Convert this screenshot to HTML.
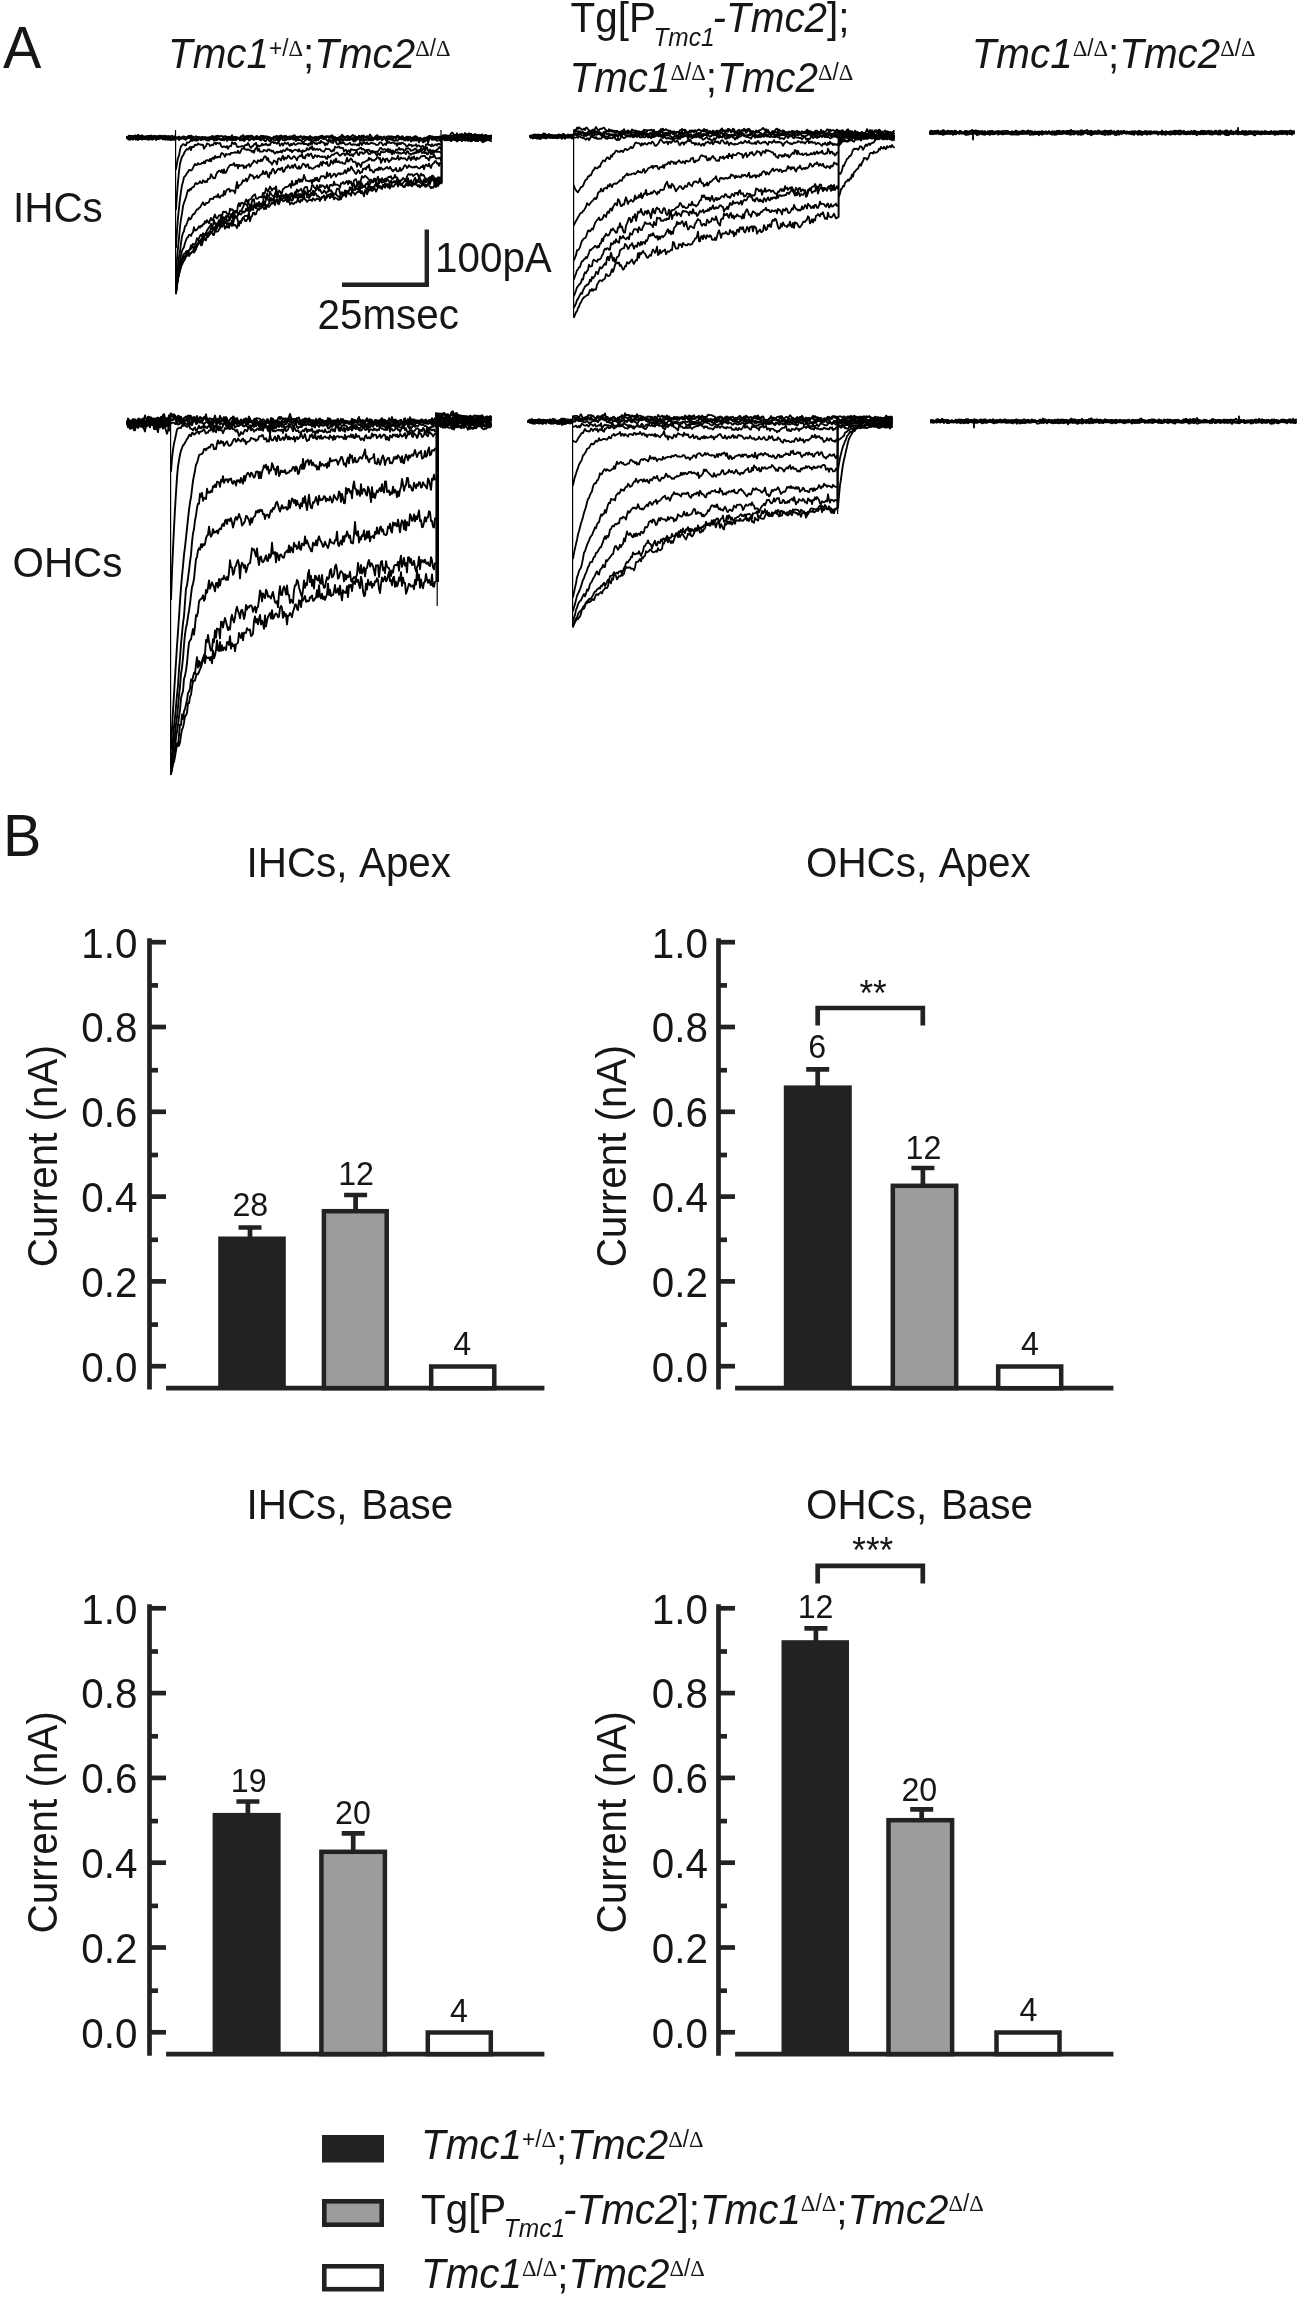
<!DOCTYPE html>
<html lang="en"><head><meta charset="utf-8"><title>Figure: Tmc1 / Tmc2 transduction currents</title>
<style>html,body{margin:0;padding:0;background:#fff}svg{display:block;filter:blur(0.45px)}text{font-family:"Liberation Sans",sans-serif;font-size:40.4px;fill:#161616}.it{font-style:italic}.pl{font-size:57.5px}.n{font-size:32.2px}.st{font-size:35px}.dl{font-family:"Liberation Serif",serif;font-style:normal}.up{font-style:normal}.ax{fill:none;stroke:#222222;stroke-width:4.7}.tr{fill:none;stroke:#000000;stroke-width:1.85;stroke-linejoin:round;stroke-linecap:round}.tv{fill:none;stroke:#000;stroke-width:1.2}</style></head><body>
<svg width="1302" height="2300" viewBox="0 0 1302 2300">
<rect width="1302" height="2300" fill="#fff"/>
<text transform="translate(3 67.5) scale(1 1.04)" class="pl">A</text>
<text transform="translate(3 855.5) scale(1 1.04)" class="pl">B</text>
<text transform="translate(168 67.9) scale(1 1.04)"><tspan class="it">Tmc1</tspan><tspan class="up" font-size="22.6" dy="-11.7">+/</tspan><tspan class="dl" font-size="22.6">Δ</tspan><tspan dy="11.7">;</tspan><tspan class="it">Tmc2</tspan><tspan class="dl" font-size="22.6" dy="-11.7">Δ</tspan><tspan class="up" font-size="22.6">/</tspan><tspan class="dl" font-size="22.6">Δ</tspan><tspan dy="11.7"></tspan></text>
<text transform="translate(570.6 32.2) scale(1 1.04)">Tg[P<tspan class="it" font-size="24.5" dy="13" dx="-2.5">Tmc1</tspan><tspan dy="-13" dx="-2" class="it">-Tmc2</tspan>];</text>
<text transform="translate(569.5 92) scale(1 1.04)"><tspan class="it">Tmc1</tspan><tspan class="dl" font-size="22.6" dy="-11.7">Δ</tspan><tspan class="up" font-size="22.6">/</tspan><tspan class="dl" font-size="22.6">Δ</tspan><tspan dy="11.7">;</tspan><tspan class="it">Tmc2</tspan><tspan class="dl" font-size="22.6" dy="-11.7">Δ</tspan><tspan class="up" font-size="22.6">/</tspan><tspan class="dl" font-size="22.6">Δ</tspan><tspan dy="11.7"></tspan></text>
<text transform="translate(971.7 67.9) scale(1 1.04)"><tspan class="it">Tmc1</tspan><tspan class="dl" font-size="22.6" dy="-11.7">Δ</tspan><tspan class="up" font-size="22.6">/</tspan><tspan class="dl" font-size="22.6">Δ</tspan><tspan dy="11.7">;</tspan><tspan class="it">Tmc2</tspan><tspan class="dl" font-size="22.6" dy="-11.7">Δ</tspan><tspan class="up" font-size="22.6">/</tspan><tspan class="dl" font-size="22.6">Δ</tspan><tspan dy="11.7"></tspan></text>
<text transform="translate(13 221.6) scale(1 1.04)">IHCs</text>
<text transform="translate(12.5 576.6) scale(1 1.04)">OHCs</text>
<path d="M342 284.8H426.8V229.4" fill="none" stroke="#222222" stroke-width="4.4"/>
<text transform="translate(435 272) scale(1 1.04)">100pA</text>
<text transform="translate(317.5 329.2) scale(1 1.04)">25msec</text>
<g>
<path class="tr" d="M127,137.5 128,136.9 129,137.3 130,139.0 131,138.7 132,137.9 133,136.6 134,137.1 135,137.5 136,136.0 137,136.7 138,135.6 139,136.7 140,137.1 141,138.3 142,137.3 143,138.1 144,137.9 145,137.4 146,136.1 147,136.3 148,136.0 149,137.0 150,136.3 151,137.0 152,137.4 153,136.4 154,137.0 155,136.6 156,137.3 157,137.6 158,137.6 159,137.8 160,137.1 161,136.7 162,136.8 163,137.7 164,137.2 165,136.9 166,138.2 167,138.6 168,137.7 169,138.6 170,137.5 171,138.1 172,138.1 173,139.1 174,138.0 175,138.3M176,137.3 177,137.4 178,137.7 179,136.6 180,137.7 181,137.6 182,137.2 183,136.4 184,136.5 185,136.9 186,137.3 187,137.2 188,136.1 189,135.9 190,136.2 191,135.5 192,136.9 193,136.4 194,137.4 195,137.0 196,136.2 197,137.0 198,136.8 199,138.7 200,137.3 201,137.5 202,137.6 203,137.0 204,137.4 205,136.9 206,137.7 207,137.5 208,137.5 209,137.5 210,137.3 211,138.2 212,137.1 213,137.8 214,136.4 215,137.4 216,136.0 217,136.0 218,135.6 219,136.3 220,136.3 221,135.8 222,136.2 223,137.0 224,136.3 225,136.1 226,136.4 227,137.3 228,136.7 229,137.1 230,137.1 231,136.6 232,135.2 233,137.2 234,137.1 235,136.9 236,137.5 237,137.1 238,138.0 239,138.7 240,137.7 241,136.5 242,136.3 243,135.1 244,136.2 245,137.6 246,136.0 247,136.7 248,135.7 249,137.9 250,135.6 251,137.1 252,136.5 253,136.6 254,137.3 255,137.5 256,136.2 257,135.9 258,137.2 259,137.3 260,137.9 261,136.8 262,136.0 263,135.9 264,136.3 265,136.2 266,137.5 267,136.5 268,137.2 269,137.0 270,137.5 271,138.6 272,138.0 273,137.6 274,137.4 275,137.1 276,136.2 277,136.6 278,137.3 279,137.0 280,136.7 281,137.6 282,138.0 283,136.4 284,136.5 285,136.4 286,135.8 287,137.3 288,137.2 289,136.6 290,136.5 291,136.5 292,136.1 293,136.4 294,135.1 295,135.6 296,137.3 297,136.7 298,136.9 299,136.8 300,136.3 301,136.4 302,136.9 303,136.8 304,136.3 305,136.9 306,137.7 307,137.5 308,137.2 309,137.2 310,135.9 311,137.5 312,137.8 313,137.5 314,138.0 315,137.7 316,137.6 317,138.1 318,137.7 319,138.6 320,136.4 321,137.7 322,138.3 323,138.9 324,139.2 325,138.0 326,137.4 327,136.8 328,136.5 329,136.3 330,136.1 331,136.2 332,135.3 333,136.1 334,137.1 335,137.4 336,138.2 337,139.0 338,138.1 339,137.3 340,137.0 341,136.4 342,136.5 343,137.7 344,137.6 345,138.3 346,137.1 347,137.1 348,137.4 349,137.6 350,138.6 351,138.1 352,138.1 353,138.2 354,138.3 355,135.9 356,137.5 357,137.2 358,137.4 359,135.8 360,136.3 361,136.9 362,136.3 363,135.5 364,135.7 365,137.4 366,137.3 367,136.0 368,136.7 369,136.7 370,134.5 371,136.0 372,137.6 373,137.7 374,138.0 375,138.3 376,139.1 377,138.6 378,138.6 379,137.9 380,137.8 381,138.6 382,139.4 383,138.7 384,137.7 385,138.3 386,138.4 387,138.8 388,138.3 389,137.8 390,137.7 391,136.9 392,138.7 393,139.2 394,137.1 395,137.2 396,137.4 397,135.7 398,136.3 399,137.2 400,137.6 401,137.3 402,137.3 403,137.9 404,138.3 405,138.5 406,137.6 407,137.8 408,137.1 409,136.8 410,136.6 411,138.3 412,137.6 413,137.7 414,137.5 415,137.8 416,137.4 417,137.0 418,137.8 419,139.1 420,140.4 421,139.4 422,138.7 423,138.9 424,138.3 425,138.5 426,138.0 427,138.0 428,137.2 429,135.9 430,135.9 431,137.2 432,136.4 433,136.7 434,137.0 435,137.6 436,136.6 437,137.5 438,136.7 439,137.4 440,136.3 441,137.7M442,138.6 443,137.2 444,136.9 445,137.3 446,137.9 447,136.3 448,136.6 449,137.7 450,138.6 451,138.9 452,138.0 453,138.9 454,139.1 455,138.4 456,139.1 457,138.6 458,139.5 459,139.9 460,138.6 461,139.7 462,141.1 463,139.7 464,139.3 465,137.0 466,138.1 467,138.7 468,138.8 469,138.1 470,137.6 471,136.6 472,137.5 473,137.0 474,137.2 475,137.1 476,136.8 477,135.7 478,137.2 479,137.5 480,138.6 481,140.4 482,139.4 483,137.5 484,136.1 485,136.6 486,135.5 487,136.1 488,136.3 489,137.1 490,136.0 491,135.9"/>
<path class="tr" d="M127,137.5 128,138.9 129,137.9 130,137.7 131,136.7 132,136.0 133,137.7 134,136.8 135,137.2 136,136.8 137,136.8 138,136.4 139,136.6 140,137.2 141,137.6 142,138.0 143,137.6 144,136.9 145,137.2 146,137.1 147,138.2 148,138.8 149,139.8 150,138.7 151,137.9 152,137.3 153,136.7 154,136.6 155,136.3 156,137.2 157,137.0 158,136.1 159,136.7 160,135.6 161,137.7 162,138.5 163,139.2 164,138.3 165,138.9 166,139.4 167,138.9 168,139.9 169,138.9 170,140.0 171,140.1 172,139.2 173,139.2 174,139.6 175,138.1M176,137.7 177,137.7 178,137.5 179,137.1 180,137.3 181,138.8 182,137.6 183,136.9 184,138.5 185,139.4 186,139.8 187,138.4 188,137.9 189,137.7 190,138.1 191,137.6 192,138.1 193,139.4 194,137.9 195,138.8 196,139.0 197,138.2 198,139.1 199,137.1 200,137.5 201,139.9 202,137.5 203,137.9 204,138.3 205,137.7 206,138.5 207,138.0 208,138.6 209,137.6 210,137.2 211,137.9 212,135.9 213,136.5 214,136.6 215,137.0 216,138.6 217,137.1 218,137.3 219,138.8 220,138.9 221,140.0 222,139.0 223,138.1 224,138.5 225,138.2 226,139.3 227,138.6 228,138.4 229,137.4 230,137.3 231,139.1 232,139.3 233,138.4 234,137.6 235,138.1 236,138.1 237,138.5 238,137.7 239,138.2 240,137.8 241,136.4 242,136.5 243,136.7 244,136.8 245,137.8 246,139.4 247,138.7 248,139.0 249,139.9 250,139.6 251,139.0 252,138.6 253,137.9 254,138.2 255,138.3 256,137.3 257,137.6 258,137.7 259,137.8 260,136.6 261,135.7 262,136.7 263,137.3 264,136.4 265,137.8 266,136.6 267,136.4 268,138.7 269,137.9 270,137.4 271,138.5 272,138.3 273,137.8 274,136.5 275,137.9 276,136.5 277,136.0 278,136.3 279,136.6 280,135.8 281,135.4 282,137.6 283,136.3 284,136.2 285,137.4 286,137.2 287,136.9 288,138.7 289,138.1 290,137.2 291,137.7 292,137.5 293,137.1 294,138.1 295,137.3 296,138.7 297,137.8 298,138.2 299,137.7 300,137.0 301,137.0 302,137.1 303,138.8 304,138.0 305,137.1 306,136.8 307,137.3 308,137.9 309,138.4 310,139.1 311,139.1 312,139.8 313,138.9 314,138.0 315,136.9 316,136.7 317,138.1 318,137.0 319,136.7 320,137.4 321,137.8 322,137.4 323,136.9 324,136.9 325,137.4 326,136.8 327,136.2 328,136.9 329,137.9 330,136.3 331,136.9 332,136.2 333,136.9 334,138.1 335,137.1 336,138.4 337,137.7 338,138.3 339,138.0 340,137.4 341,136.4 342,134.7 343,135.7 344,136.4 345,137.2 346,137.0 347,135.9 348,135.9 349,136.7 350,137.1 351,136.4 352,135.9 353,134.9 354,136.0 355,137.6 356,137.5 357,138.2 358,137.3 359,136.2 360,137.0 361,136.5 362,135.8 363,137.3 364,137.5 365,137.0 366,137.4 367,137.6 368,137.4 369,138.5 370,138.0 371,138.2 372,138.6 373,138.4 374,138.3 375,138.1 376,137.7 377,137.7 378,137.8 379,139.1 380,136.5 381,137.3 382,138.3 383,138.0 384,136.4 385,137.7 386,137.4 387,136.5 388,136.6 389,136.1 390,137.1 391,136.1 392,137.0 393,136.7 394,137.6 395,137.0 396,138.2 397,137.6 398,136.2 399,138.4 400,138.1 401,137.2 402,136.2 403,136.6 404,138.3 405,139.8 406,137.1 407,138.3 408,137.5 409,139.1 410,139.6 411,139.9 412,138.5 413,137.5 414,137.4 415,136.1 416,136.2 417,138.6 418,139.4 419,139.6 420,137.6 421,139.2 422,140.4 423,140.2 424,138.2 425,137.7 426,138.9 427,137.2 428,136.8 429,138.4 430,137.9 431,137.4 432,137.4 433,138.2 434,138.4 435,137.8 436,139.2 437,138.5 438,137.4 439,138.5 440,138.0 441,138.5M442,138.8 443,138.9 444,139.0 445,138.5 446,138.1 447,136.3 448,137.3 449,136.9 450,138.4 451,138.3 452,137.0 453,136.1 454,137.1 455,137.4 456,136.7 457,137.6 458,137.1 459,137.1 460,137.4 461,137.6 462,136.1 463,138.3 464,137.2 465,138.2 466,137.9 467,139.4 468,139.0 469,138.6 470,138.1 471,138.7 472,138.9 473,139.2 474,140.1 475,139.3 476,140.0 477,139.7 478,140.8 479,138.8 480,137.8 481,139.6 482,140.0 483,139.2 484,139.0 485,138.3 486,138.5 487,137.7 488,137.4 489,138.6 490,137.2 491,137.9"/>
<path class="tr" d="M127,137.5 128,137.9 129,138.4 130,137.7 131,138.3 132,138.7 133,139.6 134,138.3 135,138.9 136,139.7 137,138.6 138,137.7 139,138.4 140,137.6 141,138.5 142,135.2 143,137.1 144,137.8 145,137.8 146,138.4 147,139.5 148,138.7 149,139.0 150,138.3 151,136.7 152,138.8 153,139.3 154,137.8 155,138.1 156,136.8 157,136.9 158,137.0 159,136.9 160,136.8 161,135.8 162,137.4 163,135.8 164,136.9 165,137.5 166,137.5 167,136.7 168,137.9 169,136.8 170,137.2 171,136.9 172,137.2 173,138.6 174,138.4 175,137.8M176,138.5 177,138.8 178,138.5 179,140.1 180,139.1 181,138.5 182,138.7 183,138.1 184,138.9 185,137.7 186,138.6 187,138.3 188,137.0 189,137.7 190,138.1 191,137.9 192,138.2 193,137.5 194,138.0 195,138.9 196,138.8 197,140.5 198,139.6 199,138.7 200,139.4 201,137.8 202,136.8 203,139.5 204,139.2 205,139.0 206,139.8 207,140.3 208,140.6 209,140.5 210,139.0 211,138.0 212,139.0 213,139.5 214,139.6 215,139.9 216,139.7 217,139.4 218,138.7 219,139.4 220,139.4 221,139.6 222,139.7 223,139.5 224,140.3 225,138.8 226,138.3 227,141.0 228,140.0 229,138.8 230,139.9 231,139.5 232,140.4 233,138.3 234,138.3 235,137.6 236,137.0 237,138.2 238,138.2 239,138.8 240,140.5 241,138.5 242,140.3 243,138.2 244,138.6 245,138.5 246,137.9 247,137.0 248,137.0 249,137.3 250,136.7 251,136.2 252,135.6 253,137.8 254,137.7 255,139.1 256,139.2 257,138.8 258,139.1 259,138.2 260,140.1 261,140.3 262,139.1 263,137.9 264,139.6 265,137.3 266,137.0 267,138.9 268,139.0 269,138.4 270,138.6 271,139.3 272,138.7 273,138.5 274,137.6 275,137.4 276,136.8 277,139.3 278,138.8 279,139.8 280,138.1 281,138.2 282,137.8 283,136.5 284,138.2 285,139.2 286,139.3 287,139.4 288,137.9 289,137.9 290,136.7 291,138.5 292,137.5 293,139.6 294,139.7 295,139.1 296,138.2 297,137.4 298,137.4 299,137.0 300,137.3 301,136.3 302,138.0 303,139.4 304,138.9 305,137.4 306,139.1 307,139.1 308,139.1 309,138.4 310,137.8 311,136.8 312,137.6 313,137.6 314,137.9 315,138.5 316,138.4 317,139.2 318,137.9 319,136.9 320,136.7 321,135.9 322,137.3 323,136.6 324,137.1 325,136.8 326,136.2 327,137.0 328,137.1 329,137.6 330,137.3 331,137.9 332,137.8 333,139.6 334,138.4 335,139.5 336,139.7 337,140.6 338,139.8 339,140.6 340,139.7 341,138.7 342,139.0 343,139.4 344,139.0 345,138.4 346,139.8 347,140.2 348,138.0 349,138.9 350,139.4 351,138.3 352,138.6 353,138.9 354,140.1 355,140.3 356,138.5 357,138.8 358,138.7 359,137.3 360,137.3 361,137.7 362,138.0 363,138.2 364,139.8 365,139.8 366,139.9 367,139.5 368,139.4 369,140.4 370,139.4 371,138.1 372,139.0 373,139.9 374,138.8 375,137.0 376,136.0 377,135.1 378,136.4 379,136.7 380,137.9 381,137.6 382,137.1 383,137.8 384,138.3 385,137.7 386,140.7 387,141.1 388,138.4 389,138.7 390,138.3 391,137.3 392,137.6 393,136.6 394,137.7 395,137.4 396,137.1 397,136.9 398,135.8 399,136.5 400,137.7 401,138.5 402,138.4 403,138.0 404,138.5 405,138.6 406,137.5 407,136.6 408,138.4 409,139.1 410,139.1 411,139.5 412,139.3 413,138.4 414,138.8 415,139.3 416,139.2 417,138.9 418,138.8 419,139.6 420,139.7 421,138.6 422,140.1 423,139.6 424,139.9 425,140.1 426,139.1 427,140.3 428,139.9 429,138.0 430,138.0 431,136.3 432,139.3 433,137.4 434,137.1 435,137.8 436,137.0 437,138.5 438,137.5 439,137.2 440,139.6 441,139.4M442,136.9 443,135.2 444,136.8 445,137.5 446,135.1 447,136.5 448,135.7 449,137.3 450,136.6 451,135.7 452,136.0 453,136.3 454,134.6 455,135.1 456,135.9 457,133.3 458,135.3 459,135.2 460,134.1 461,136.7 462,133.8 463,135.2 464,136.6 465,136.9 466,136.7 467,137.3 468,135.7 469,136.6 470,135.9 471,134.9 472,136.3 473,134.9 474,135.9 475,135.9 476,134.9 477,135.2 478,136.1 479,134.7 480,135.6 481,135.0 482,134.4 483,135.7 484,135.4 485,135.6 486,136.0 487,136.1 488,135.9 489,136.6 490,135.6 491,135.4"/>
<path class="tr" d="M127,137.5 128,138.3 129,139.0 130,137.8 131,138.4 132,138.7 133,136.7 134,138.0 135,137.5 136,138.8 137,138.2 138,136.7 139,137.3 140,138.7 141,138.6 142,139.1 143,139.1 144,138.3 145,137.8 146,137.9 147,138.0 148,136.4 149,135.7 150,136.4 151,136.7 152,138.3 153,138.4 154,138.4 155,138.0 156,137.2 157,137.0 158,136.2 159,137.3 160,138.2 161,137.0 162,137.2 163,137.7 164,137.5 165,137.6 166,136.9 167,137.1 168,136.9 169,137.3 170,137.3 171,137.0 172,136.8 173,137.8 174,137.9 175,137.8M176,169.2 177,163.1 178,158.0 179,155.7 180,150.1 181,146.3 182,145.4 183,144.1 184,144.4 185,145.3 186,145.4 187,142.4 188,142.6 189,142.4 190,141.4 191,139.4 192,141.0 193,139.8 194,140.4 195,139.7 196,140.7 197,139.5 198,140.2 199,138.1 200,138.5 201,140.0 202,138.9 203,139.4 204,138.6 205,138.4 206,139.8 207,139.0 208,138.7 209,139.1 210,139.5 211,138.7 212,138.8 213,138.4 214,140.6 215,138.5 216,140.2 217,140.1 218,139.1 219,138.0 220,139.5 221,138.8 222,139.9 223,139.7 224,140.1 225,138.9 226,137.3 227,138.2 228,138.5 229,137.5 230,139.2 231,137.4 232,140.6 233,139.5 234,140.3 235,138.7 236,140.3 237,138.5 238,139.0 239,138.1 240,138.0 241,139.1 242,140.1 243,139.3 244,141.0 245,140.2 246,138.1 247,137.9 248,138.7 249,140.7 250,139.7 251,139.4 252,138.6 253,139.1 254,140.1 255,138.4 256,138.0 257,139.2 258,138.8 259,139.1 260,137.6 261,138.7 262,139.6 263,138.9 264,139.9 265,141.1 266,141.0 267,139.3 268,137.8 269,140.7 270,141.3 271,140.9 272,139.0 273,139.3 274,139.9 275,140.6 276,139.9 277,139.6 278,139.9 279,141.2 280,139.9 281,138.7 282,138.7 283,140.1 284,140.4 285,140.1 286,140.2 287,138.6 288,139.0 289,139.3 290,139.3 291,138.4 292,138.6 293,137.4 294,138.3 295,139.3 296,141.0 297,139.8 298,139.7 299,140.4 300,139.8 301,140.1 302,141.4 303,141.8 304,141.9 305,140.3 306,139.8 307,139.2 308,139.3 309,140.0 310,140.5 311,140.5 312,141.6 313,141.5 314,140.6 315,139.1 316,140.7 317,139.1 318,140.2 319,139.4 320,137.5 321,137.3 322,135.7 323,136.1 324,137.3 325,138.7 326,139.1 327,140.6 328,141.0 329,139.6 330,141.0 331,140.5 332,140.7 333,140.6 334,138.5 335,138.6 336,138.8 337,139.3 338,139.6 339,140.2 340,139.8 341,140.5 342,139.5 343,141.2 344,140.2 345,138.6 346,140.1 347,140.0 348,138.8 349,140.2 350,139.4 351,139.5 352,138.6 353,140.6 354,141.6 355,141.2 356,140.5 357,139.6 358,138.3 359,139.0 360,140.8 361,138.8 362,140.7 363,140.3 364,140.1 365,139.1 366,139.7 367,139.3 368,139.4 369,139.8 370,139.2 371,140.4 372,139.5 373,140.2 374,139.3 375,138.5 376,138.3 377,139.9 378,139.6 379,139.3 380,138.0 381,138.8 382,140.4 383,139.3 384,137.9 385,138.5 386,138.7 387,138.5 388,139.6 389,138.4 390,139.5 391,139.4 392,140.0 393,140.5 394,140.3 395,140.9 396,139.7 397,140.6 398,140.6 399,139.1 400,139.2 401,138.6 402,139.5 403,138.0 404,140.4 405,140.5 406,140.2 407,139.5 408,140.6 409,139.3 410,139.6 411,141.5 412,140.7 413,140.0 414,140.7 415,139.5 416,140.7 417,139.6 418,140.5 419,142.4 420,140.4 421,139.9 422,140.4 423,142.4 424,141.7 425,141.5 426,139.1 427,139.8 428,142.7 429,140.2 430,138.2 431,137.9 432,139.8 433,139.3 434,139.6 435,139.8 436,139.9 437,141.0 438,140.4 439,140.0 440,140.5 441,141.5M442,138.5 443,137.7 444,136.6 445,137.9 446,137.6 447,137.7 448,138.1 449,138.1 450,139.3 451,137.6 452,137.8 453,137.0 454,139.2 455,138.7 456,137.6 457,138.7 458,138.0 459,138.8 460,137.6 461,138.4 462,137.8 463,138.6 464,139.5 465,139.3 466,138.2 467,138.5 468,137.2 469,138.4 470,138.6 471,139.4 472,137.8 473,139.2 474,138.1 475,138.1 476,138.3 477,137.4 478,137.6 479,138.1 480,136.3 481,138.5 482,137.8 483,138.0 484,137.0 485,136.7 486,136.7 487,137.4 488,138.1 489,137.5 490,136.3 491,136.9"/>
<path class="tr" d="M127,137.5 128,138.4 129,138.4 130,137.1 131,137.8 132,137.5 133,138.5 134,137.6 135,138.3 136,137.7 137,138.1 138,138.6 139,137.2 140,137.4 141,137.3 142,137.3 143,136.5 144,138.4 145,137.5 146,138.0 147,138.5 148,136.9 149,137.5 150,136.8 151,137.3 152,138.0 153,137.2 154,137.5 155,137.5 156,137.7 157,137.5 158,138.9 159,138.6 160,138.1 161,138.0 162,137.6 163,138.7 164,138.8 165,139.6 166,136.7 167,137.2 168,138.2 169,137.3 170,137.3 171,138.3 172,139.7 173,138.7 174,138.6 175,138.4M176,209.2 177,194.0 178,181.8 179,171.5 180,163.8 181,160.1 182,156.7 183,155.7 184,153.5 185,151.5 186,150.0 187,148.9 188,149.6 189,148.2 190,146.9 191,150.1 192,146.6 193,147.1 194,146.9 195,144.6 196,145.2 197,145.0 198,143.5 199,144.4 200,144.4 201,144.9 202,144.6 203,144.9 204,148.7 205,146.8 206,146.2 207,143.5 208,143.9 209,144.1 210,146.0 211,145.3 212,144.7 213,145.3 214,143.3 215,142.6 216,144.3 217,142.7 218,143.3 219,143.5 220,142.9 221,145.6 222,146.8 223,147.0 224,146.4 225,146.7 226,147.5 227,146.1 228,148.8 229,146.7 230,146.0 231,146.2 232,142.7 233,142.8 234,144.1 235,142.8 236,143.9 237,146.7 238,147.1 239,146.6 240,146.7 241,146.5 242,146.2 243,146.1 244,147.2 245,145.3 246,144.7 247,145.1 248,143.0 249,144.8 250,146.8 251,147.9 252,146.2 253,146.2 254,144.1 255,144.4 256,142.7 257,147.3 258,145.4 259,146.5 260,145.9 261,145.8 262,143.7 263,145.3 264,144.4 265,144.8 266,143.6 267,145.0 268,145.3 269,144.5 270,145.1 271,142.2 272,142.3 273,141.7 274,143.1 275,142.4 276,143.1 277,143.8 278,141.9 279,143.0 280,145.8 281,144.3 282,143.6 283,145.5 284,143.6 285,142.5 286,143.7 287,143.7 288,142.7 289,144.8 290,145.9 291,143.8 292,145.1 293,143.7 294,143.0 295,144.8 296,144.6 297,144.2 298,143.2 299,143.4 300,143.5 301,143.4 302,143.6 303,142.3 304,144.2 305,144.0 306,144.2 307,144.0 308,145.6 309,143.4 310,144.7 311,142.3 312,144.0 313,142.3 314,142.1 315,143.8 316,143.1 317,144.3 318,143.0 319,142.5 320,143.3 321,140.7 322,142.3 323,142.4 324,142.8 325,145.3 326,143.3 327,144.8 328,143.2 329,140.8 330,139.8 331,142.3 332,142.5 333,143.0 334,140.4 335,140.7 336,142.1 337,144.2 338,144.5 339,143.9 340,141.2 341,143.7 342,142.7 343,143.0 344,142.8 345,144.3 346,144.7 347,144.5 348,144.1 349,143.5 350,142.8 351,144.6 352,145.0 353,144.2 354,144.6 355,144.4 356,144.6 357,145.4 358,144.2 359,145.8 360,142.3 361,143.2 362,145.0 363,142.8 364,141.7 365,143.5 366,144.1 367,142.1 368,144.0 369,144.1 370,143.7 371,142.7 372,142.9 373,143.5 374,143.5 375,143.9 376,144.8 377,144.8 378,144.9 379,143.4 380,142.3 381,142.4 382,143.6 383,145.3 384,144.5 385,143.6 386,144.9 387,141.9 388,142.9 389,141.8 390,142.9 391,143.1 392,142.7 393,142.6 394,142.8 395,143.8 396,143.2 397,145.9 398,143.0 399,144.2 400,142.9 401,144.1 402,142.6 403,143.0 404,143.9 405,144.2 406,146.0 407,146.4 408,145.7 409,144.2 410,145.0 411,144.8 412,146.4 413,145.3 414,145.6 415,145.5 416,144.2 417,146.8 418,145.5 419,145.5 420,146.4 421,147.0 422,146.2 423,146.0 424,147.6 425,148.7 426,144.5 427,144.3 428,144.0 429,145.0 430,144.9 431,146.2 432,144.3 433,146.0 434,145.7 435,144.5 436,144.3 437,145.5 438,143.8 439,143.6 440,144.6 441,144.1M442,136.4 443,135.7 444,135.5 445,136.3 446,136.3 447,137.3 448,138.7 449,138.7 450,137.2 451,137.6 452,137.3 453,136.6 454,138.8 455,139.5 456,138.7 457,137.7 458,136.9 459,136.6 460,136.6 461,136.0 462,136.7 463,136.1 464,136.1 465,137.0 466,136.2 467,136.7 468,135.1 469,135.4 470,136.8 471,135.2 472,136.5 473,136.4 474,136.1 475,137.3 476,136.9 477,136.4 478,136.6 479,137.6 480,137.9 481,137.8 482,139.0 483,138.8 484,138.1 485,138.0 486,137.5 487,136.6 488,137.6 489,136.8 490,137.1 491,137.4"/>
<path class="tr" d="M127,137.5 128,138.0 129,138.1 130,136.8 131,136.6 132,137.6 133,136.8 134,137.0 135,135.4 136,135.7 137,137.1 138,134.9 139,135.4 140,136.2 141,136.8 142,137.6 143,136.3 144,138.3 145,138.8 146,136.9 147,137.1 148,137.8 149,137.7 150,137.2 151,135.4 152,137.6 153,137.9 154,137.4 155,137.3 156,138.7 157,138.2 158,137.8 159,138.7 160,136.5 161,136.9 162,137.8 163,139.2 164,138.6 165,136.7 166,137.6 167,137.5 168,136.2 169,136.9 170,137.7 171,137.7 172,138.4 173,138.4 174,139.8 175,137.9M176,247.3 177,230.2 178,217.6 179,207.9 180,199.0 181,191.4 182,185.3 183,181.7 184,177.1 185,176.2 186,175.0 187,172.9 188,172.2 189,169.9 190,170.2 191,170.5 192,169.9 193,167.8 194,165.7 195,164.0 196,165.0 197,164.8 198,163.1 199,164.3 200,164.2 201,163.9 202,162.8 203,163.2 204,161.4 205,163.3 206,160.6 207,160.1 208,160.3 209,161.1 210,158.9 211,161.4 212,158.5 213,157.6 214,159.0 215,156.0 216,157.9 217,157.0 218,157.3 219,156.6 220,157.4 221,153.9 222,153.0 223,153.7 224,154.8 225,156.7 226,153.9 227,154.6 228,154.4 229,154.0 230,154.7 231,152.8 232,152.8 233,152.8 234,152.6 235,152.1 236,152.6 237,152.9 238,150.6 239,153.0 240,152.9 241,150.6 242,148.7 243,148.6 244,148.4 245,149.3 246,149.3 247,150.1 248,149.3 249,149.9 250,150.5 251,150.5 252,151.9 253,150.8 254,152.7 255,149.4 256,148.1 257,148.2 258,150.9 259,148.7 260,151.7 261,151.6 262,151.7 263,151.3 264,149.9 265,150.3 266,150.9 267,151.4 268,149.5 269,149.3 270,150.6 271,150.3 272,151.6 273,150.7 274,152.5 275,153.6 276,152.3 277,151.8 278,152.7 279,151.7 280,152.1 281,150.8 282,152.5 283,150.1 284,150.7 285,151.0 286,149.6 287,148.3 288,149.9 289,149.6 290,151.0 291,149.9 292,152.2 293,150.9 294,150.4 295,149.6 296,149.9 297,150.1 298,151.4 299,149.2 300,151.3 301,151.0 302,152.9 303,150.3 304,151.4 305,150.9 306,150.4 307,148.2 308,149.9 309,149.6 310,147.4 311,148.8 312,146.2 313,150.0 314,148.2 315,149.8 316,149.4 317,148.9 318,150.0 319,149.1 320,149.2 321,150.4 322,151.0 323,151.5 324,151.7 325,150.1 326,148.5 327,148.9 328,149.1 329,149.0 330,149.9 331,151.2 332,151.6 333,149.9 334,150.7 335,146.8 336,147.4 337,147.6 338,147.0 339,146.4 340,148.1 341,147.6 342,147.9 343,147.9 344,151.4 345,150.3 346,149.7 347,151.7 348,151.1 349,150.3 350,152.8 351,149.1 352,149.5 353,149.8 354,150.0 355,150.2 356,150.2 357,149.9 358,149.2 359,148.8 360,148.2 361,147.7 362,149.6 363,148.8 364,149.5 365,151.0 366,150.3 367,150.0 368,149.8 369,149.6 370,151.3 371,151.5 372,150.9 373,151.1 374,151.5 375,152.9 376,151.5 377,151.9 378,151.2 379,150.1 380,148.2 381,147.8 382,149.1 383,149.8 384,149.4 385,149.2 386,150.0 387,150.4 388,148.8 389,150.2 390,149.4 391,150.7 392,150.8 393,150.5 394,151.9 395,151.8 396,149.5 397,150.4 398,149.4 399,147.8 400,149.9 401,149.0 402,149.5 403,149.1 404,151.0 405,150.6 406,148.5 407,148.7 408,148.1 409,148.8 410,149.4 411,150.9 412,150.2 413,150.4 414,149.4 415,148.7 416,148.9 417,152.3 418,150.1 419,150.8 420,150.0 421,148.2 422,150.5 423,148.7 424,148.3 425,150.5 426,149.1 427,147.3 428,150.7 429,151.1 430,149.6 431,150.5 432,154.2 433,150.2 434,152.9 435,150.7 436,150.7 437,149.3 438,149.1 439,147.2 440,147.2 441,149.1M442,136.7 443,137.5 444,138.0 445,137.5 446,137.4 447,136.6 448,136.0 449,136.5 450,135.5 451,136.2 452,136.8 453,136.0 454,136.8 455,136.0 456,134.7 457,134.9 458,134.9 459,136.1 460,137.0 461,135.8 462,135.5 463,135.8 464,135.0 465,133.0 466,134.4 467,134.1 468,134.3 469,133.3 470,134.9 471,133.7 472,135.7 473,134.8 474,134.6 475,134.0 476,134.8 477,135.1 478,135.4 479,138.4 480,137.6 481,137.4 482,138.0 483,136.8 484,136.7 485,135.8 486,137.8 487,136.1 488,136.3 489,136.3 490,136.6 491,136.4"/>
<path class="tr" d="M127,137.5 128,137.1 129,135.6 130,136.9 131,136.7 132,138.8 133,138.1 134,137.3 135,137.0 136,136.9 137,137.8 138,137.9 139,137.3 140,136.3 141,136.5 142,137.7 143,138.6 144,137.5 145,137.9 146,138.9 147,137.6 148,139.3 149,138.2 150,139.1 151,137.7 152,137.5 153,137.6 154,137.4 155,136.8 156,136.6 157,136.9 158,136.8 159,137.6 160,137.3 161,137.6 162,137.6 163,138.4 164,138.8 165,138.0 166,137.1 167,138.5 168,137.3 169,136.6 170,138.5 171,139.2 172,138.4 173,137.7 174,137.3 175,137.3M176,273.6 177,259.3 178,247.5 179,238.1 180,226.7 181,219.0 182,213.6 183,206.3 184,202.8 185,200.1 186,197.3 187,193.6 188,190.0 189,190.9 190,188.9 191,189.7 192,187.7 193,187.2 194,186.7 195,183.7 196,182.9 197,184.1 198,183.5 199,183.0 200,181.3 201,182.7 202,183.2 203,180.3 204,181.2 205,182.3 206,181.0 207,182.0 208,178.8 209,178.9 210,178.3 211,174.1 212,176.0 213,177.8 214,178.3 215,178.2 216,175.2 217,172.7 218,171.8 219,170.7 220,170.9 221,172.2 222,170.0 223,173.0 224,169.5 225,173.1 226,172.5 227,170.4 228,167.7 229,166.7 230,164.9 231,165.0 232,164.7 233,164.7 234,163.0 235,166.0 236,165.2 237,164.7 238,168.3 239,164.8 240,166.0 241,165.6 242,165.2 243,165.4 244,168.2 245,166.2 246,167.8 247,165.4 248,165.2 249,163.9 250,166.7 251,165.4 252,163.5 253,162.6 254,160.5 255,161.5 256,162.0 257,163.2 258,160.3 259,160.9 260,161.4 261,159.4 262,161.1 263,159.6 264,157.1 265,156.2 266,156.9 267,160.0 268,158.0 269,161.6 270,161.9 271,162.8 272,164.5 273,162.6 274,160.5 275,161.1 276,162.1 277,164.3 278,158.9 279,158.2 280,159.0 281,160.5 282,157.6 283,155.7 284,159.9 285,157.4 286,158.7 287,158.1 288,155.7 289,156.2 290,158.0 291,158.8 292,158.7 293,156.9 294,156.1 295,157.2 296,158.5 297,160.3 298,157.3 299,156.7 300,155.5 301,156.4 302,154.2 303,158.0 304,157.1 305,158.4 306,155.1 307,155.5 308,153.7 309,156.1 310,154.3 311,153.5 312,155.9 313,158.1 314,157.3 315,155.1 316,155.7 317,157.0 318,155.6 319,155.9 320,156.9 321,156.8 322,156.3 323,157.2 324,156.9 325,156.4 326,158.5 327,159.0 328,155.7 329,157.4 330,157.0 331,155.8 332,154.6 333,154.8 334,154.3 335,153.4 336,153.3 337,152.4 338,153.4 339,155.0 340,155.7 341,155.2 342,153.9 343,153.5 344,153.5 345,155.4 346,154.4 347,152.0 348,154.5 349,153.9 350,155.5 351,155.4 352,154.2 353,156.2 354,154.1 355,153.5 356,151.9 357,151.8 358,154.7 359,155.2 360,152.3 361,152.7 362,152.3 363,153.9 364,153.4 365,152.5 366,151.8 367,150.6 368,152.9 369,154.1 370,154.1 371,152.9 372,152.3 373,152.5 374,151.9 375,151.8 376,154.2 377,155.8 378,153.1 379,154.2 380,155.1 381,151.4 382,152.1 383,152.2 384,152.2 385,151.9 386,151.3 387,149.8 388,151.8 389,151.3 390,152.4 391,151.4 392,154.4 393,151.8 394,153.5 395,151.9 396,152.6 397,152.8 398,152.1 399,153.5 400,152.8 401,153.9 402,153.1 403,152.8 404,152.7 405,152.8 406,154.1 407,151.2 408,151.3 409,153.6 410,153.8 411,154.7 412,153.9 413,153.2 414,153.7 415,152.2 416,153.2 417,151.7 418,152.5 419,152.2 420,150.5 421,151.2 422,153.1 423,152.9 424,151.5 425,153.3 426,152.2 427,154.3 428,154.2 429,150.9 430,152.0 431,154.0 432,152.7 433,152.1 434,151.8 435,151.1 436,151.8 437,151.8 438,151.5 439,151.9 440,152.0 441,152.5M442,138.9 443,138.4 444,138.4 445,138.3 446,135.9 447,137.5 448,137.9 449,137.7 450,137.4 451,137.6 452,139.3 453,139.0 454,139.8 455,139.5 456,139.3 457,140.4 458,139.0 459,139.9 460,139.2 461,139.9 462,139.4 463,139.8 464,138.7 465,139.2 466,138.3 467,137.2 468,138.1 469,137.9 470,139.7 471,138.5 472,139.3 473,139.7 474,138.8 475,139.2 476,139.5 477,140.2 478,139.4 479,138.2 480,138.8 481,139.6 482,138.5 483,139.0 484,140.1 485,139.0 486,139.6 487,137.6 488,138.3 489,138.1 490,137.8 491,138.6"/>
<path class="tr" d="M127,137.5 128,138.3 129,138.3 130,138.0 131,138.4 132,138.6 133,138.2 134,137.9 135,136.6 136,137.2 137,137.5 138,138.4 139,138.5 140,138.0 141,138.6 142,138.5 143,137.9 144,138.4 145,138.9 146,138.5 147,138.0 148,138.3 149,138.0 150,136.5 151,136.6 152,136.4 153,136.6 154,136.8 155,138.1 156,138.2 157,137.2 158,139.3 159,137.5 160,137.4 161,137.6 162,136.6 163,138.1 164,138.5 165,137.4 166,137.0 167,137.3 168,136.5 169,137.9 170,137.1 171,136.5 172,136.6 173,136.9 174,137.8 175,136.7M176,286.0 177,275.1 178,266.3 179,257.4 180,251.3 181,243.1 182,236.4 183,233.1 184,231.0 185,226.3 186,225.6 187,223.1 188,220.0 189,217.6 190,219.5 191,218.8 192,216.1 193,214.2 194,214.2 195,212.9 196,210.9 197,209.3 198,209.4 199,207.9 200,207.5 201,205.7 202,203.9 203,202.2 204,204.6 205,205.1 206,203.0 207,203.1 208,202.7 209,202.0 210,199.1 211,198.6 212,198.9 213,199.1 214,197.0 215,196.9 216,196.2 217,197.1 218,194.2 219,197.3 220,197.7 221,195.7 222,195.3 223,195.9 224,191.0 225,194.8 226,191.3 227,189.9 228,189.0 229,188.8 230,191.8 231,190.1 232,190.6 233,190.5 234,191.1 235,193.2 236,187.3 237,181.9 238,188.2 239,185.4 240,185.1 241,184.4 242,182.8 243,180.2 244,181.1 245,180.7 246,178.5 247,181.4 248,179.1 249,177.3 250,174.4 251,175.6 252,175.1 253,176.2 254,178.7 255,177.2 256,177.0 257,175.5 258,178.0 259,177.3 260,175.4 261,174.6 262,174.3 263,171.0 264,173.9 265,174.1 266,171.4 267,172.6 268,176.4 269,177.5 270,172.7 271,173.7 272,170.0 273,168.8 274,170.5 275,173.4 276,172.1 277,170.4 278,168.9 279,168.6 280,170.0 281,168.4 282,167.6 283,171.9 284,171.6 285,169.3 286,167.2 287,167.8 288,165.1 289,166.8 290,168.2 291,167.0 292,165.4 293,167.9 294,165.5 295,164.2 296,167.0 297,168.3 298,168.7 299,166.1 300,168.9 301,168.0 302,165.5 303,163.6 304,164.0 305,165.3 306,167.0 307,164.6 308,164.3 309,168.4 310,167.4 311,168.0 312,168.7 313,168.7 314,167.8 315,167.2 316,166.1 317,166.4 318,165.3 319,166.9 320,164.2 321,162.1 322,165.5 323,161.4 324,162.9 325,162.8 326,163.8 327,161.8 328,165.9 329,165.8 330,164.7 331,160.5 332,162.1 333,163.8 334,160.1 335,162.4 336,158.6 337,162.1 338,162.2 339,161.2 340,162.6 341,162.9 342,162.1 343,163.6 344,163.6 345,163.9 346,161.2 347,157.7 348,161.5 349,161.4 350,159.5 351,158.5 352,159.6 353,161.8 354,161.8 355,161.7 356,162.8 357,166.7 358,163.1 359,163.5 360,165.2 361,167.0 362,162.9 363,162.2 364,162.4 365,161.8 366,161.1 367,160.5 368,160.3 369,157.8 370,159.5 371,158.6 372,160.5 373,160.0 374,160.8 375,159.8 376,159.1 377,157.4 378,157.2 379,158.7 380,157.9 381,163.0 382,160.7 383,158.3 384,159.3 385,162.0 386,158.9 387,158.5 388,160.3 389,162.1 390,160.6 391,160.2 392,157.7 393,158.9 394,158.3 395,159.0 396,159.1 397,158.3 398,155.5 399,159.8 400,159.1 401,157.5 402,158.4 403,158.7 404,158.1 405,158.4 406,159.4 407,160.3 408,158.7 409,156.1 410,158.4 411,160.3 412,157.1 413,158.9 414,156.4 415,158.9 416,160.1 417,157.5 418,158.9 419,158.7 420,157.9 421,156.2 422,156.3 423,155.8 424,156.0 425,156.0 426,158.1 427,157.9 428,158.9 429,160.5 430,156.2 431,157.6 432,156.9 433,157.2 434,154.7 435,157.1 436,158.6 437,158.4 438,158.2 439,158.3 440,157.7 441,160.4M442,139.7 443,138.2 444,137.1 445,137.8 446,137.3 447,138.1 448,137.6 449,136.9 450,136.1 451,136.9 452,136.2 453,135.9 454,135.2 455,135.8 456,137.1 457,135.9 458,136.8 459,136.6 460,135.8 461,138.7 462,136.3 463,138.4 464,137.9 465,137.7 466,138.7 467,135.8 468,136.7 469,137.7 470,136.5 471,137.0 472,137.7 473,136.4 474,137.7 475,138.3 476,138.9 477,139.5 478,138.9 479,138.8 480,136.7 481,137.1 482,136.7 483,137.0 484,137.1 485,135.9 486,135.0 487,136.0 488,137.2 489,137.4 490,137.8 491,136.7"/>
<path class="tr" d="M127,137.5 128,136.9 129,136.8 130,137.1 131,137.2 132,136.7 133,137.6 134,137.3 135,137.0 136,137.3 137,138.6 138,140.1 139,139.1 140,139.1 141,138.5 142,139.6 143,138.5 144,136.8 145,137.9 146,137.8 147,138.4 148,136.8 149,137.3 150,136.7 151,137.3 152,136.2 153,136.4 154,136.4 155,136.5 156,136.5 157,136.4 158,137.3 159,135.7 160,136.8 161,137.1 162,137.3 163,137.0 164,137.7 165,137.7 166,139.5 167,137.8 168,137.4 169,137.2 170,137.3 171,137.5 172,136.9 173,137.0 174,138.1 175,137.7M176,291.1 177,283.4 178,276.1 179,269.0 180,261.7 181,255.5 182,251.0 183,248.7 184,247.0 185,243.0 186,240.3 187,237.8 188,237.2 189,234.8 190,234.6 191,235.9 192,233.5 193,232.2 194,227.3 195,230.6 196,230.1 197,229.6 198,228.1 199,226.3 200,227.7 201,225.6 202,226.3 203,224.2 204,224.3 205,221.1 206,222.8 207,220.2 208,221.7 209,223.3 210,220.1 211,217.9 212,220.2 213,220.0 214,216.6 215,214.5 216,217.8 217,218.4 218,217.1 219,215.5 220,215.4 221,214.7 222,216.5 223,211.8 224,211.6 225,212.2 226,211.7 227,213.8 228,214.0 229,214.3 230,208.6 231,210.0 232,209.3 233,209.8 234,211.8 235,212.2 236,212.4 237,211.6 238,205.3 239,203.0 240,206.2 241,203.1 242,202.6 243,203.5 244,203.3 245,202.3 246,199.5 247,200.2 248,204.5 249,199.8 250,199.4 251,199.1 252,197.1 253,195.9 254,195.0 255,194.3 256,198.4 257,198.8 258,198.3 259,197.1 260,197.2 261,196.7 262,197.4 263,192.8 264,194.0 265,192.8 266,188.3 267,190.0 268,191.8 269,189.1 270,186.5 271,188.3 272,190.5 273,188.8 274,188.3 275,189.0 276,186.4 277,192.8 278,193.1 279,190.5 280,191.4 281,193.9 282,192.8 283,189.0 284,188.5 285,187.3 286,187.0 287,186.9 288,186.5 289,185.3 290,184.1 291,187.5 292,180.9 293,185.3 294,184.5 295,184.5 296,180.6 297,183.8 298,180.3 299,179.1 300,182.0 301,179.4 302,181.6 303,179.6 304,175.0 305,177.7 306,180.8 307,180.8 308,180.8 309,181.6 310,180.7 311,180.1 312,183.6 313,179.7 314,181.3 315,178.0 316,180.3 317,177.6 318,180.8 319,181.3 320,178.3 321,176.2 322,176.2 323,176.4 324,176.1 325,178.2 326,177.9 327,172.5 328,176.4 329,174.6 330,173.4 331,177.6 332,176.1 333,175.3 334,173.6 335,174.2 336,176.6 337,175.0 338,173.7 339,173.1 340,174.6 341,173.3 342,173.8 343,173.7 344,172.4 345,170.2 346,173.3 347,171.5 348,168.4 349,170.8 350,170.1 351,166.7 352,167.9 353,170.0 354,171.1 355,172.8 356,174.0 357,172.6 358,170.1 359,170.7 360,173.3 361,172.4 362,172.3 363,168.7 364,168.9 365,168.1 366,169.4 367,166.4 368,167.3 369,164.7 370,170.6 371,169.6 372,170.4 373,172.4 374,172.5 375,169.7 376,170.0 377,169.0 378,170.2 379,167.4 380,169.6 381,167.6 382,168.7 383,169.8 384,169.2 385,168.5 386,167.8 387,166.9 388,168.4 389,168.6 390,166.7 391,168.6 392,170.2 393,171.4 394,169.8 395,169.8 396,168.0 397,171.3 398,171.4 399,171.0 400,167.8 401,170.8 402,169.7 403,168.7 404,166.3 405,165.1 406,165.9 407,168.0 408,167.0 409,165.3 410,166.5 411,166.8 412,167.4 413,167.5 414,166.8 415,167.5 416,166.3 417,166.8 418,167.9 419,168.4 420,168.4 421,166.6 422,167.1 423,165.3 424,169.3 425,165.8 426,164.5 427,165.6 428,166.2 429,163.6 430,166.4 431,168.0 432,164.8 433,163.6 434,163.2 435,161.1 436,161.2 437,163.5 438,163.1 439,165.9 440,163.0 441,163.1M442,138.7 443,139.0 444,139.7 445,140.4 446,139.8 447,140.3 448,139.8 449,140.3 450,139.5 451,141.0 452,139.5 453,138.9 454,139.1 455,140.0 456,140.3 457,141.5 458,140.5 459,139.1 460,138.9 461,137.8 462,138.4 463,138.1 464,138.5 465,138.2 466,138.0 467,138.7 468,141.0 469,140.1 470,140.8 471,141.3 472,140.1 473,139.8 474,139.3 475,140.5 476,141.0 477,140.8 478,141.2 479,140.0 480,139.1 481,138.9 482,138.6 483,139.3 484,139.1 485,136.6 486,139.3 487,137.5 488,138.9 489,138.3 490,139.1 491,138.8"/>
<path class="tr" d="M127,137.5 128,137.3 129,137.6 130,137.9 131,137.1 132,137.1 133,136.2 134,136.1 135,137.7 136,137.1 137,136.9 138,136.4 139,136.4 140,136.6 141,136.1 142,136.3 143,137.2 144,137.9 145,138.1 146,137.4 147,137.9 148,138.0 149,137.7 150,137.7 151,138.3 152,139.8 153,138.8 154,138.4 155,138.6 156,140.1 157,138.2 158,139.0 159,137.8 160,138.0 161,138.3 162,137.8 163,137.2 164,137.3 165,135.6 166,137.7 167,136.2 168,137.9 169,138.8 170,138.0 171,137.2 172,137.3 173,137.3 174,137.9 175,137.7M176,291.2 177,281.7 178,274.5 179,270.3 180,266.2 181,262.1 182,258.9 183,256.2 184,253.9 185,253.5 186,251.5 187,251.0 188,250.9 189,250.2 190,249.1 191,245.3 192,246.0 193,243.8 194,244.5 195,244.4 196,242.0 197,238.1 198,239.9 199,238.2 200,235.8 201,234.7 202,236.5 203,233.2 204,234.8 205,234.7 206,233.0 207,230.4 208,229.2 209,227.3 210,226.7 211,223.7 212,228.4 213,225.1 214,220.2 215,224.1 216,223.3 217,225.1 218,222.9 219,220.0 220,221.9 221,216.7 222,218.7 223,219.6 224,221.7 225,219.2 226,216.0 227,221.2 228,220.6 229,220.8 230,217.3 231,214.1 232,215.3 233,212.2 234,218.6 235,210.8 236,211.7 237,211.2 238,214.4 239,213.8 240,210.8 241,211.1 242,209.1 243,207.2 244,204.9 245,203.7 246,204.3 247,204.8 248,209.1 249,210.4 250,210.6 251,206.2 252,201.1 253,199.5 254,199.3 255,207.1 256,208.1 257,203.2 258,205.2 259,206.8 260,206.7 261,204.3 262,203.5 263,202.3 264,195.8 265,196.6 266,198.6 267,195.0 268,196.3 269,196.5 270,191.6 271,194.2 272,195.2 273,196.1 274,196.8 275,193.9 276,190.8 277,196.1 278,196.6 279,196.1 280,195.6 281,197.1 282,196.4 283,195.7 284,196.5 285,195.4 286,193.8 287,196.6 288,196.3 289,197.9 290,194.1 291,193.5 292,196.5 293,198.7 294,195.8 295,192.0 296,191.6 297,189.5 298,192.0 299,190.6 300,190.0 301,188.7 302,191.2 303,194.1 304,188.6 305,187.2 306,186.8 307,186.8 308,192.7 309,191.0 310,191.2 311,189.7 312,185.2 313,185.1 314,187.2 315,188.2 316,188.9 317,185.3 318,188.1 319,188.0 320,185.0 321,187.0 322,185.3 323,185.7 324,186.5 325,188.3 326,186.7 327,185.0 328,188.4 329,188.6 330,185.1 331,184.8 332,185.6 333,185.6 334,181.6 335,184.9 336,184.6 337,184.6 338,185.0 339,185.7 340,187.6 341,183.3 342,183.6 343,181.9 344,183.8 345,183.6 346,181.8 347,181.0 348,184.3 349,180.7 350,183.0 351,181.6 352,185.5 353,184.2 354,180.4 355,179.6 356,179.2 357,182.6 358,184.5 359,181.3 360,184.4 361,179.8 362,176.1 363,177.6 364,177.1 365,175.8 366,176.6 367,177.4 368,178.6 369,179.5 370,181.9 371,179.5 372,181.1 373,180.8 374,178.7 375,179.9 376,181.8 377,178.9 378,176.7 379,183.1 380,179.1 381,181.3 382,182.7 383,182.1 384,182.1 385,181.4 386,178.4 387,178.4 388,177.5 389,176.7 390,177.2 391,176.2 392,179.1 393,178.6 394,177.6 395,174.8 396,177.6 397,177.4 398,179.3 399,181.5 400,183.3 401,180.2 402,179.8 403,177.9 404,178.7 405,179.7 406,179.0 407,176.6 408,174.6 409,174.0 410,174.9 411,174.4 412,174.3 413,176.0 414,175.3 415,174.6 416,173.9 417,173.5 418,174.9 419,178.0 420,175.7 421,173.7 422,175.5 423,174.7 424,175.6 425,178.2 426,181.5 427,178.5 428,180.3 429,177.8 430,181.5 431,179.0 432,175.7 433,175.7 434,177.2 435,179.6 436,178.2 437,181.9 438,177.2 439,180.3 440,177.3 441,178.7M442,137.8 443,137.2 444,137.1 445,136.8 446,136.4 447,135.6 448,137.7 449,135.9 450,135.1 451,133.6 452,132.5 453,133.3 454,136.1 455,136.0 456,136.0 457,133.8 458,135.7 459,135.6 460,136.8 461,138.2 462,138.7 463,139.0 464,137.5 465,135.3 466,134.6 467,134.7 468,136.9 469,137.2 470,136.5 471,136.8 472,138.2 473,137.8 474,137.8 475,137.1 476,137.8 477,136.1 478,136.9 479,135.5 480,135.9 481,135.4 482,135.3 483,137.0 484,136.4 485,137.0 486,137.7 487,136.9 488,138.2 489,136.6 490,138.0 491,136.2"/>
<path class="tr" d="M127,137.5 128,138.4 129,139.6 130,139.9 131,138.7 132,137.5 133,139.2 134,137.5 135,137.7 136,137.6 137,138.1 138,137.8 139,138.0 140,137.4 141,137.6 142,137.6 143,137.3 144,136.4 145,136.6 146,136.7 147,137.7 148,138.3 149,138.0 150,137.4 151,138.4 152,138.4 153,137.8 154,137.3 155,135.9 156,136.7 157,136.9 158,138.4 159,136.3 160,136.7 161,138.0 162,137.2 163,137.0 164,137.9 165,136.0 166,137.6 167,136.6 168,137.7 169,137.2 170,136.4 171,136.6 172,135.8 173,136.5 174,136.7 175,136.4M176,292.0 177,283.7 178,277.6 179,273.2 180,265.1 181,263.2 182,261.2 183,258.2 184,256.4 185,256.2 186,254.3 187,251.8 188,254.7 189,250.5 190,249.6 191,248.7 192,247.5 193,246.6 194,249.7 195,247.6 196,244.8 197,246.3 198,244.2 199,242.5 200,241.3 201,239.5 202,238.5 203,236.5 204,236.1 205,234.2 206,233.0 207,233.3 208,235.3 209,232.0 210,231.5 211,228.1 212,228.8 213,229.2 214,229.1 215,228.9 216,225.2 217,228.1 218,225.2 219,226.1 220,222.8 221,221.8 222,222.1 223,217.3 224,217.2 225,219.3 226,218.1 227,216.5 228,215.4 229,218.0 230,220.0 231,215.9 232,215.6 233,219.0 234,218.1 235,215.8 236,216.4 237,216.5 238,215.3 239,213.5 240,214.2 241,214.5 242,212.9 243,211.2 244,212.6 245,211.7 246,208.8 247,210.8 248,208.2 249,208.5 250,204.2 251,205.8 252,206.0 253,209.9 254,206.8 255,204.1 256,208.3 257,205.4 258,206.4 259,201.9 260,204.3 261,204.2 262,203.5 263,204.3 264,201.4 265,204.0 266,199.6 267,193.6 268,199.6 269,200.9 270,200.8 271,198.1 272,198.5 273,199.6 274,197.6 275,196.3 276,196.4 277,198.0 278,194.4 279,196.6 280,197.3 281,195.4 282,196.2 283,194.9 284,195.6 285,196.8 286,198.5 287,200.0 288,194.8 289,196.4 290,194.2 291,193.7 292,193.2 293,195.4 294,195.6 295,196.4 296,192.3 297,196.1 298,198.4 299,197.8 300,194.9 301,197.4 302,197.4 303,196.5 304,195.0 305,191.2 306,193.6 307,195.1 308,193.3 309,196.3 310,194.8 311,193.0 312,193.6 313,190.7 314,192.6 315,191.0 316,190.0 317,188.0 318,188.7 319,190.6 320,189.4 321,191.7 322,193.4 323,192.4 324,190.4 325,191.7 326,193.4 327,191.8 328,191.8 329,188.5 330,191.0 331,190.2 332,191.7 333,193.3 334,194.2 335,194.3 336,193.9 337,195.5 338,196.3 339,197.0 340,195.9 341,194.4 342,193.8 343,193.8 344,193.0 345,190.4 346,190.9 347,191.6 348,190.9 349,190.7 350,187.2 351,188.4 352,189.3 353,185.3 354,183.9 355,188.0 356,186.8 357,184.1 358,186.2 359,187.2 360,189.4 361,182.3 362,183.9 363,186.6 364,185.7 365,186.0 366,184.0 367,184.5 368,181.6 369,186.4 370,183.8 371,182.4 372,181.3 373,182.5 374,181.0 375,178.5 376,183.9 377,186.5 378,184.4 379,183.2 380,181.7 381,180.4 382,178.2 383,180.6 384,180.1 385,178.9 386,181.6 387,180.3 388,179.7 389,181.3 390,183.0 391,180.8 392,182.4 393,182.3 394,181.8 395,181.3 396,182.7 397,179.5 398,186.6 399,182.7 400,182.4 401,184.5 402,184.5 403,183.0 404,181.7 405,180.5 406,181.7 407,179.7 408,178.3 409,183.0 410,182.3 411,180.2 412,182.7 413,183.4 414,180.0 415,177.7 416,179.8 417,181.6 418,179.9 419,178.7 420,178.2 421,180.8 422,182.0 423,181.4 424,179.5 425,182.5 426,182.4 427,180.4 428,181.0 429,179.3 430,176.9 431,179.4 432,177.6 433,178.8 434,180.3 435,182.4 436,180.8 437,180.5 438,181.2 439,183.9 440,180.1 441,179.9M442,136.8 443,136.0 444,135.9 445,135.3 446,136.2 447,137.5 448,139.0 449,138.5 450,137.2 451,138.1 452,138.7 453,137.1 454,137.3 455,137.6 456,138.7 457,137.7 458,136.6 459,137.1 460,138.7 461,138.1 462,138.2 463,137.9 464,136.8 465,137.0 466,136.1 467,138.7 468,138.5 469,138.5 470,138.6 471,139.0 472,138.7 473,138.2 474,136.7 475,136.7 476,136.5 477,135.5 478,135.5 479,136.7 480,136.4 481,137.1 482,136.6 483,136.8 484,137.0 485,135.4 486,135.5 487,135.9 488,136.2 489,135.8 490,136.3 491,137.4"/>
<path class="tr" d="M127,137.5 128,137.1 129,136.8 130,136.7 131,135.7 132,138.0 133,138.5 134,135.9 135,136.2 136,136.1 137,137.6 138,137.3 139,136.4 140,137.3 141,138.2 142,138.1 143,138.8 144,139.3 145,137.6 146,137.1 147,138.1 148,137.5 149,136.8 150,137.6 151,137.2 152,137.4 153,136.8 154,136.5 155,136.2 156,137.5 157,137.3 158,139.0 159,137.7 160,135.9 161,137.1 162,138.3 163,137.4 164,138.2 165,138.2 166,138.9 167,137.8 168,138.3 169,136.2 170,137.6 171,136.7 172,137.1 173,137.4 174,136.8 175,136.5M176,292.7 177,284.1 178,277.7 179,274.1 180,270.7 181,266.2 182,265.0 183,261.8 184,260.7 185,259.1 186,256.4 187,255.7 188,254.8 189,256.0 190,254.2 191,252.9 192,252.0 193,250.7 194,248.9 195,246.3 196,245.5 197,244.0 198,243.8 199,240.3 200,242.8 201,245.4 202,245.0 203,240.6 204,239.9 205,238.8 206,240.4 207,236.1 208,237.0 209,235.3 210,234.1 211,231.8 212,232.3 213,230.2 214,227.8 215,226.9 216,229.8 217,227.7 218,223.4 219,224.5 220,221.9 221,224.6 222,226.7 223,225.5 224,223.0 225,223.2 226,221.6 227,224.9 228,223.0 229,225.9 230,223.2 231,224.2 232,220.5 233,224.2 234,219.6 235,218.1 236,216.6 237,217.6 238,221.5 239,225.8 240,221.1 241,221.9 242,219.7 243,217.6 244,217.0 245,215.8 246,215.9 247,215.7 248,217.4 249,211.8 250,210.9 251,210.2 252,207.9 253,205.3 254,205.4 255,205.6 256,206.6 257,203.9 258,204.4 259,204.6 260,204.7 261,203.8 262,203.8 263,202.7 264,205.7 265,204.2 266,208.7 267,205.6 268,204.9 269,203.6 270,197.8 271,200.7 272,200.6 273,199.9 274,198.2 275,205.0 276,200.4 277,199.8 278,202.3 279,199.6 280,197.5 281,200.0 282,198.4 283,201.3 284,201.0 285,200.2 286,197.6 287,201.9 288,199.1 289,201.2 290,196.8 291,200.0 292,200.7 293,199.6 294,195.4 295,197.2 296,197.7 297,197.3 298,194.6 299,193.9 300,197.3 301,193.9 302,197.6 303,194.2 304,193.8 305,192.7 306,192.5 307,197.2 308,197.3 309,198.1 310,196.8 311,195.3 312,195.2 313,192.6 314,195.5 315,193.1 316,193.6 317,196.0 318,196.0 319,196.9 320,198.1 321,199.3 322,197.6 323,196.5 324,195.4 325,200.3 326,197.0 327,195.0 328,195.2 329,194.5 330,194.7 331,193.2 332,197.1 333,194.1 334,194.8 335,194.2 336,192.1 337,188.6 338,188.8 339,188.8 340,193.6 341,192.7 342,192.2 343,195.9 344,194.6 345,194.6 346,196.8 347,191.8 348,192.0 349,190.9 350,188.7 351,188.4 352,192.0 353,190.1 354,189.1 355,190.1 356,187.4 357,189.2 358,188.3 359,190.5 360,185.7 361,187.2 362,188.2 363,186.0 364,186.8 365,186.5 366,188.4 367,190.0 368,187.0 369,185.2 370,188.1 371,188.4 372,191.0 373,190.5 374,187.6 375,184.7 376,185.5 377,182.7 378,186.2 379,185.7 380,187.8 381,186.7 382,188.0 383,185.0 384,185.1 385,183.6 386,185.6 387,185.9 388,187.4 389,183.8 390,185.4 391,186.4 392,182.9 393,181.9 394,181.2 395,182.4 396,182.8 397,181.2 398,181.7 399,181.4 400,184.0 401,185.2 402,184.9 403,186.2 404,186.9 405,185.5 406,185.2 407,184.5 408,180.6 409,181.2 410,182.6 411,182.1 412,186.3 413,184.6 414,183.7 415,184.7 416,180.7 417,182.5 418,181.9 419,180.8 420,182.4 421,183.1 422,184.8 423,184.3 424,185.4 425,184.6 426,186.8 427,184.9 428,184.0 429,179.0 430,184.0 431,180.8 432,180.6 433,179.4 434,180.8 435,186.6 436,187.0 437,182.8 438,184.2 439,183.6 440,179.2 441,178.2M442,137.5 443,138.5 444,138.3 445,138.2 446,139.3 447,139.4 448,138.6 449,138.3 450,140.0 451,139.1 452,139.4 453,138.1 454,138.8 455,140.0 456,138.3 457,139.7 458,138.8 459,139.9 460,140.2 461,138.7 462,139.3 463,139.3 464,139.5 465,140.5 466,140.5 467,139.3 468,138.1 469,138.7 470,140.2 471,139.7 472,139.4 473,138.1 474,138.0 475,139.1 476,138.5 477,138.8 478,138.9 479,140.0 480,139.7 481,140.0 482,141.5 483,142.2 484,141.6 485,140.2 486,140.9 487,140.0 488,139.9 489,139.8 490,139.7 491,138.0"/>
<path class="tr" d="M127,137.5 128,136.8 129,136.0 130,137.3 131,137.4 132,136.7 133,137.1 134,137.6 135,138.2 136,137.1 137,137.4 138,137.3 139,137.7 140,137.4 141,137.7 142,138.0 143,137.4 144,137.9 145,138.3 146,138.0 147,138.2 148,136.6 149,136.1 150,137.1 151,137.2 152,137.3 153,137.0 154,137.9 155,137.9 156,137.5 157,138.3 158,137.6 159,137.3 160,138.2 161,138.2 162,137.0 163,137.8 164,137.3 165,137.0 166,137.7 167,138.4 168,139.1 169,138.5 170,137.9 171,138.7 172,138.8 173,139.3 174,137.1 175,137.7M176,293.6 177,285.8 178,279.4 179,274.4 180,270.3 181,266.4 182,263.1 183,262.3 184,260.0 185,256.3 186,255.7 187,254.1 188,253.6 189,253.4 190,253.4 191,253.3 192,252.0 193,251.6 194,252.6 195,251.0 196,249.3 197,246.1 198,244.5 199,241.0 200,241.3 201,240.3 202,242.5 203,237.4 204,238.6 205,235.0 206,234.9 207,233.0 208,235.0 209,233.8 210,234.0 211,232.3 212,232.3 213,235.0 214,235.0 215,230.2 216,231.9 217,231.4 218,231.4 219,229.4 220,228.2 221,220.3 222,226.7 223,221.7 224,225.0 225,228.7 226,226.1 227,227.4 228,226.5 229,227.8 230,223.8 231,224.8 232,225.9 233,224.7 234,225.5 235,224.8 236,225.8 237,228.1 238,223.9 239,223.1 240,222.6 241,223.1 242,219.2 243,218.4 244,218.4 245,220.8 246,221.2 247,219.5 248,218.9 249,213.7 250,221.3 251,217.4 252,216.2 253,212.9 254,212.5 255,214.6 256,214.2 257,211.0 258,208.6 259,210.0 260,208.3 261,208.4 262,205.5 263,207.2 264,209.2 265,207.7 266,208.4 267,204.9 268,206.2 269,207.0 270,205.7 271,204.0 272,202.5 273,203.7 274,201.1 275,201.0 276,200.2 277,199.6 278,203.7 279,204.3 280,201.1 281,200.0 282,199.2 283,198.3 284,198.0 285,197.7 286,197.8 287,200.6 288,201.7 289,200.0 290,204.5 291,203.2 292,202.9 293,204.0 294,203.7 295,202.4 296,202.6 297,201.2 298,198.9 299,201.5 300,202.4 301,199.8 302,200.8 303,199.2 304,195.9 305,199.4 306,200.1 307,201.9 308,200.5 309,200.2 310,200.1 311,199.6 312,201.0 313,198.3 314,199.1 315,200.5 316,199.2 317,198.4 318,199.0 319,199.1 320,201.0 321,198.2 322,196.9 323,197.2 324,196.7 325,197.5 326,198.4 327,197.3 328,195.1 329,196.1 330,198.1 331,195.8 332,194.9 333,195.5 334,199.4 335,197.4 336,198.4 337,198.5 338,199.6 339,199.9 340,196.8 341,199.3 342,196.6 343,194.5 344,192.9 345,195.1 346,190.9 347,192.0 348,193.0 349,194.1 350,193.1 351,195.7 352,191.7 353,192.2 354,193.0 355,194.9 356,193.2 357,192.5 358,191.3 359,192.1 360,190.1 361,193.4 362,191.0 363,193.6 364,196.3 365,190.3 366,190.7 367,194.3 368,191.8 369,189.0 370,190.5 371,186.8 372,186.9 373,188.3 374,186.6 375,189.1 376,191.6 377,189.6 378,187.5 379,186.7 380,186.0 381,188.5 382,189.0 383,185.1 384,186.4 385,187.7 386,185.0 387,183.9 388,184.7 389,186.3 390,188.5 391,185.8 392,186.0 393,186.7 394,186.1 395,184.1 396,184.3 397,182.2 398,184.4 399,180.3 400,184.7 401,183.8 402,185.1 403,186.3 404,186.8 405,186.9 406,184.0 407,183.0 408,185.8 409,181.7 410,185.4 411,185.2 412,186.0 413,184.3 414,184.0 415,184.0 416,183.3 417,185.2 418,186.5 419,184.9 420,187.3 421,185.7 422,185.7 423,182.4 424,183.9 425,186.5 426,184.7 427,185.8 428,185.2 429,185.2 430,186.7 431,188.2 432,186.9 433,187.9 434,186.5 435,180.2 436,184.8 437,184.3 438,186.1 439,183.9 440,182.0 441,183.4M442,138.5 443,139.1 444,139.0 445,139.7 446,137.8 447,138.1 448,138.5 449,138.7 450,139.7 451,140.9 452,140.3 453,138.9 454,139.0 455,138.4 456,138.8 457,138.9 458,136.5 459,138.2 460,138.6 461,138.1 462,139.5 463,139.1 464,137.8 465,139.2 466,138.5 467,137.7 468,138.3 469,138.7 470,139.2 471,139.6 472,140.9 473,139.3 474,138.6 475,140.9 476,141.1 477,139.3 478,138.7 479,140.1 480,138.3 481,139.0 482,138.7 483,139.2 484,139.6 485,139.7 486,140.0 487,139.8 488,138.8 489,140.5 490,140.0 491,141.2"/>
<path class="tv" d="M175.6 136.4V293.6"/>
<path class="tv" style="stroke-width:2.4" d="M441.6 136.4V183.4"/>
<path class="tv" d="M175.5 130V138"/>
<path class="tv" d="M441 130V138"/>
<path class="tr" d="M530,136.3 531,135.9 532,136.3 533,135.6 534,134.7 535,136.0 536,135.6 537,136.0 538,135.7 539,135.9 540,137.1 541,137.4 542,136.9 543,136.4 544,136.8 545,137.4 546,136.4 547,135.6 548,136.7 549,136.0 550,135.1 551,136.9 552,136.7 553,136.8 554,136.2 555,136.7 556,136.3 557,136.0 558,136.8 559,136.0 560,136.3 561,137.3 562,136.8 563,137.5 564,136.0 565,138.8 566,136.6 567,136.9 568,136.7 569,136.6 570,134.9 571,135.8 572,136.6 573,136.3M574,130.2 575,129.9 576,130.2 577,127.7 578,128.9 579,127.3 580,128.3 581,128.9 582,129.9 583,129.5 584,128.6 585,130.0 586,127.6 587,127.7 588,129.1 589,130.3 590,131.6 591,130.5 592,130.6 593,129.5 594,130.9 595,128.9 596,127.0 597,128.6 598,130.0 599,130.6 600,128.9 601,128.7 602,128.7 603,128.0 604,127.6 605,129.1 606,130.0 607,131.4 608,131.2 609,129.1 610,130.1 611,130.8 612,131.1 613,131.8 614,130.6 615,130.8 616,130.9 617,130.8 618,131.5 619,132.0 620,132.0 621,133.1 622,130.6 623,131.1 624,129.1 625,131.4 626,132.2 627,133.0 628,130.3 629,132.1 630,131.4 631,131.8 632,129.4 633,130.4 634,130.3 635,131.6 636,130.9 637,131.3 638,131.5 639,131.4 640,131.5 641,132.6 642,131.5 643,133.4 644,129.6 645,130.8 646,129.9 647,131.7 648,130.1 649,130.1 650,130.5 651,129.7 652,129.8 653,132.4 654,129.8 655,133.2 656,132.0 657,133.0 658,132.0 659,130.9 660,130.6 661,129.0 662,129.6 663,128.7 664,130.5 665,130.1 666,129.1 667,130.0 668,130.4 669,131.0 670,130.5 671,131.6 672,131.7 673,132.0 674,131.3 675,133.2 676,132.0 677,131.9 678,132.2 679,132.0 680,130.1 681,130.3 682,128.9 683,129.6 684,130.2 685,129.7 686,130.8 687,132.5 688,134.0 689,132.4 690,132.3 691,131.8 692,130.5 693,131.5 694,130.7 695,130.2 696,130.8 697,130.7 698,130.2 699,129.4 700,130.1 701,130.6 702,130.8 703,130.2 704,129.0 705,129.7 706,130.0 707,129.8 708,131.2 709,132.4 710,132.6 711,132.6 712,131.8 713,130.6 714,131.4 715,132.2 716,131.2 717,130.5 718,133.1 719,130.9 720,130.3 721,129.5 722,128.5 723,131.3 724,130.6 725,132.0 726,131.8 727,130.9 728,131.9 729,129.5 730,129.8 731,132.4 732,131.3 733,131.6 734,131.3 735,132.5 736,132.9 737,133.2 738,135.0 739,133.4 740,131.5 741,130.4 742,130.4 743,130.7 744,128.6 745,129.6 746,133.1 747,129.6 748,129.0 749,128.8 750,129.8 751,131.0 752,131.5 753,131.0 754,132.2 755,133.9 756,131.8 757,130.9 758,131.7 759,130.4 760,130.1 761,129.8 762,129.0 763,127.9 764,129.1 765,130.5 766,129.2 767,131.8 768,129.8 769,132.9 770,133.1 771,133.2 772,131.4 773,131.0 774,131.5 775,130.4 776,129.2 777,128.7 778,130.8 779,129.4 780,130.8 781,131.0 782,131.6 783,131.7 784,131.2 785,133.4 786,133.8 787,133.1 788,132.5 789,131.4 790,132.6 791,132.2 792,130.7 793,132.9 794,131.1 795,132.8 796,131.8 797,130.7 798,132.2 799,133.5 800,133.1 801,132.3 802,131.2 803,132.9 804,132.6 805,131.4 806,131.8 807,129.6 808,131.1 809,130.6 810,132.3 811,132.7 812,132.2 813,133.1 814,133.3 815,131.1 816,130.6 817,130.6 818,131.9 819,131.9 820,133.0 821,129.7 822,131.7 823,132.0 824,133.0 825,133.4 826,131.0 827,129.4 828,129.5 829,131.8 830,129.6 831,131.0 832,130.3 833,130.2 834,130.4 835,131.3 836,130.5 837,129.6 838,130.7M839,131.0 840,130.6 841,132.5 842,130.1 843,131.6 844,132.2 845,131.7 846,132.3 847,129.8 848,129.2 849,131.8 850,130.9 851,132.1 852,131.2 853,132.9 854,132.8 855,131.7 856,134.6 857,133.6 858,134.7 859,133.3 860,133.0 861,132.6 862,132.5 863,133.3 864,135.1 865,132.9 866,133.7 867,134.7 868,133.6 869,134.9 870,134.7 871,132.4 872,130.9 873,132.5 874,131.4 875,130.8 876,130.1 877,131.3 878,132.0 879,129.6 880,130.3 881,133.8 882,134.0 883,135.0 884,134.0 885,135.0 886,131.8 887,131.6 888,131.5 889,132.8 890,132.0 891,132.1 892,133.2 893,131.9 894,130.9"/>
<path class="tr" d="M530,136.3 531,135.9 532,136.2 533,137.2 534,136.4 535,137.6 536,136.8 537,136.6 538,137.8 539,136.9 540,137.2 541,135.3 542,136.1 543,136.0 544,135.8 545,137.9 546,136.8 547,135.1 548,136.3 549,136.1 550,136.2 551,136.2 552,136.9 553,136.5 554,136.8 555,136.7 556,136.1 557,138.0 558,137.0 559,136.6 560,137.0 561,136.7 562,137.5 563,136.8 564,135.4 565,136.0 566,135.6 567,136.0 568,135.3 569,137.0 570,136.6 571,136.0 572,136.5 573,136.6M574,131.0 575,131.7 576,131.2 577,131.4 578,131.1 579,131.8 580,131.3 581,134.0 582,131.9 583,131.9 584,134.5 585,132.7 586,133.5 587,133.6 588,131.6 589,133.0 590,131.1 591,131.2 592,131.9 593,132.8 594,129.9 595,130.9 596,132.3 597,132.2 598,132.5 599,132.2 600,132.5 601,133.0 602,133.9 603,133.3 604,131.9 605,131.6 606,132.3 607,131.2 608,131.0 609,131.7 610,130.4 611,131.5 612,130.0 613,131.2 614,131.5 615,132.6 616,132.6 617,131.6 618,132.9 619,132.0 620,131.7 621,131.6 622,132.9 623,134.2 624,133.9 625,133.6 626,131.7 627,131.3 628,133.4 629,132.2 630,131.4 631,132.5 632,132.4 633,132.1 634,132.3 635,131.8 636,130.4 637,132.2 638,131.7 639,132.7 640,132.9 641,132.4 642,132.8 643,130.9 644,131.4 645,133.1 646,132.9 647,133.7 648,135.2 649,134.8 650,133.8 651,132.9 652,132.5 653,135.1 654,133.3 655,134.1 656,132.7 657,131.8 658,134.8 659,131.8 660,131.6 661,132.5 662,130.1 663,132.8 664,134.1 665,132.9 666,133.0 667,133.8 668,133.3 669,131.5 670,131.6 671,132.6 672,131.7 673,132.9 674,133.0 675,133.7 676,133.5 677,132.1 678,132.0 679,132.3 680,133.0 681,133.7 682,130.9 683,136.4 684,132.8 685,131.6 686,131.6 687,132.2 688,132.3 689,131.5 690,130.5 691,131.5 692,130.5 693,131.3 694,132.5 695,131.1 696,130.9 697,133.8 698,133.4 699,132.9 700,133.7 701,132.0 702,130.7 703,131.1 704,131.5 705,130.3 706,132.0 707,133.0 708,134.0 709,131.8 710,130.9 711,132.9 712,132.7 713,132.1 714,132.2 715,131.6 716,132.3 717,132.0 718,132.6 719,132.2 720,132.2 721,130.7 722,129.5 723,129.9 724,131.5 725,130.4 726,130.9 727,130.1 728,128.9 729,129.4 730,130.0 731,130.6 732,131.3 733,128.7 734,129.3 735,131.4 736,131.6 737,131.4 738,130.4 739,129.8 740,131.8 741,131.0 742,130.4 743,130.7 744,130.8 745,130.1 746,131.9 747,132.0 748,130.3 749,130.6 750,131.6 751,132.9 752,132.6 753,132.3 754,131.8 755,133.6 756,130.5 757,132.2 758,132.5 759,131.7 760,132.8 761,133.0 762,134.1 763,135.0 764,133.2 765,132.6 766,132.0 767,131.4 768,131.2 769,131.9 770,134.2 771,133.9 772,132.2 773,132.7 774,132.5 775,132.3 776,132.0 777,132.7 778,132.2 779,132.0 780,133.1 781,134.1 782,134.3 783,130.3 784,130.9 785,132.9 786,131.9 787,132.5 788,132.8 789,132.1 790,132.7 791,132.4 792,133.1 793,131.4 794,132.4 795,132.9 796,131.6 797,132.7 798,133.2 799,131.4 800,132.8 801,132.8 802,133.3 803,132.0 804,132.5 805,132.0 806,132.9 807,133.1 808,133.0 809,134.1 810,132.5 811,133.6 812,133.3 813,132.4 814,132.3 815,132.3 816,132.8 817,132.6 818,132.2 819,133.3 820,132.7 821,131.8 822,131.2 823,131.2 824,131.5 825,132.1 826,133.5 827,134.6 828,134.4 829,134.3 830,133.3 831,133.6 832,134.6 833,133.6 834,133.7 835,133.4 836,132.0 837,131.7 838,133.8M839,131.0 840,131.2 841,132.3 842,132.1 843,131.3 844,133.8 845,132.7 846,131.3 847,133.4 848,131.8 849,133.0 850,134.7 851,132.7 852,132.2 853,132.5 854,132.6 855,130.6 856,131.7 857,132.0 858,132.1 859,132.9 860,132.9 861,132.8 862,131.8 863,133.8 864,134.3 865,132.7 866,131.8 867,129.1 868,131.6 869,132.8 870,129.9 871,131.5 872,130.3 873,135.3 874,133.1 875,130.5 876,132.1 877,132.0 878,130.5 879,131.3 880,131.9 881,132.3 882,131.3 883,132.5 884,131.7 885,130.5 886,132.1 887,131.5 888,133.6 889,134.9 890,133.9 891,133.8 892,133.9 893,132.5 894,133.6"/>
<path class="tr" d="M530,136.3 531,136.2 532,136.2 533,135.3 534,136.5 535,137.1 536,137.6 537,135.9 538,135.9 539,135.3 540,136.5 541,135.6 542,137.0 543,135.3 544,136.2 545,135.8 546,136.4 547,136.3 548,135.9 549,137.3 550,137.0 551,136.2 552,136.2 553,135.9 554,136.2 555,136.0 556,135.9 557,136.3 558,137.5 559,136.4 560,137.4 561,135.9 562,136.4 563,135.9 564,136.0 565,135.5 566,136.6 567,136.9 568,136.0 569,135.6 570,136.0 571,136.0 572,136.5 573,136.0M574,133.2 575,133.4 576,133.3 577,135.5 578,135.1 579,134.5 580,133.6 581,133.0 582,133.1 583,132.3 584,133.3 585,133.1 586,135.7 587,133.1 588,134.5 589,134.3 590,134.2 591,133.7 592,133.9 593,133.3 594,133.6 595,132.4 596,131.8 597,131.4 598,134.3 599,134.1 600,133.2 601,133.9 602,134.3 603,135.5 604,134.7 605,133.3 606,133.2 607,134.5 608,133.6 609,133.8 610,134.2 611,135.0 612,135.1 613,136.0 614,135.1 615,137.2 616,134.4 617,135.9 618,135.4 619,133.8 620,133.6 621,133.3 622,134.6 623,133.2 624,132.0 625,131.3 626,132.6 627,131.6 628,132.6 629,132.1 630,132.7 631,134.9 632,134.0 633,134.6 634,135.4 635,135.2 636,134.6 637,135.2 638,133.8 639,135.5 640,133.4 641,133.3 642,132.4 643,133.2 644,132.5 645,132.8 646,133.4 647,134.0 648,133.8 649,134.3 650,133.2 651,133.9 652,134.4 653,133.9 654,134.8 655,135.3 656,135.4 657,132.9 658,134.6 659,134.8 660,133.3 661,135.2 662,136.5 663,133.8 664,134.4 665,133.6 666,133.2 667,132.7 668,133.9 669,133.8 670,134.2 671,132.4 672,133.2 673,134.0 674,134.2 675,135.7 676,135.6 677,135.8 678,137.1 679,133.3 680,134.7 681,133.2 682,134.5 683,134.3 684,134.2 685,133.0 686,133.4 687,133.7 688,134.4 689,134.4 690,135.3 691,134.2 692,135.4 693,135.8 694,134.7 695,135.5 696,133.7 697,134.1 698,133.9 699,135.8 700,135.5 701,135.9 702,136.6 703,135.4 704,133.7 705,135.1 706,134.6 707,133.4 708,133.5 709,133.6 710,132.8 711,132.6 712,134.8 713,135.2 714,135.5 715,134.2 716,135.3 717,135.1 718,133.6 719,135.3 720,134.1 721,133.0 722,132.7 723,135.3 724,133.8 725,133.2 726,133.5 727,134.5 728,134.9 729,135.0 730,134.9 731,135.5 732,136.5 733,136.2 734,135.0 735,132.0 736,132.7 737,132.9 738,132.5 739,132.0 740,133.3 741,132.8 742,132.7 743,133.3 744,134.4 745,135.7 746,136.2 747,136.1 748,135.8 749,135.0 750,133.6 751,133.8 752,134.2 753,135.0 754,136.0 755,137.0 756,135.7 757,136.8 758,136.1 759,134.9 760,134.4 761,134.5 762,135.0 763,134.6 764,134.3 765,132.9 766,130.9 767,131.8 768,132.1 769,131.6 770,133.7 771,135.6 772,133.5 773,133.7 774,135.0 775,135.2 776,134.6 777,134.8 778,133.1 779,134.7 780,135.2 781,134.9 782,135.1 783,134.9 784,135.1 785,134.7 786,134.6 787,134.6 788,134.0 789,134.6 790,135.3 791,136.1 792,135.1 793,133.2 794,133.5 795,132.7 796,132.0 797,132.3 798,132.8 799,132.9 800,133.1 801,133.9 802,133.3 803,133.1 804,132.5 805,133.4 806,133.7 807,132.6 808,131.8 809,133.0 810,132.1 811,131.3 812,133.6 813,132.5 814,134.7 815,132.5 816,133.1 817,133.7 818,134.9 819,133.4 820,134.2 821,132.9 822,133.7 823,132.7 824,133.8 825,135.1 826,133.8 827,134.5 828,134.5 829,135.4 830,135.3 831,135.6 832,134.2 833,134.7 834,133.0 835,133.3 836,134.0 837,135.9 838,134.5M839,134.6 840,135.0 841,133.9 842,132.4 843,135.6 844,135.0 845,135.0 846,134.2 847,134.5 848,136.1 849,136.7 850,134.1 851,134.0 852,132.8 853,135.3 854,134.8 855,135.3 856,135.5 857,132.7 858,133.7 859,134.8 860,134.7 861,134.2 862,134.3 863,133.1 864,135.1 865,133.9 866,133.7 867,134.5 868,135.0 869,134.0 870,135.0 871,133.6 872,134.8 873,135.4 874,134.7 875,134.7 876,136.3 877,135.6 878,134.0 879,132.1 880,133.2 881,134.7 882,133.9 883,134.1 884,135.4 885,135.4 886,136.4 887,135.4 888,135.5 889,134.9 890,134.6 891,136.2 892,136.3 893,138.8 894,136.6"/>
<path class="tr" d="M530,136.3 531,136.7 532,136.5 533,135.3 534,135.8 535,136.7 536,137.4 537,137.8 538,136.4 539,137.0 540,135.6 541,136.3 542,136.7 543,136.5 544,135.8 545,137.3 546,137.0 547,136.4 548,135.3 549,136.3 550,137.6 551,137.7 552,136.9 553,136.6 554,137.1 555,137.6 556,137.6 557,136.2 558,137.4 559,137.3 560,136.9 561,137.0 562,136.1 563,136.6 564,136.4 565,136.3 566,137.2 567,137.8 568,137.7 569,136.8 570,135.8 571,136.4 572,135.9 573,137.2M574,135.0 575,134.7 576,134.9 577,133.6 578,133.1 579,132.6 580,134.6 581,134.5 582,135.3 583,135.7 584,136.0 585,135.7 586,135.9 587,135.5 588,134.0 589,134.8 590,134.8 591,132.8 592,135.5 593,135.4 594,135.9 595,133.9 596,134.8 597,134.5 598,133.5 599,132.4 600,134.4 601,135.4 602,136.3 603,136.9 604,135.7 605,136.2 606,136.5 607,136.9 608,138.1 609,135.1 610,135.7 611,134.8 612,134.1 613,134.5 614,134.5 615,134.5 616,134.3 617,135.8 618,136.8 619,135.5 620,134.2 621,136.5 622,135.3 623,133.9 624,134.0 625,134.9 626,135.9 627,135.0 628,135.3 629,136.0 630,134.8 631,134.1 632,135.9 633,134.8 634,134.6 635,132.6 636,134.0 637,133.9 638,132.7 639,132.7 640,132.6 641,135.2 642,134.4 643,135.5 644,134.7 645,134.2 646,136.0 647,134.0 648,136.0 649,135.9 650,136.2 651,136.7 652,135.4 653,136.3 654,137.0 655,136.6 656,134.9 657,134.9 658,134.6 659,133.9 660,135.3 661,135.0 662,135.6 663,136.2 664,135.1 665,135.9 666,134.6 667,135.6 668,135.4 669,135.1 670,136.0 671,136.3 672,137.7 673,137.2 674,137.1 675,136.0 676,136.3 677,135.1 678,136.2 679,137.2 680,137.0 681,134.7 682,136.1 683,136.1 684,135.2 685,135.8 686,135.4 687,135.1 688,136.3 689,135.5 690,135.5 691,136.8 692,138.4 693,136.7 694,136.0 695,135.1 696,134.3 697,133.7 698,134.0 699,134.2 700,135.7 701,135.7 702,134.0 703,136.2 704,134.8 705,134.2 706,135.0 707,135.7 708,135.4 709,135.8 710,136.7 711,136.2 712,135.3 713,133.7 714,133.3 715,133.6 716,133.4 717,136.0 718,136.9 719,137.4 720,135.8 721,136.9 722,137.5 723,136.8 724,134.1 725,135.7 726,136.1 727,134.1 728,135.5 729,135.0 730,135.4 731,136.1 732,134.6 733,135.0 734,135.7 735,135.0 736,135.2 737,136.3 738,137.3 739,135.9 740,134.1 741,133.8 742,134.3 743,134.0 744,134.6 745,135.5 746,136.3 747,135.1 748,135.0 749,134.9 750,135.4 751,134.9 752,132.8 753,136.1 754,135.7 755,134.9 756,135.2 757,135.5 758,136.0 759,135.9 760,137.2 761,136.3 762,136.0 763,135.8 764,133.6 765,134.5 766,133.8 767,135.6 768,134.3 769,134.5 770,133.4 771,133.9 772,134.2 773,134.5 774,133.7 775,134.8 776,136.4 777,135.7 778,134.8 779,135.4 780,135.9 781,134.8 782,134.4 783,134.7 784,133.3 785,134.7 786,133.4 787,133.4 788,134.6 789,135.1 790,135.3 791,134.8 792,135.2 793,134.3 794,135.7 795,134.8 796,134.6 797,134.9 798,135.4 799,135.0 800,133.8 801,134.3 802,136.4 803,135.5 804,136.2 805,136.4 806,135.8 807,135.6 808,134.8 809,133.6 810,134.8 811,135.2 812,133.2 813,135.3 814,134.4 815,133.5 816,134.9 817,135.8 818,136.8 819,136.9 820,135.5 821,136.2 822,137.2 823,135.1 824,134.7 825,135.1 826,134.0 827,135.1 828,132.6 829,135.1 830,133.0 831,136.0 832,136.3 833,136.6 834,134.8 835,136.8 836,135.4 837,134.8 838,135.8M839,133.2 840,133.0 841,131.8 842,132.2 843,130.4 844,133.1 845,134.5 846,135.5 847,135.2 848,133.0 849,134.7 850,135.0 851,134.9 852,135.2 853,137.5 854,134.3 855,133.9 856,137.1 857,135.1 858,137.0 859,133.0 860,134.7 861,134.9 862,132.8 863,132.7 864,134.7 865,135.3 866,136.1 867,135.3 868,136.4 869,135.0 870,134.4 871,136.0 872,134.5 873,136.7 874,134.6 875,136.0 876,137.5 877,135.5 878,135.0 879,136.0 880,134.7 881,135.6 882,137.1 883,135.7 884,135.2 885,138.7 886,137.0 887,137.5 888,137.6 889,137.6 890,136.3 891,136.3 892,135.8 893,134.8 894,133.5"/>
<path class="tr" d="M530,136.3 531,136.1 532,135.9 533,136.3 534,136.1 535,136.4 536,135.8 537,134.5 538,135.2 539,135.9 540,135.2 541,135.9 542,135.9 543,133.9 544,133.4 545,134.0 546,135.0 547,135.8 548,134.9 549,133.9 550,136.4 551,135.1 552,134.9 553,136.2 554,135.9 555,136.1 556,136.4 557,136.6 558,135.7 559,135.8 560,135.5 561,134.8 562,136.5 563,136.1 564,136.0 565,135.5 566,136.7 567,135.8 568,134.4 569,135.4 570,135.9 571,134.7 572,134.8 573,135.1M574,137.4 575,137.7 576,137.4 577,137.0 578,137.8 579,136.4 580,136.4 581,137.4 582,137.6 583,138.2 584,137.9 585,139.0 586,139.7 587,138.4 588,138.3 589,140.1 590,138.2 591,136.3 592,137.0 593,137.0 594,137.5 595,138.3 596,137.0 597,138.8 598,138.6 599,138.8 600,138.3 601,138.7 602,137.8 603,136.4 604,136.4 605,138.0 606,138.7 607,138.8 608,138.3 609,138.1 610,138.2 611,138.0 612,138.4 613,137.4 614,137.0 615,138.5 616,139.3 617,140.2 618,138.1 619,140.1 620,139.1 621,137.0 622,135.9 623,137.7 624,138.1 625,137.6 626,136.5 627,136.5 628,136.3 629,136.2 630,136.8 631,136.6 632,135.5 633,137.3 634,137.2 635,136.0 636,136.2 637,137.1 638,134.6 639,136.4 640,137.5 641,137.0 642,137.3 643,136.8 644,137.2 645,137.6 646,135.9 647,136.0 648,137.6 649,137.2 650,136.5 651,138.3 652,137.4 653,137.2 654,136.5 655,135.9 656,136.1 657,134.5 658,136.1 659,136.4 660,135.4 661,136.9 662,136.8 663,138.1 664,136.9 665,136.8 666,138.4 667,138.6 668,137.8 669,138.5 670,138.2 671,139.0 672,138.1 673,138.3 674,138.6 675,138.8 676,138.2 677,137.4 678,139.0 679,137.5 680,138.9 681,137.5 682,137.3 683,136.8 684,136.7 685,135.3 686,135.9 687,135.8 688,138.8 689,136.9 690,136.2 691,135.6 692,137.9 693,137.4 694,137.4 695,136.4 696,137.3 697,135.7 698,136.9 699,137.0 700,137.8 701,137.1 702,138.4 703,139.8 704,139.2 705,138.5 706,137.6 707,137.2 708,138.7 709,139.3 710,138.8 711,139.9 712,141.1 713,139.9 714,138.3 715,139.3 716,138.5 717,136.6 718,137.2 719,137.6 720,137.0 721,137.1 722,136.5 723,135.8 724,135.3 725,138.2 726,138.9 727,138.4 728,135.4 729,138.0 730,137.2 731,135.4 732,136.2 733,137.7 734,137.8 735,139.5 736,137.6 737,138.6 738,137.8 739,136.8 740,136.7 741,136.1 742,135.3 743,135.4 744,136.0 745,136.5 746,135.7 747,137.1 748,136.6 749,137.6 750,137.9 751,138.7 752,136.9 753,135.9 754,134.9 755,137.6 756,137.2 757,135.4 758,137.3 759,136.2 760,136.3 761,136.5 762,136.7 763,135.7 764,136.8 765,135.9 766,135.5 767,136.7 768,135.2 769,136.6 770,137.1 771,136.0 772,136.9 773,136.9 774,136.8 775,137.3 776,136.6 777,136.6 778,137.2 779,137.2 780,138.9 781,138.1 782,138.4 783,138.5 784,139.1 785,137.5 786,135.8 787,136.6 788,138.1 789,136.6 790,136.5 791,136.0 792,136.4 793,137.6 794,138.2 795,136.3 796,137.3 797,137.6 798,137.3 799,138.0 800,137.8 801,138.3 802,139.2 803,138.1 804,136.5 805,137.1 806,139.1 807,139.1 808,138.6 809,139.0 810,138.8 811,136.5 812,136.2 813,138.1 814,137.3 815,135.7 816,137.3 817,137.8 818,137.5 819,137.1 820,136.0 821,136.2 822,136.0 823,135.4 824,136.5 825,137.2 826,137.0 827,137.2 828,136.9 829,137.2 830,138.5 831,138.0 832,137.6 833,136.7 834,135.7 835,136.0 836,136.0 837,137.6 838,137.5M839,138.5 840,141.6 841,136.8 842,135.3 843,136.7 844,135.9 845,135.1 846,136.7 847,137.9 848,138.2 849,138.6 850,137.0 851,138.9 852,137.9 853,135.2 854,135.9 855,135.8 856,136.6 857,134.9 858,135.9 859,134.8 860,134.4 861,134.9 862,135.7 863,136.1 864,138.0 865,138.2 866,135.8 867,137.7 868,137.3 869,136.2 870,135.2 871,136.1 872,137.0 873,136.8 874,138.3 875,138.0 876,138.5 877,139.4 878,137.2 879,137.7 880,136.4 881,136.5 882,136.4 883,133.7 884,136.0 885,134.8 886,133.5 887,135.0 888,134.8 889,135.4 890,139.0 891,138.7 892,137.6 893,136.3 894,138.6"/>
<path class="tr" d="M530,136.3 531,137.9 532,136.2 533,136.7 534,137.9 535,137.2 536,136.5 537,136.8 538,135.6 539,136.0 540,137.3 541,136.3 542,135.2 543,136.2 544,135.6 545,135.1 546,134.6 547,135.3 548,135.6 549,136.6 550,136.3 551,136.2 552,135.4 553,135.2 554,136.4 555,136.1 556,136.0 557,136.7 558,136.2 559,134.6 560,135.6 561,135.6 562,135.6 563,136.2 564,135.7 565,136.0 566,135.9 567,137.1 568,136.7 569,137.6 570,136.0 571,136.4 572,137.6 573,135.6M574,185.8 575,188.8 576,190.2 577,191.6 578,192.3 579,190.4 580,188.8 581,186.9 582,187.0 583,185.9 584,183.3 585,180.9 586,179.7 587,179.1 588,176.4 589,176.6 590,175.1 591,175.3 592,172.6 593,170.5 594,169.6 595,167.4 596,168.1 597,168.5 598,167.7 599,166.4 600,166.8 601,163.6 602,162.3 603,160.5 604,160.6 605,161.4 606,159.2 607,157.4 608,157.5 609,159.1 610,158.8 611,155.5 612,156.6 613,153.9 614,153.8 615,152.2 616,150.6 617,150.9 618,151.8 619,151.6 620,151.8 621,150.7 622,151.0 623,152.1 624,150.4 625,148.9 626,149.0 627,150.3 628,149.6 629,149.0 630,147.8 631,146.8 632,148.3 633,147.6 634,145.3 635,143.3 636,142.4 637,143.1 638,143.2 639,143.2 640,143.9 641,145.8 642,143.3 643,144.7 644,143.8 645,143.1 646,144.2 647,144.5 648,143.5 649,142.6 650,143.3 651,143.6 652,141.6 653,142.3 654,143.8 655,145.7 656,145.9 657,144.8 658,143.8 659,142.4 660,140.0 661,139.1 662,140.9 663,142.1 664,143.0 665,142.2 666,142.4 667,141.5 668,144.3 669,141.8 670,141.6 671,142.9 672,142.1 673,139.4 674,140.7 675,141.8 676,141.7 677,140.4 678,141.5 679,144.5 680,145.2 681,143.5 682,142.5 683,142.4 684,144.7 685,142.4 686,142.7 687,141.3 688,140.1 689,141.2 690,139.3 691,141.2 692,143.1 693,143.1 694,142.9 695,144.9 696,143.0 697,144.3 698,144.7 699,143.1 700,144.5 701,145.8 702,144.3 703,143.7 704,145.6 705,143.8 706,142.3 707,142.6 708,141.5 709,142.7 710,143.6 711,142.4 712,142.5 713,144.3 714,142.4 715,140.8 716,141.9 717,142.4 718,141.5 719,143.2 720,143.5 721,140.9 722,140.1 723,140.8 724,142.6 725,143.5 726,143.6 727,141.4 728,142.5 729,145.2 730,143.4 731,142.7 732,143.9 733,144.2 734,144.7 735,143.8 736,144.3 737,144.1 738,144.0 739,142.9 740,142.9 741,141.9 742,143.3 743,143.2 744,142.2 745,140.7 746,141.6 747,142.5 748,142.5 749,140.8 750,143.0 751,143.5 752,143.5 753,143.3 754,143.6 755,142.3 756,144.1 757,142.0 758,140.9 759,142.3 760,143.4 761,143.6 762,142.8 763,142.1 764,142.6 765,141.6 766,142.6 767,143.8 768,144.7 769,141.8 770,142.0 771,142.2 772,143.0 773,141.9 774,140.2 775,142.0 776,142.6 777,141.9 778,142.5 779,141.6 780,142.3 781,142.6 782,143.7 783,145.9 784,143.9 785,142.6 786,142.0 787,141.2 788,142.7 789,142.9 790,143.8 791,143.3 792,144.3 793,143.5 794,142.4 795,143.0 796,142.6 797,142.3 798,141.2 799,141.5 800,141.9 801,142.7 802,141.5 803,142.7 804,142.5 805,143.5 806,142.2 807,141.0 808,140.1 809,143.1 810,141.5 811,142.6 812,141.5 813,142.9 814,142.7 815,142.5 816,144.3 817,143.5 818,142.9 819,143.4 820,144.0 821,145.1 822,145.9 823,143.7 824,144.3 825,142.7 826,144.4 827,145.2 828,142.7 829,144.5 830,141.6 831,143.7 832,143.3 833,145.1 834,143.7 835,144.7 836,144.2 837,145.0 838,143.7M839,137.0 840,134.9 841,133.8 842,134.0 843,133.6 844,133.2 845,135.1 846,133.5 847,134.2 848,135.6 849,134.5 850,132.1 851,133.8 852,132.2 853,133.4 854,134.3 855,136.8 856,134.8 857,135.9 858,136.6 859,138.0 860,138.2 861,136.7 862,138.4 863,134.0 864,134.9 865,136.1 866,136.9 867,135.8 868,135.0 869,134.0 870,133.1 871,133.5 872,133.7 873,134.9 874,136.1 875,135.5 876,135.1 877,137.3 878,138.4 879,135.3 880,136.8 881,138.4 882,138.5 883,137.4 884,134.4 885,135.3 886,132.5 887,133.2 888,133.5 889,136.8 890,135.0 891,136.5 892,136.0 893,135.1 894,136.7"/>
<path class="tr" d="M530,136.3 531,137.6 532,136.7 533,137.3 534,137.7 535,135.5 536,135.7 537,136.3 538,136.1 539,135.8 540,137.8 541,136.6 542,135.7 543,137.9 544,138.1 545,137.3 546,137.2 547,137.3 548,137.3 549,136.1 550,137.3 551,136.3 552,135.8 553,135.6 554,136.3 555,136.4 556,137.3 557,136.5 558,138.1 559,136.6 560,136.9 561,137.4 562,137.5 563,137.3 564,135.5 565,137.0 566,137.1 567,136.8 568,135.9 569,136.6 570,137.5 571,137.7 572,137.4 573,135.7M574,224.8 575,222.9 576,221.0 577,219.2 578,217.3 579,215.8 580,213.9 581,212.8 582,212.7 583,211.1 584,210.4 585,208.4 586,206.8 587,203.2 588,204.3 589,205.1 590,203.8 591,202.1 592,201.3 593,200.3 594,198.9 595,198.0 596,199.0 597,197.3 598,193.1 599,191.9 600,191.7 601,188.6 602,190.8 603,191.4 604,188.4 605,188.4 606,187.6 607,188.6 608,185.3 609,186.5 610,183.9 611,185.8 612,187.1 613,184.4 614,183.9 615,183.3 616,183.9 617,183.2 618,182.5 619,181.4 620,180.1 621,180.7 622,180.8 623,177.1 624,177.6 625,175.7 626,174.9 627,173.4 628,175.3 629,174.3 630,174.6 631,174.6 632,173.6 633,173.5 634,173.3 635,174.1 636,173.5 637,172.0 638,170.8 639,172.1 640,171.8 641,172.6 642,172.5 643,169.7 644,169.0 645,172.8 646,171.5 647,170.4 648,168.6 649,167.9 650,167.5 651,167.2 652,165.8 653,168.2 654,166.0 655,166.5 656,165.9 657,166.0 658,168.4 659,169.2 660,167.2 661,167.1 662,167.4 663,165.1 664,168.0 665,164.6 666,164.5 667,164.3 668,162.7 669,162.2 670,164.1 671,161.5 672,161.5 673,161.9 674,163.8 675,162.3 676,164.1 677,162.3 678,161.6 679,160.3 680,161.6 681,162.7 682,162.9 683,161.3 684,161.9 685,163.5 686,160.6 687,160.9 688,161.5 689,161.5 690,160.9 691,158.4 692,158.5 693,157.7 694,162.0 695,162.3 696,160.5 697,160.9 698,160.3 699,159.8 700,157.0 701,155.8 702,155.1 703,156.1 704,156.2 705,156.9 706,156.3 707,160.0 708,160.5 709,158.2 710,159.9 711,158.2 712,156.9 713,155.9 714,158.0 715,158.4 716,160.4 717,160.9 718,160.4 719,160.9 720,156.9 721,157.5 722,158.0 723,156.4 724,158.9 725,157.6 726,157.2 727,155.7 728,158.1 729,153.6 730,156.1 731,155.5 732,158.3 733,154.1 734,154.9 735,155.1 736,155.2 737,153.8 738,152.9 739,153.1 740,153.7 741,154.1 742,154.2 743,157.9 744,155.7 745,153.9 746,153.0 747,157.1 748,155.5 749,155.2 750,152.5 751,153.4 752,151.9 753,154.4 754,155.3 755,154.1 756,153.2 757,150.9 758,151.9 759,151.8 760,152.7 761,155.5 762,153.0 763,151.2 764,151.6 765,153.1 766,149.9 767,150.9 768,150.3 769,151.0 770,151.2 771,151.8 772,152.3 773,152.5 774,154.7 775,153.9 776,156.7 777,156.9 778,158.1 779,155.1 780,155.2 781,155.1 782,156.9 783,155.2 784,156.4 785,154.0 786,155.0 787,156.0 788,154.9 789,157.5 790,156.3 791,154.8 792,153.7 793,152.5 794,153.9 795,149.9 796,150.7 797,154.3 798,150.8 799,153.6 800,154.4 801,154.4 802,153.4 803,155.1 804,154.4 805,153.6 806,153.3 807,155.2 808,154.7 809,154.8 810,154.3 811,153.1 812,154.3 813,153.8 814,152.3 815,154.4 816,152.7 817,151.4 818,153.7 819,153.0 820,152.3 821,152.7 822,150.7 823,153.3 824,153.8 825,154.1 826,153.0 827,153.5 828,148.6 829,150.8 830,153.6 831,151.6 832,151.7 833,153.8 834,153.5 835,155.5 836,154.4 837,152.5 838,152.0M839,137.2 840,137.3 841,137.7 842,137.2 843,136.7 844,135.7 845,137.0 846,137.5 847,136.7 848,137.9 849,138.2 850,139.7 851,137.7 852,138.1 853,137.3 854,137.6 855,136.4 856,134.6 857,136.1 858,136.0 859,136.6 860,135.3 861,136.2 862,134.7 863,135.6 864,135.8 865,133.9 866,135.2 867,136.3 868,138.0 869,136.3 870,136.3 871,136.4 872,135.3 873,134.8 874,136.3 875,136.5 876,136.1 877,138.4 878,135.7 879,136.2 880,135.9 881,135.8 882,135.3 883,135.0 884,134.9 885,136.9 886,137.2 887,136.8 888,134.5 889,134.9 890,135.3 891,135.9 892,136.0 893,135.3 894,136.2"/>
<path class="tr" d="M530,136.3 531,137.2 532,136.8 533,135.9 534,136.9 535,136.7 536,138.1 537,138.6 538,136.6 539,136.9 540,135.9 541,135.7 542,135.9 543,137.1 544,136.9 545,136.6 546,137.4 547,136.6 548,135.7 549,135.5 550,135.8 551,135.6 552,137.7 553,138.0 554,136.9 555,138.0 556,137.7 557,136.5 558,136.1 559,136.5 560,137.6 561,136.8 562,137.0 563,137.3 564,137.5 565,137.4 566,136.1 567,137.1 568,136.3 569,136.7 570,136.6 571,136.9 572,135.6 573,134.5M574,260.0 575,257.6 576,255.2 577,250.2 578,250.2 579,249.1 580,247.1 581,243.5 582,240.9 583,239.6 584,238.4 585,238.2 586,236.9 587,233.8 588,230.6 589,230.5 590,231.4 591,230.2 592,228.4 593,229.5 594,226.3 595,223.3 596,221.5 597,220.2 598,219.2 599,217.5 600,220.3 601,219.4 602,219.5 603,217.7 604,214.9 605,215.3 606,217.1 607,213.1 608,211.6 609,213.1 610,209.2 611,208.4 612,210.6 613,207.1 614,205.5 615,203.5 616,203.6 617,205.4 618,199.1 619,200.0 620,203.1 621,206.1 622,205.9 623,204.1 624,204.8 625,200.6 626,197.3 627,200.5 628,204.0 629,201.4 630,201.2 631,199.8 632,200.9 633,201.7 634,200.3 635,195.4 636,199.0 637,197.5 638,197.9 639,195.1 640,197.2 641,193.1 642,198.2 643,196.4 644,193.6 645,193.8 646,190.0 647,195.1 648,193.9 649,194.0 650,193.9 651,192.3 652,193.6 653,192.2 654,190.8 655,191.5 656,192.8 657,194.4 658,191.8 659,192.9 660,190.3 661,189.6 662,190.0 663,189.8 664,189.3 665,185.4 666,183.8 667,181.7 668,185.1 669,187.7 670,185.5 671,187.8 672,183.8 673,185.0 674,186.3 675,189.3 676,191.2 677,189.6 678,188.4 679,186.8 680,186.1 681,186.8 682,188.5 683,189.1 684,187.8 685,185.7 686,186.9 687,186.7 688,183.7 689,182.7 690,184.7 691,185.1 692,186.2 693,183.5 694,181.6 695,181.9 696,181.3 697,182.3 698,182.9 699,181.4 700,178.4 701,181.9 702,183.3 703,183.1 704,186.4 705,184.7 706,185.2 707,182.6 708,185.5 709,183.6 710,181.6 711,181.8 712,181.0 713,179.6 714,178.8 715,178.2 716,176.3 717,179.8 718,181.1 719,181.8 720,178.3 721,177.7 722,178.5 723,178.2 724,179.0 725,178.4 726,177.8 727,178.4 728,178.5 729,177.4 730,177.8 731,174.4 732,175.6 733,175.2 734,176.1 735,178.2 736,175.7 737,177.1 738,176.5 739,176.2 740,177.3 741,177.4 742,174.7 743,175.9 744,175.2 745,174.8 746,176.0 747,176.6 748,174.8 749,172.7 750,177.6 751,176.4 752,177.2 753,175.6 754,175.8 755,175.1 756,177.6 757,175.4 758,175.7 759,176.4 760,174.0 761,175.2 762,172.9 763,171.7 764,171.2 765,172.4 766,174.6 767,172.3 768,173.7 769,174.4 770,172.2 771,171.3 772,169.5 773,168.6 774,171.1 775,170.4 776,169.4 777,169.3 778,170.2 779,171.4 780,169.4 781,169.8 782,172.1 783,171.0 784,171.0 785,170.6 786,170.8 787,168.7 788,166.2 789,168.5 790,167.3 791,169.5 792,167.2 793,168.4 794,167.3 795,170.0 796,171.6 797,169.0 798,167.6 799,167.9 800,165.5 801,168.2 802,169.5 803,168.6 804,167.9 805,169.1 806,167.6 807,168.4 808,167.7 809,166.4 810,163.5 811,164.2 812,166.5 813,166.4 814,164.8 815,163.6 816,164.0 817,162.2 818,164.1 819,165.8 820,163.8 821,165.1 822,165.6 823,163.7 824,166.6 825,167.4 826,167.8 827,166.0 828,166.9 829,166.5 830,168.3 831,165.7 832,166.5 833,165.8 834,162.5 835,163.6 836,163.4 837,164.6 838,164.1M839,139.4 840,138.5 841,140.9 842,138.3 843,138.6 844,137.4 845,137.7 846,137.8 847,135.9 848,136.8 849,136.5 850,136.4 851,137.2 852,135.9 853,137.8 854,137.4 855,137.5 856,137.2 857,137.5 858,136.4 859,138.2 860,137.3 861,136.7 862,136.3 863,137.1 864,137.4 865,135.9 866,135.2 867,136.3 868,134.6 869,136.5 870,137.3 871,138.3 872,138.7 873,136.3 874,137.3 875,140.3 876,136.5 877,137.0 878,135.7 879,135.5 880,133.8 881,135.3 882,135.2 883,134.2 884,135.6 885,135.2 886,137.0 887,137.8 888,135.2 889,135.7 890,133.2 891,133.3 892,134.7 893,135.9 894,136.1"/>
<path class="tr" d="M530,136.3 531,135.7 532,136.5 533,138.5 534,137.7 535,137.2 536,136.5 537,137.1 538,138.6 539,138.2 540,139.0 541,138.9 542,137.0 543,136.5 544,136.3 545,137.8 546,138.6 547,137.3 548,137.1 549,136.4 550,136.2 551,136.9 552,137.7 553,137.3 554,136.6 555,134.9 556,137.0 557,135.9 558,135.6 559,134.5 560,135.0 561,135.2 562,136.0 563,133.9 564,134.2 565,135.9 566,136.4 567,135.3 568,135.0 569,135.5 570,136.8 571,135.6 572,136.2 573,135.6M574,279.0 575,276.0 576,273.6 577,270.3 578,269.3 579,267.5 580,266.9 581,263.5 582,261.1 583,261.0 584,259.2 585,258.8 586,257.0 587,258.0 588,255.5 589,252.8 590,249.7 591,250.1 592,248.7 593,248.1 594,247.3 595,245.7 596,246.6 597,247.7 598,245.9 599,247.1 600,243.6 601,243.3 602,238.8 603,241.1 604,236.7 605,236.1 606,233.7 607,235.1 608,235.6 609,234.8 610,232.7 611,229.4 612,230.3 613,228.4 614,230.0 615,231.2 616,232.9 617,232.3 618,227.4 619,227.5 620,223.1 621,227.4 622,226.6 623,230.4 624,232.6 625,232.5 626,225.7 627,223.6 628,220.8 629,217.9 630,218.2 631,222.2 632,221.2 633,216.8 634,217.3 635,214.1 636,220.8 637,216.8 638,211.6 639,212.6 640,212.1 641,208.9 642,212.4 643,214.6 644,214.9 645,211.5 646,211.3 647,213.8 648,210.5 649,212.5 650,214.2 651,218.2 652,211.8 653,208.6 654,212.8 655,213.3 656,209.0 657,207.5 658,209.0 659,208.8 660,211.7 661,212.6 662,213.2 663,209.4 664,207.9 665,209.0 666,213.6 667,215.1 668,213.8 669,209.6 670,211.8 671,212.4 672,209.9 673,209.9 674,209.9 675,208.8 676,208.0 677,206.9 678,207.0 679,205.4 680,202.9 681,203.8 682,206.2 683,207.3 684,206.2 685,207.5 686,208.1 687,207.9 688,207.2 689,204.2 690,204.8 691,205.3 692,201.7 693,204.8 694,205.2 695,205.0 696,206.4 697,205.4 698,204.6 699,202.3 700,200.4 701,200.2 702,195.4 703,197.1 704,195.3 705,197.1 706,199.3 707,197.5 708,199.2 709,197.6 710,201.1 711,198.7 712,195.9 713,199.3 714,201.4 715,199.2 716,197.8 717,200.2 718,198.1 719,199.3 720,198.4 721,196.9 722,196.1 723,196.3 724,197.2 725,194.2 726,194.3 727,196.1 728,197.2 729,196.5 730,197.9 731,196.1 732,193.9 733,194.8 734,196.3 735,192.9 736,193.4 737,192.9 738,194.9 739,191.1 740,190.3 741,194.1 742,193.4 743,193.3 744,196.5 745,196.2 746,195.6 747,193.4 748,193.7 749,194.7 750,193.8 751,197.0 752,195.0 753,195.5 754,195.7 755,194.7 756,188.5 757,189.3 758,189.1 759,191.2 760,190.6 761,189.5 762,194.9 763,190.9 764,191.6 765,188.3 766,191.8 767,190.6 768,190.8 769,189.9 770,190.2 771,191.9 772,190.8 773,190.6 774,192.1 775,193.3 776,193.5 777,195.1 778,191.7 779,191.9 780,189.8 781,188.9 782,191.0 783,189.2 784,191.0 785,186.1 786,188.6 787,187.7 788,190.0 789,188.6 790,187.5 791,188.4 792,187.1 793,189.6 794,193.3 795,190.9 796,187.8 797,189.6 798,189.9 799,188.2 800,187.9 801,191.5 802,189.9 803,189.4 804,190.9 805,190.1 806,196.9 807,196.0 808,192.4 809,189.2 810,188.8 811,189.4 812,186.9 813,186.5 814,186.7 815,184.0 816,186.2 817,186.3 818,188.3 819,186.3 820,184.5 821,184.6 822,188.9 823,191.2 824,187.9 825,188.0 826,188.5 827,189.7 828,188.0 829,187.5 830,186.3 831,185.0 832,187.3 833,185.9 834,188.3 835,187.8 836,187.9 837,186.3 838,188.1M839,142.7 840,143.5 841,142.9 842,138.8 843,140.1 844,139.4 845,139.8 846,141.3 847,140.7 848,140.9 849,139.7 850,139.4 851,137.8 852,136.9 853,136.2 854,138.2 855,139.0 856,136.5 857,139.8 858,139.2 859,139.5 860,138.3 861,140.5 862,138.4 863,138.3 864,139.2 865,137.3 866,135.5 867,137.8 868,138.7 869,137.6 870,138.0 871,137.9 872,135.7 873,135.4 874,133.5 875,135.7 876,135.1 877,133.4 878,134.5 879,137.3 880,136.3 881,137.6 882,137.8 883,138.8 884,139.3 885,137.3 886,138.3 887,136.3 888,136.2 889,135.4 890,136.4 891,135.3 892,134.1 893,136.8 894,135.9"/>
<path class="tr" d="M530,136.3 531,135.3 532,136.1 533,135.8 534,135.6 535,134.4 536,135.0 537,135.3 538,134.9 539,134.5 540,135.1 541,135.6 542,135.3 543,134.9 544,135.4 545,136.0 546,134.7 547,135.0 548,135.7 549,134.8 550,135.7 551,135.6 552,136.3 553,138.1 554,137.0 555,136.8 556,135.6 557,135.1 558,135.4 559,136.0 560,136.7 561,137.9 562,138.8 563,136.9 564,136.7 565,137.1 566,136.6 567,137.1 568,136.4 569,136.5 570,136.0 571,136.8 572,138.5 573,137.9M574,295.7 575,293.1 576,290.6 577,287.3 578,286.3 579,284.8 580,283.9 581,282.4 582,278.9 583,279.5 584,274.7 585,272.3 586,273.2 587,271.1 588,269.9 589,264.7 590,266.5 591,266.4 592,266.0 593,260.6 594,259.7 595,260.6 596,261.0 597,261.8 598,259.4 599,259.5 600,259.2 601,258.2 602,255.2 603,254.4 604,250.4 605,248.6 606,249.6 607,248.2 608,248.3 609,249.8 610,249.5 611,243.2 612,244.4 613,243.9 614,241.4 615,243.0 616,239.1 617,241.8 618,241.7 619,242.8 620,236.4 621,238.4 622,237.7 623,235.9 624,237.7 625,238.6 626,239.4 627,237.9 628,237.3 629,239.2 630,233.1 631,234.3 632,234.6 633,231.7 634,229.3 635,229.1 636,229.4 637,229.3 638,232.3 639,227.1 640,229.0 641,230.1 642,229.8 643,226.6 644,225.2 645,222.2 646,223.4 647,223.9 648,223.7 649,223.9 650,223.0 651,224.9 652,225.2 653,227.2 654,221.8 655,224.7 656,225.1 657,217.7 658,218.1 659,218.4 660,217.9 661,220.9 662,220.5 663,221.0 664,220.0 665,219.3 666,220.1 667,218.4 668,219.2 669,218.8 670,212.6 671,213.2 672,219.0 673,215.2 674,215.2 675,214.4 676,211.5 677,215.6 678,213.3 679,213.5 680,214.6 681,216.2 682,212.4 683,210.8 684,211.7 685,211.4 686,211.2 687,212.2 688,212.3 689,215.3 690,211.6 691,211.6 692,213.6 693,209.2 694,212.7 695,213.6 696,212.8 697,216.0 698,215.1 699,212.8 700,210.8 701,212.0 702,211.2 703,209.8 704,212.7 705,211.7 706,210.6 707,211.1 708,209.2 709,210.7 710,207.7 711,209.4 712,207.7 713,205.4 714,208.9 715,208.8 716,207.1 717,208.1 718,208.3 719,206.6 720,205.2 721,205.6 722,206.7 723,207.1 724,211.7 725,209.3 726,208.8 727,206.8 728,209.1 729,206.1 730,203.0 731,204.7 732,204.9 733,201.1 734,203.4 735,203.3 736,202.6 737,202.3 738,202.7 739,204.1 740,203.0 741,200.9 742,204.7 743,201.3 744,200.1 745,199.6 746,200.5 747,199.2 748,196.9 749,196.3 750,196.2 751,196.3 752,197.6 753,200.5 754,199.6 755,201.5 756,198.8 757,197.9 758,200.2 759,201.4 760,199.4 761,201.3 762,200.6 763,202.4 764,198.1 765,199.1 766,201.5 767,199.2 768,197.4 769,199.9 770,200.4 771,197.7 772,199.0 773,197.4 774,198.0 775,197.4 776,198.6 777,195.6 778,197.9 779,195.4 780,195.0 781,196.0 782,195.8 783,195.4 784,195.6 785,195.0 786,195.1 787,193.0 788,192.7 789,194.0 790,192.2 791,191.1 792,187.8 793,191.3 794,193.2 795,195.6 796,192.7 797,195.2 798,190.6 799,193.3 800,196.2 801,194.2 802,194.6 803,195.0 804,193.5 805,191.6 806,193.2 807,192.9 808,189.9 809,190.2 810,188.3 811,190.1 812,193.0 813,191.9 814,191.3 815,191.4 816,187.3 817,189.4 818,193.6 819,189.8 820,188.6 821,187.2 822,188.4 823,188.0 824,190.0 825,189.5 826,188.6 827,190.9 828,186.9 829,186.1 830,188.4 831,190.9 832,188.1 833,190.0 834,185.0 835,190.0 836,188.2 837,186.6 838,188.4M839,145.7 840,144.5 841,143.3 842,141.8 843,141.5 844,140.3 845,141.3 846,141.3 847,141.6 848,141.6 849,139.2 850,140.7 851,140.3 852,139.8 853,141.3 854,141.7 855,139.9 856,138.6 857,137.8 858,138.5 859,136.5 860,137.4 861,137.5 862,137.7 863,137.7 864,136.3 865,138.0 866,138.9 867,138.9 868,136.3 869,135.6 870,137.4 871,136.0 872,138.0 873,137.1 874,137.6 875,135.8 876,135.8 877,134.8 878,135.3 879,134.5 880,137.2 881,135.6 882,138.7 883,139.3 884,139.0 885,135.4 886,135.8 887,135.2 888,135.3 889,138.1 890,137.4 891,136.5 892,136.1 893,136.8 894,136.7"/>
<path class="tr" d="M530,136.3 531,136.3 532,136.2 533,136.5 534,135.0 535,135.6 536,135.2 537,135.8 538,137.0 539,136.6 540,137.2 541,137.6 542,136.3 543,136.2 544,135.7 545,136.6 546,137.3 547,136.0 548,135.8 549,135.1 550,135.1 551,134.9 552,136.0 553,136.6 554,136.0 555,137.4 556,137.0 557,137.5 558,138.2 559,136.0 560,136.3 561,136.5 562,136.8 563,136.7 564,137.0 565,136.9 566,136.5 567,137.1 568,137.0 569,136.6 570,135.5 571,136.9 572,137.0 573,136.2M574,307.4 575,305.5 576,303.3 577,300.0 578,299.0 579,296.8 580,294.6 581,292.9 582,293.9 583,290.3 584,288.8 585,286.2 586,286.1 587,284.4 588,284.9 589,283.2 590,279.6 591,281.2 592,276.9 593,278.4 594,277.0 595,275.7 596,271.9 597,272.1 598,274.1 599,270.0 600,267.1 601,268.3 602,268.0 603,266.1 604,264.9 605,263.3 606,264.7 607,257.7 608,256.7 609,260.3 610,257.1 611,252.8 612,256.7 613,260.9 614,257.8 615,262.1 616,260.6 617,257.1 618,256.7 619,255.4 620,250.5 621,249.5 622,248.6 623,248.4 624,248.4 625,244.0 626,245.0 627,246.3 628,249.0 629,248.0 630,245.2 631,245.2 632,243.2 633,245.7 634,248.8 635,246.1 636,245.6 637,246.8 638,242.6 639,243.5 640,245.5 641,241.8 642,244.6 643,242.1 644,242.0 645,243.7 646,240.3 647,240.9 648,238.2 649,234.9 650,236.0 651,234.2 652,235.5 653,233.1 654,235.3 655,236.8 656,237.5 657,236.1 658,239.7 659,236.5 660,238.9 661,236.7 662,235.9 663,237.3 664,236.0 665,235.1 666,232.9 667,230.8 668,229.2 669,233.1 670,230.8 671,234.3 672,231.7 673,233.7 674,228.1 675,226.9 676,226.0 677,221.8 678,224.2 679,222.7 680,224.0 681,222.8 682,221.1 683,222.7 684,226.3 685,223.8 686,221.7 687,226.3 688,229.5 689,228.5 690,226.1 691,226.2 692,226.9 693,227.7 694,228.2 695,223.8 696,222.6 697,220.4 698,218.9 699,220.2 700,220.3 701,224.1 702,225.8 703,224.2 704,223.8 705,225.4 706,225.3 707,219.6 708,220.9 709,222.7 710,221.8 711,221.4 712,218.1 713,218.7 714,220.0 715,219.8 716,216.5 717,219.7 718,222.9 719,224.2 720,225.6 721,219.5 722,218.6 723,218.9 724,213.6 725,215.2 726,214.8 727,213.7 728,216.3 729,217.8 730,213.8 731,213.0 732,217.6 733,215.4 734,218.5 735,216.3 736,216.6 737,214.4 738,215.7 739,216.2 740,216.4 741,216.7 742,218.5 743,214.1 744,218.2 745,212.7 746,211.0 747,209.3 748,211.4 749,214.7 750,214.6 751,217.0 752,213.3 753,211.3 754,212.1 755,212.7 756,213.9 757,216.0 758,213.5 759,215.0 760,213.6 761,211.6 762,212.1 763,210.5 764,209.8 765,209.7 766,207.8 767,210.3 768,210.0 769,210.0 770,212.0 771,212.1 772,210.2 773,210.8 774,211.3 775,210.5 776,210.4 777,213.3 778,209.0 779,209.6 780,210.2 781,211.9 782,214.5 783,209.2 784,209.8 785,210.7 786,208.3 787,209.1 788,212.5 789,213.1 790,212.4 791,210.6 792,208.4 793,209.5 794,204.9 795,207.2 796,208.9 797,209.4 798,210.6 799,209.6 800,210.6 801,209.8 802,206.4 803,209.1 804,208.0 805,205.1 806,205.7 807,208.5 808,203.7 809,205.0 810,205.7 811,208.0 812,207.9 813,206.0 814,208.0 815,204.8 816,205.0 817,207.8 818,207.8 819,205.7 820,201.6 821,204.1 822,203.9 823,203.9 824,204.2 825,205.8 826,206.8 827,204.4 828,203.5 829,207.5 830,206.6 831,204.0 832,206.5 833,206.4 834,205.2 835,204.9 836,203.5 837,205.8 838,205.7M839,173.0 840,174.0 841,173.0 842,170.4 843,165.7 844,165.9 845,163.2 846,161.1 847,158.8 848,158.4 849,156.7 850,156.2 851,155.3 852,152.8 853,150.0 854,148.7 855,149.0 856,148.8 857,148.7 858,149.8 859,148.6 860,146.3 861,146.4 862,147.6 863,149.9 864,148.0 865,145.9 866,144.6 867,146.0 868,144.4 869,143.5 870,145.1 871,143.5 872,143.2 873,142.5 874,142.3 875,140.1 876,139.1 877,139.1 878,138.6 879,139.3 880,138.4 881,137.6 882,137.8 883,136.5 884,138.1 885,137.6 886,138.9 887,139.3 888,138.8 889,138.0 890,139.5 891,139.0 892,140.3 893,139.0 894,140.0"/>
<path class="tr" d="M530,136.3 531,136.3 532,136.1 533,135.5 534,134.8 535,136.6 536,136.0 537,137.9 538,137.1 539,134.8 540,135.3 541,134.7 542,137.1 543,136.6 544,136.8 545,135.3 546,135.0 547,137.6 548,137.1 549,137.7 550,137.6 551,137.5 552,136.5 553,136.1 554,136.6 555,136.1 556,135.5 557,136.4 558,135.2 559,134.6 560,135.5 561,135.9 562,135.8 563,136.0 564,135.2 565,135.1 566,136.3 567,136.1 568,136.1 569,135.7 570,137.1 571,136.3 572,137.1 573,137.1M574,317.2 575,314.8 576,312.4 577,311.2 578,308.0 579,306.6 580,303.5 581,302.4 582,300.1 583,298.5 584,297.1 585,296.8 586,295.9 587,295.1 588,295.0 589,293.0 590,289.9 591,290.8 592,289.0 593,290.7 594,289.3 595,289.7 596,289.5 597,284.7 598,283.2 599,281.3 600,280.3 601,280.4 602,281.2 603,279.8 604,279.3 605,278.4 606,274.1 607,274.8 608,276.1 609,275.8 610,275.2 611,272.2 612,269.1 613,272.0 614,268.8 615,265.0 616,263.0 617,262.4 618,263.5 619,262.6 620,266.1 621,265.1 622,267.5 623,269.6 624,269.0 625,266.2 626,266.4 627,262.1 628,263.0 629,263.6 630,262.1 631,260.8 632,259.4 633,262.4 634,263.9 635,261.7 636,260.0 637,260.4 638,253.2 639,257.8 640,252.8 641,254.3 642,252.5 643,250.9 644,252.9 645,253.6 646,255.5 647,257.6 648,257.8 649,256.1 650,254.9 651,255.8 652,251.9 653,249.5 654,250.8 655,252.9 656,250.7 657,246.6 658,255.0 659,254.3 660,250.0 661,253.1 662,252.0 663,250.9 664,250.8 665,249.4 666,254.2 667,252.3 668,251.2 669,251.8 670,250.8 671,249.7 672,250.2 673,242.0 674,242.6 675,246.6 676,248.5 677,248.6 678,248.6 679,244.2 680,244.8 681,244.4 682,247.1 683,242.9 684,244.4 685,244.6 686,245.4 687,245.4 688,244.0 689,244.2 690,244.8 691,244.4 692,244.2 693,241.8 694,241.0 695,238.7 696,238.3 697,236.4 698,231.7 699,241.2 700,241.2 701,236.5 702,236.0 703,239.1 704,235.2 705,236.6 706,238.6 707,235.1 708,236.3 709,236.9 710,235.3 711,236.1 712,239.6 713,239.8 714,239.9 715,237.8 716,240.1 717,236.6 718,232.8 719,230.4 720,233.3 721,237.9 722,234.0 723,233.3 724,233.6 725,233.3 726,231.7 727,233.5 728,234.4 729,234.1 730,229.9 731,232.1 732,232.9 733,231.2 734,236.3 735,232.8 736,234.6 737,230.0 738,229.5 739,232.0 740,227.3 741,227.3 742,229.2 743,227.1 744,231.4 745,232.5 746,230.3 747,226.9 748,228.0 749,231.5 750,226.9 751,226.9 752,226.2 753,231.4 754,226.2 755,227.1 756,227.7 757,233.7 758,231.8 759,230.9 760,229.4 761,232.0 762,232.0 763,230.9 764,225.1 765,227.4 766,230.1 767,229.3 768,224.9 769,226.2 770,224.3 771,227.0 772,221.2 773,219.8 774,220.9 775,218.8 776,219.4 777,222.8 778,227.0 779,228.8 780,228.2 781,223.7 782,226.5 783,222.5 784,224.7 785,225.9 786,226.2 787,227.1 788,224.8 789,225.5 790,221.6 791,225.9 792,227.2 793,223.0 794,227.9 795,222.3 796,223.0 797,223.3 798,225.3 799,227.0 800,227.3 801,225.8 802,224.5 803,222.0 804,221.7 805,222.0 806,220.5 807,219.5 808,216.3 809,217.4 810,223.4 811,222.0 812,219.3 813,222.4 814,219.2 815,220.5 816,215.9 817,215.5 818,214.0 819,215.4 820,216.3 821,213.6 822,214.1 823,212.2 824,215.9 825,218.7 826,218.0 827,219.0 828,212.6 829,216.4 830,216.6 831,217.5 832,217.0 833,215.5 834,213.7 835,216.1 836,218.5 837,217.7 838,217.4M839,196.2 840,193.7 841,189.1 842,188.5 843,186.0 844,186.4 845,182.8 846,181.7 847,181.2 848,179.6 849,180.8 850,178.5 851,178.7 852,174.5 853,176.6 854,172.1 855,171.7 856,170.2 857,169.2 858,168.6 859,166.0 860,164.1 861,165.7 862,162.6 863,161.2 864,157.9 865,158.5 866,158.1 867,159.7 868,158.6 869,156.0 870,153.3 871,152.9 872,152.8 873,153.6 874,151.5 875,152.8 876,152.7 877,152.2 878,151.4 879,148.8 880,149.7 881,146.9 882,148.2 883,148.6 884,146.7 885,148.5 886,149.1 887,146.1 888,147.5 889,147.0 890,145.9 891,147.3 892,145.0 893,146.6 894,147.4"/>
<path class="tv" d="M573.6 130.2V317.2"/>
<path class="tv" style="stroke-width:2.0" d="M838.6 130.7V217.4"/>
<path class="tr" d="M930,131.4 931,130.6 932,130.8 933,131.8 934,131.4 935,131.0 936,131.0 937,131.5 938,130.5 939,131.7 940,131.7 941,131.0 942,131.6 943,130.1 944,130.4 945,131.3 946,132.2 947,131.1 948,130.6 949,131.2 950,131.4 951,131.0 952,130.9 953,132.1 954,131.2 955,130.5 956,131.0 957,132.0 958,132.0 959,131.6 960,130.8 961,131.2 962,132.9 963,132.2 964,132.2 965,130.8 966,131.1 967,131.0 968,132.2 969,131.5 970,131.4 971,131.2 972,129.9 973,131.6 974,130.5 975,130.9 976,130.4 977,130.8 978,131.0 979,131.0 980,132.1 981,131.0 982,131.1 983,131.6 984,131.3 985,131.1 986,132.4 987,132.1 988,131.2 989,131.5 990,131.0 991,131.5 992,130.7 993,131.6 994,131.7 995,131.7 996,131.5 997,131.6 998,131.0 999,131.3 1000,131.7 1001,131.8 1002,131.0 1003,131.6 1004,130.9 1005,130.9 1006,130.8 1007,130.9 1008,131.2 1009,131.7 1010,132.1 1011,131.9 1012,131.2 1013,131.8 1014,132.0 1015,131.2 1016,130.7 1017,131.1 1018,132.4 1019,131.6 1020,131.4 1021,131.8 1022,130.9 1023,130.7 1024,131.2 1025,131.8 1026,131.4 1027,131.1 1028,130.4 1029,132.0 1030,130.9 1031,132.0 1032,131.2 1033,132.0 1034,132.5 1035,131.3 1036,131.7 1037,131.9 1038,132.2 1039,131.5 1040,132.1 1041,131.7 1042,131.0 1043,131.8 1044,132.2 1045,131.7 1046,131.4 1047,131.8 1048,132.4 1049,131.1 1050,131.9 1051,132.6 1052,131.3 1053,131.7 1054,131.5 1055,131.7 1056,132.2 1057,130.8 1058,131.0 1059,130.6 1060,131.0 1061,132.3 1062,131.1 1063,131.1 1064,131.0 1065,131.5 1066,131.3 1067,131.0 1068,130.9 1069,131.2 1070,130.7 1071,129.9 1072,131.6 1073,131.5 1074,131.1 1075,131.3 1076,131.8 1077,131.1 1078,131.3 1079,131.1 1080,132.0 1081,130.3 1082,130.4 1083,131.8 1084,130.9 1085,130.9 1086,130.6 1087,130.0 1088,130.9 1089,131.6 1090,131.6 1091,130.8 1092,131.0 1093,132.2 1094,131.5 1095,131.0 1096,131.8 1097,131.4 1098,130.4 1099,130.7 1100,131.7 1101,131.4 1102,131.4 1103,131.7 1104,131.1 1105,130.5 1106,131.1 1107,131.0 1108,131.3 1109,131.0 1110,130.9 1111,130.5 1112,131.3 1113,132.4 1114,131.1 1115,131.9 1116,131.9 1117,131.2 1118,130.8 1119,131.5 1120,131.3 1121,131.2 1122,131.1 1123,132.3 1124,130.8 1125,131.5 1126,132.4 1127,131.8 1128,132.7 1129,131.8 1130,131.6 1131,131.9 1132,131.2 1133,131.4 1134,131.7 1135,131.2 1136,131.6 1137,132.1 1138,131.0 1139,131.2 1140,131.6 1141,131.1 1142,131.9 1143,132.2 1144,131.4 1145,131.5 1146,131.1 1147,131.3 1148,131.6 1149,131.4 1150,131.5 1151,131.2 1152,132.0 1153,132.1 1154,131.3 1155,131.7 1156,132.9 1157,131.6 1158,132.2 1159,133.1 1160,131.8 1161,132.0 1162,130.5 1163,131.9 1164,131.9 1165,132.0 1166,131.7 1167,132.1 1168,132.2 1169,132.1 1170,131.5 1171,131.4 1172,131.5 1173,131.3 1174,131.0 1175,130.6 1176,131.2 1177,130.9 1178,131.1 1179,130.7 1180,130.5 1181,131.0 1182,131.2 1183,132.5 1184,131.7 1185,132.1 1186,131.9 1187,131.8 1188,131.4 1189,131.8 1190,131.8 1191,130.8 1192,131.6 1193,131.4 1194,130.6 1195,130.8 1196,131.6 1197,132.0 1198,131.6 1199,132.1 1200,132.1 1201,130.8 1202,130.7 1203,131.4 1204,131.0 1205,131.0 1206,131.5 1207,131.3 1208,131.0 1209,130.6 1210,132.3 1211,131.0 1212,131.1 1213,131.9 1214,131.5 1215,131.0 1216,130.7 1217,131.8 1218,132.0 1219,130.6 1220,130.5 1221,131.5 1222,132.3 1223,131.4 1224,131.9 1225,130.8 1226,130.4 1227,130.5 1228,131.4 1229,131.5 1230,131.9 1231,130.6 1232,132.1 1233,131.4 1234,132.9 1235,132.0 1236,130.7 1237,131.2 1238,130.9 1239,132.1 1240,131.8 1241,132.2 1242,131.2 1243,131.0 1244,131.4 1245,131.5 1246,131.0 1247,131.6 1248,132.1 1249,131.5 1250,131.2 1251,131.1 1252,131.6 1253,131.4 1254,131.7 1255,132.1 1256,131.5 1257,131.3 1258,131.2 1259,132.2 1260,131.6 1261,131.5 1262,131.3 1263,131.9 1264,131.8 1265,130.9 1266,131.8 1267,131.8 1268,132.2 1269,131.9 1270,131.6 1271,130.9 1272,131.8 1273,132.2 1274,131.2 1275,131.3 1276,131.6 1277,131.4 1278,131.6 1279,131.3 1280,131.0 1281,132.0 1282,130.7 1283,131.5 1284,131.0 1285,131.3 1286,131.0 1287,131.4 1288,131.1 1289,131.5 1290,130.7 1291,130.6 1292,131.1 1293,131.7 1294,131.0"/>
<path class="tr" d="M930,132.3 931,132.1 932,132.6 933,131.4 934,131.5 935,131.5 936,131.4 937,131.2 938,131.7 939,131.6 940,132.9 941,132.4 942,132.5 943,131.2 944,132.8 945,133.2 946,132.0 947,131.6 948,131.7 949,132.8 950,131.7 951,131.6 952,131.2 953,132.1 954,132.7 955,131.9 956,132.8 957,132.5 958,131.9 959,132.5 960,133.0 961,133.2 962,132.8 963,133.1 964,132.5 965,132.5 966,133.3 967,132.5 968,131.9 969,131.5 970,131.8 971,131.1 972,131.4 973,131.4 974,131.9 975,131.4 976,132.0 977,132.2 978,132.7 979,133.0 980,133.3 981,132.5 982,131.6 983,132.5 984,132.6 985,132.1 986,132.7 987,133.5 988,132.8 989,132.2 990,132.4 991,131.8 992,133.2 993,131.9 994,131.6 995,132.6 996,132.3 997,131.6 998,132.6 999,133.0 1000,131.6 1001,132.4 1002,132.9 1003,133.5 1004,132.9 1005,132.9 1006,132.5 1007,132.7 1008,133.4 1009,133.0 1010,132.2 1011,132.2 1012,133.3 1013,131.9 1014,131.9 1015,131.8 1016,132.9 1017,132.0 1018,132.0 1019,132.2 1020,132.6 1021,132.7 1022,131.8 1023,131.5 1024,131.3 1025,132.6 1026,132.3 1027,132.4 1028,132.3 1029,131.5 1030,131.2 1031,131.4 1032,133.1 1033,132.3 1034,132.6 1035,131.8 1036,133.5 1037,132.7 1038,131.6 1039,131.8 1040,132.3 1041,132.8 1042,132.3 1043,132.6 1044,132.5 1045,132.5 1046,132.1 1047,132.4 1048,132.9 1049,132.5 1050,132.2 1051,133.7 1052,133.1 1053,132.9 1054,131.7 1055,132.7 1056,131.6 1057,132.7 1058,132.6 1059,132.1 1060,131.9 1061,132.3 1062,132.1 1063,131.3 1064,132.6 1065,131.6 1066,132.0 1067,131.9 1068,133.0 1069,131.7 1070,132.6 1071,132.6 1072,130.8 1073,131.1 1074,131.6 1075,131.5 1076,132.2 1077,132.5 1078,132.9 1079,132.1 1080,132.5 1081,132.2 1082,132.5 1083,132.3 1084,132.3 1085,132.1 1086,132.5 1087,132.4 1088,131.8 1089,131.0 1090,132.4 1091,132.7 1092,132.4 1093,132.9 1094,132.4 1095,132.3 1096,132.1 1097,132.9 1098,133.4 1099,132.5 1100,132.0 1101,132.8 1102,132.9 1103,132.8 1104,131.7 1105,132.3 1106,132.4 1107,132.2 1108,132.5 1109,132.3 1110,132.5 1111,132.3 1112,132.2 1113,133.2 1114,132.5 1115,132.7 1116,132.9 1117,132.0 1118,132.1 1119,131.8 1120,132.1 1121,131.6 1122,132.5 1123,132.4 1124,131.7 1125,132.4 1126,131.8 1127,131.4 1128,132.2 1129,132.3 1130,131.9 1131,132.6 1132,132.6 1133,132.5 1134,132.9 1135,132.6 1136,133.1 1137,132.7 1138,132.6 1139,130.9 1140,131.7 1141,133.1 1142,132.2 1143,132.2 1144,132.0 1145,131.3 1146,132.3 1147,133.3 1148,133.5 1149,132.5 1150,131.9 1151,131.9 1152,132.4 1153,132.1 1154,132.7 1155,132.6 1156,131.7 1157,131.5 1158,132.5 1159,132.8 1160,132.5 1161,133.1 1162,132.5 1163,132.2 1164,132.3 1165,132.6 1166,131.2 1167,132.0 1168,132.3 1169,131.9 1170,131.7 1171,132.8 1172,132.2 1173,132.1 1174,132.7 1175,131.8 1176,133.4 1177,132.3 1178,131.9 1179,131.4 1180,131.7 1181,131.6 1182,131.8 1183,131.6 1184,130.8 1185,132.5 1186,132.7 1187,132.8 1188,132.7 1189,132.7 1190,132.1 1191,133.7 1192,132.4 1193,131.7 1194,133.2 1195,132.3 1196,132.3 1197,131.8 1198,132.0 1199,132.5 1200,132.5 1201,131.7 1202,132.5 1203,131.9 1204,131.4 1205,132.5 1206,132.5 1207,132.2 1208,131.9 1209,132.6 1210,132.2 1211,131.9 1212,132.5 1213,132.5 1214,131.7 1215,132.8 1216,131.6 1217,131.6 1218,132.3 1219,132.2 1220,132.7 1221,132.7 1222,131.2 1223,132.6 1224,132.1 1225,132.2 1226,131.9 1227,131.6 1228,132.4 1229,132.6 1230,132.5 1231,132.0 1232,133.0 1233,132.7 1234,132.7 1235,132.5 1236,132.5 1237,133.0 1238,133.0 1239,133.1 1240,132.6 1241,132.5 1242,131.7 1243,132.0 1244,131.9 1245,131.7 1246,132.1 1247,132.3 1248,131.9 1249,131.3 1250,131.9 1251,132.2 1252,132.4 1253,131.9 1254,131.5 1255,131.1 1256,131.9 1257,131.9 1258,132.5 1259,131.6 1260,132.8 1261,132.3 1262,132.2 1263,132.3 1264,132.7 1265,132.8 1266,131.5 1267,131.7 1268,132.4 1269,132.6 1270,132.5 1271,131.9 1272,132.4 1273,132.2 1274,132.3 1275,132.9 1276,132.4 1277,132.6 1278,133.1 1279,133.1 1280,131.9 1281,131.6 1282,131.0 1283,132.5 1284,132.2 1285,132.0 1286,132.1 1287,131.6 1288,132.4 1289,131.8 1290,132.6 1291,132.5 1292,132.3 1293,132.6 1294,132.2"/>
<path class="tr" d="M930,133.1 931,133.8 932,134.2 933,133.7 934,134.0 935,132.6 936,133.0 937,133.1 938,132.9 939,133.3 940,134.2 941,133.7 942,133.9 943,134.1 944,134.1 945,133.5 946,132.9 947,133.7 948,133.8 949,133.1 950,134.0 951,133.0 952,132.5 953,132.9 954,132.4 955,132.9 956,133.0 957,132.8 958,133.1 959,132.5 960,131.8 961,133.2 962,133.6 963,133.7 964,133.1 965,133.4 966,133.1 967,133.7 968,132.7 969,133.2 970,132.9 971,133.5 972,133.3 973,132.3 974,132.7 975,132.5 976,133.2 977,133.6 978,132.7 979,133.2 980,132.7 981,132.7 982,133.1 983,133.8 984,133.6 985,133.6 986,133.0 987,133.1 988,133.4 989,133.3 990,133.3 991,133.4 992,134.1 993,134.1 994,134.2 995,133.7 996,132.9 997,132.5 998,133.0 999,132.6 1000,132.0 1001,132.7 1002,134.2 1003,133.5 1004,133.3 1005,133.2 1006,133.3 1007,132.5 1008,133.1 1009,133.6 1010,133.4 1011,133.4 1012,133.3 1013,133.6 1014,132.7 1015,132.0 1016,132.6 1017,133.0 1018,133.4 1019,132.9 1020,133.2 1021,133.2 1022,133.5 1023,133.0 1024,133.5 1025,133.6 1026,133.2 1027,133.1 1028,132.9 1029,132.7 1030,132.7 1031,132.5 1032,133.3 1033,133.4 1034,133.2 1035,133.2 1036,133.2 1037,134.0 1038,133.9 1039,133.2 1040,133.5 1041,132.4 1042,132.7 1043,132.6 1044,133.2 1045,132.9 1046,132.7 1047,132.6 1048,132.3 1049,132.2 1050,132.4 1051,133.1 1052,133.3 1053,133.6 1054,134.1 1055,133.9 1056,132.5 1057,132.6 1058,133.8 1059,133.4 1060,133.4 1061,133.3 1062,132.5 1063,133.2 1064,133.1 1065,132.6 1066,133.2 1067,134.0 1068,133.3 1069,132.5 1070,132.9 1071,132.6 1072,131.7 1073,132.5 1074,133.1 1075,132.7 1076,132.9 1077,133.0 1078,132.9 1079,132.9 1080,132.9 1081,132.9 1082,133.0 1083,133.4 1084,132.9 1085,132.7 1086,133.2 1087,132.8 1088,134.1 1089,133.3 1090,134.2 1091,133.6 1092,133.4 1093,133.7 1094,133.5 1095,133.2 1096,133.0 1097,132.6 1098,132.5 1099,133.4 1100,132.0 1101,133.7 1102,133.8 1103,133.2 1104,134.0 1105,134.4 1106,134.1 1107,132.2 1108,131.8 1109,133.1 1110,132.5 1111,133.1 1112,132.9 1113,133.3 1114,133.0 1115,133.1 1116,132.2 1117,132.8 1118,132.6 1119,133.5 1120,132.9 1121,133.3 1122,133.4 1123,133.1 1124,132.7 1125,133.0 1126,133.0 1127,133.5 1128,132.7 1129,132.4 1130,133.2 1131,133.3 1132,133.7 1133,134.0 1134,132.4 1135,133.0 1136,133.1 1137,133.1 1138,133.6 1139,134.2 1140,133.3 1141,133.1 1142,133.4 1143,133.6 1144,133.2 1145,133.5 1146,133.9 1147,133.1 1148,133.7 1149,132.9 1150,133.7 1151,132.8 1152,132.5 1153,132.2 1154,132.6 1155,132.9 1156,132.9 1157,132.8 1158,132.9 1159,132.7 1160,132.8 1161,133.0 1162,132.8 1163,133.0 1164,132.5 1165,132.2 1166,133.2 1167,132.7 1168,133.0 1169,132.5 1170,132.1 1171,132.1 1172,132.3 1173,133.5 1174,132.8 1175,133.1 1176,132.8 1177,133.0 1178,132.4 1179,133.4 1180,133.2 1181,132.9 1182,133.4 1183,132.4 1184,132.5 1185,133.0 1186,133.8 1187,133.0 1188,134.0 1189,133.9 1190,132.8 1191,133.2 1192,133.7 1193,132.7 1194,133.7 1195,132.4 1196,133.6 1197,133.8 1198,134.1 1199,133.8 1200,133.4 1201,132.3 1202,133.7 1203,133.6 1204,133.7 1205,132.9 1206,131.9 1207,133.0 1208,132.6 1209,132.9 1210,133.3 1211,132.5 1212,133.1 1213,132.7 1214,132.6 1215,133.3 1216,132.4 1217,132.6 1218,132.8 1219,133.5 1220,133.1 1221,133.4 1222,132.6 1223,132.1 1224,132.7 1225,133.7 1226,133.5 1227,133.0 1228,132.7 1229,133.6 1230,133.6 1231,132.5 1232,131.9 1233,133.7 1234,133.3 1235,133.1 1236,133.3 1237,133.1 1238,133.0 1239,133.0 1240,132.0 1241,132.6 1242,132.7 1243,133.5 1244,133.7 1245,133.0 1246,133.0 1247,133.1 1248,134.1 1249,133.9 1250,133.0 1251,133.8 1252,132.8 1253,133.6 1254,133.3 1255,132.5 1256,132.7 1257,132.8 1258,133.5 1259,133.9 1260,132.4 1261,132.6 1262,133.5 1263,133.4 1264,133.4 1265,133.5 1266,133.6 1267,133.9 1268,133.1 1269,131.9 1270,133.0 1271,132.7 1272,132.1 1273,132.8 1274,132.6 1275,132.9 1276,131.9 1277,133.0 1278,133.0 1279,133.1 1280,132.7 1281,132.5 1282,133.4 1283,133.5 1284,133.0 1285,132.4 1286,133.1 1287,132.8 1288,133.4 1289,132.8 1290,133.1 1291,133.2 1292,132.8 1293,133.2 1294,132.4"/>
<path class="tr" d="M930,134.0 931,133.7 932,133.6 933,133.7 934,133.7 935,133.5 936,133.9 937,133.6 938,133.6 939,133.9 940,133.8 941,133.4 942,134.2 943,135.0 944,133.9 945,134.3 946,133.7 947,133.7 948,133.3 949,133.4 950,133.4 951,133.7 952,133.7 953,134.9 954,133.8 955,134.2 956,134.4 957,133.1 958,132.8 959,134.0 960,133.3 961,133.6 962,132.4 963,132.9 964,133.5 965,134.3 966,135.1 967,133.9 968,134.7 969,134.1 970,133.9 971,133.8 972,133.8 973,133.1 974,133.6 975,133.3 976,133.9 977,135.3 978,133.7 979,134.7 980,133.6 981,133.6 982,134.4 983,134.3 984,134.6 985,134.8 986,134.1 987,133.7 988,134.2 989,134.3 990,134.9 991,133.1 992,134.2 993,134.3 994,133.9 995,133.5 996,133.4 997,133.4 998,134.6 999,134.1 1000,133.9 1001,133.9 1002,134.2 1003,134.4 1004,134.1 1005,133.9 1006,133.5 1007,133.8 1008,133.8 1009,133.6 1010,133.7 1011,134.5 1012,134.5 1013,134.2 1014,134.6 1015,134.2 1016,134.6 1017,134.1 1018,134.7 1019,134.5 1020,133.9 1021,133.3 1022,133.8 1023,134.0 1024,133.4 1025,133.7 1026,133.5 1027,134.0 1028,133.3 1029,133.7 1030,134.9 1031,134.7 1032,134.2 1033,134.8 1034,134.0 1035,134.4 1036,134.2 1037,133.8 1038,134.2 1039,135.2 1040,133.9 1041,133.5 1042,134.7 1043,133.8 1044,133.8 1045,133.7 1046,133.5 1047,134.1 1048,133.5 1049,133.3 1050,133.6 1051,134.1 1052,134.7 1053,134.2 1054,134.5 1055,134.8 1056,134.4 1057,134.5 1058,134.0 1059,133.1 1060,134.1 1061,133.4 1062,134.1 1063,133.6 1064,133.2 1065,133.7 1066,133.2 1067,133.8 1068,133.8 1069,133.8 1070,134.7 1071,134.6 1072,134.0 1073,134.4 1074,134.3 1075,133.9 1076,133.2 1077,133.4 1078,134.8 1079,134.2 1080,134.3 1081,134.9 1082,133.9 1083,134.5 1084,132.8 1085,133.1 1086,132.6 1087,133.5 1088,133.8 1089,133.5 1090,133.5 1091,135.3 1092,134.6 1093,134.4 1094,133.6 1095,133.4 1096,133.9 1097,133.8 1098,133.8 1099,133.7 1100,133.0 1101,133.8 1102,134.0 1103,134.3 1104,134.4 1105,135.0 1106,134.1 1107,134.1 1108,134.7 1109,134.0 1110,134.5 1111,133.9 1112,133.7 1113,133.3 1114,133.7 1115,134.9 1116,135.2 1117,134.4 1118,134.3 1119,134.7 1120,133.6 1121,133.6 1122,133.8 1123,132.9 1124,133.2 1125,133.4 1126,133.6 1127,133.7 1128,132.7 1129,133.8 1130,133.6 1131,134.1 1132,134.3 1133,133.9 1134,134.9 1135,133.3 1136,133.7 1137,133.9 1138,134.7 1139,134.1 1140,134.3 1141,134.1 1142,135.0 1143,134.1 1144,133.5 1145,133.5 1146,134.0 1147,134.7 1148,132.9 1149,133.0 1150,134.4 1151,133.8 1152,133.5 1153,133.6 1154,133.4 1155,133.2 1156,133.7 1157,133.5 1158,134.7 1159,132.9 1160,133.9 1161,133.5 1162,134.7 1163,133.6 1164,134.1 1165,134.8 1166,134.5 1167,133.8 1168,133.8 1169,134.0 1170,134.7 1171,134.2 1172,134.3 1173,133.5 1174,133.8 1175,134.5 1176,134.0 1177,133.7 1178,133.7 1179,134.4 1180,134.3 1181,134.3 1182,133.6 1183,132.9 1184,134.2 1185,133.8 1186,134.3 1187,134.3 1188,133.7 1189,133.3 1190,134.2 1191,132.9 1192,132.4 1193,134.3 1194,133.6 1195,133.9 1196,134.5 1197,135.2 1198,133.8 1199,133.8 1200,134.3 1201,134.0 1202,133.5 1203,134.3 1204,133.1 1205,134.2 1206,134.0 1207,133.9 1208,133.6 1209,133.7 1210,134.4 1211,134.2 1212,134.6 1213,134.4 1214,133.9 1215,133.8 1216,133.9 1217,133.7 1218,134.6 1219,133.5 1220,134.7 1221,133.8 1222,133.4 1223,133.7 1224,133.2 1225,134.6 1226,135.0 1227,135.0 1228,135.1 1229,134.9 1230,133.3 1231,134.1 1232,133.6 1233,134.3 1234,133.9 1235,133.7 1236,133.4 1237,134.0 1238,134.5 1239,133.5 1240,134.0 1241,134.2 1242,133.9 1243,133.8 1244,134.5 1245,134.8 1246,134.6 1247,134.5 1248,134.5 1249,133.8 1250,133.8 1251,133.9 1252,133.4 1253,134.2 1254,135.0 1255,135.3 1256,134.2 1257,133.8 1258,133.4 1259,134.1 1260,133.9 1261,134.5 1262,133.5 1263,133.9 1264,133.6 1265,134.0 1266,133.8 1267,132.9 1268,134.0 1269,134.0 1270,134.0 1271,133.9 1272,133.4 1273,133.8 1274,134.3 1275,134.9 1276,134.3 1277,133.8 1278,134.5 1279,134.0 1280,133.8 1281,133.9 1282,134.2 1283,133.4 1284,133.8 1285,133.9 1286,133.7 1287,134.7 1288,133.3 1289,133.7 1290,134.0 1291,134.0 1292,134.7 1293,133.1 1294,133.5"/>
<path class="tr" d="M973 132V139.5"/>
<path class="tr" d="M1238 127.8V133"/>
<path class="tr" style="stroke-width:1.9" d="M127,422.8 128,423.4 129,423.6 130,423.0 131,420.8 132,423.2 133,422.7 134,421.3 135,421.8 136,423.2 137,424.8 138,423.5 139,424.1 140,420.8 141,422.1 142,423.3 143,422.3 144,422.8 145,424.6 146,423.5 147,422.2 148,423.4 149,423.3 150,423.6 151,424.0 152,421.7 153,424.4 154,423.8 155,423.5 156,423.6 157,421.4 158,422.7 159,421.4 160,422.7 161,423.5 162,424.8 163,424.6 164,426.5 165,425.4 166,425.4 167,425.2 168,425.0 169,423.0 170,422.0M171,413.4 172,414.9 173,414.8 174,414.4 175,415.6 176,418.4 177,417.2 178,415.8 179,415.9 180,418.0 181,417.4 182,420.7 183,419.9 184,417.6 185,417.5 186,416.4 187,417.4 188,415.4 189,416.1 190,415.5 191,416.8 192,417.3 193,418.7 194,416.9 195,419.4 196,419.5 197,416.0 198,419.5 199,418.4 200,417.6 201,417.6 202,418.5 203,418.0 204,417.3 205,418.1 206,414.3 207,420.4 208,422.8 209,418.6 210,418.2 211,418.9 212,420.4 213,423.6 214,418.6 215,415.6 216,419.4 217,419.3 218,419.1 219,419.5 220,415.8 221,418.9 222,418.4 223,420.5 224,420.4 225,419.5 226,418.9 227,423.6 228,421.3 229,422.9 230,425.0 231,422.6 232,421.5 233,417.3 234,421.4 235,421.7 236,419.2 237,417.9 238,420.8 239,421.1 240,423.6 241,420.2 242,420.7 243,421.3 244,422.4 245,419.7 246,418.2 247,420.1 248,424.8 249,419.5 250,421.0 251,421.5 252,421.8 253,422.8 254,419.5 255,418.5 256,419.9 257,418.1 258,418.6 259,418.6 260,418.7 261,420.5 262,420.1 263,419.3 264,419.8 265,421.2 266,422.1 267,423.1 268,421.2 269,422.8 270,421.9 271,417.9 272,420.6 273,418.5 274,421.5 275,420.4 276,421.5 277,420.9 278,418.5 279,416.9 280,419.4 281,416.9 282,418.4 283,419.1 284,418.4 285,419.5 286,422.7 287,419.6 288,419.1 289,416.9 290,414.0 291,417.6 292,419.1 293,419.6 294,419.3 295,418.7 296,419.4 297,419.2 298,417.8 299,417.5 300,421.0 301,420.2 302,420.4 303,419.9 304,420.3 305,419.4 306,421.4 307,422.0 308,423.7 309,422.5 310,422.2 311,422.3 312,421.0 313,421.6 314,422.7 315,422.1 316,418.8 317,420.4 318,421.8 319,418.7 320,420.7 321,420.7 322,420.8 323,422.5 324,423.6 325,423.2 326,422.1 327,420.2 328,422.2 329,420.1 330,419.2 331,420.4 332,420.4 333,421.4 334,421.7 335,424.2 336,420.3 337,419.7 338,418.8 339,421.4 340,421.7 341,418.8 342,421.7 343,419.1 344,421.4 345,422.3 346,422.3 347,421.8 348,423.1 349,422.9 350,424.3 351,423.3 352,422.9 353,421.4 354,422.3 355,422.3 356,422.1 357,421.0 358,419.0 359,416.9 360,420.4 361,422.7 362,423.4 363,420.5 364,424.0 365,422.6 366,420.4 367,418.2 368,420.2 369,420.6 370,421.7 371,419.5 372,420.3 373,422.7 374,423.5 375,422.3 376,420.9 377,420.3 378,420.9 379,421.4 380,421.3 381,419.2 382,418.1 383,420.2 384,420.8 385,421.4 386,423.2 387,421.3 388,422.7 389,422.3 390,424.1 391,422.4 392,421.7 393,420.1 394,420.5 395,420.8 396,423.5 397,423.0 398,421.4 399,421.1 400,420.3 401,419.7 402,423.0 403,422.8 404,424.2 405,425.0 406,420.4 407,422.0 408,420.5 409,421.5 410,417.1 411,420.2 412,419.2 413,421.5 414,422.1 415,422.3 416,422.1 417,422.3 418,422.6 419,420.7 420,421.2 421,420.1 422,421.3 423,422.4 424,423.3 425,423.3 426,423.5 427,420.8 428,421.7 429,420.0 430,420.1 431,420.4 432,418.2 433,422.5 434,419.8 435,418.1M436,421.5 437,423.3 438,421.7 439,422.6 440,423.5 441,421.7 442,421.4 443,422.4 444,423.4 445,423.8 446,423.8 447,423.2 448,424.2 449,422.0 450,422.4 451,422.8 452,423.9 453,423.3 454,423.4 455,423.3 456,421.9 457,421.6 458,422.5 459,422.7 460,421.6 461,422.3 462,423.9 463,422.6 464,423.2 465,422.5 466,422.8 467,422.6 468,422.7 469,422.9 470,423.3 471,423.6 472,423.2 473,423.2 474,422.7 475,424.4 476,424.6 477,423.3 478,422.3 479,422.8 480,421.8 481,422.8 482,422.2 483,422.5 484,422.8 485,420.4 486,423.2 487,422.4 488,424.6 489,423.9 490,422.6 491,422.5"/>
<path class="tr" style="stroke-width:1.9" d="M127,422.8 128,424.0 129,423.3 130,422.3 131,423.2 132,420.3 133,423.3 134,425.8 135,421.0 136,421.9 137,421.6 138,419.0 139,421.5 140,422.7 141,423.3 142,423.7 143,421.8 144,422.3 145,423.2 146,425.8 147,424.3 148,424.1 149,424.5 150,427.2 151,421.3 152,424.4 153,423.6 154,421.0 155,422.1 156,421.1 157,423.8 158,424.5 159,423.2 160,424.5 161,423.1 162,422.9 163,423.4 164,424.9 165,423.2 166,423.3 167,423.4 168,424.3 169,422.1 170,420.7M171,416.0 172,416.8 173,416.1 174,415.2 175,418.6 176,421.7 177,420.2 178,416.0 179,420.9 180,418.8 181,416.7 182,419.8 183,420.7 184,421.6 185,420.2 186,420.8 187,418.6 188,418.6 189,417.9 190,422.2 191,422.5 192,422.4 193,420.2 194,421.1 195,420.4 196,420.1 197,419.4 198,421.8 199,421.8 200,416.9 201,418.2 202,418.9 203,418.9 204,418.1 205,417.4 206,419.9 207,418.1 208,420.6 209,420.9 210,421.6 211,423.4 212,419.4 213,418.7 214,421.0 215,421.3 216,421.3 217,419.4 218,419.9 219,422.6 220,420.7 221,420.5 222,420.1 223,419.6 224,417.1 225,420.8 226,416.9 227,418.8 228,420.9 229,421.4 230,419.6 231,417.9 232,418.2 233,416.4 234,417.2 235,419.1 236,421.0 237,423.4 238,423.1 239,421.7 240,425.1 241,423.4 242,423.6 243,422.3 244,419.0 245,421.3 246,425.2 247,424.0 248,422.9 249,418.4 250,422.4 251,422.1 252,421.5 253,423.1 254,421.3 255,421.0 256,421.3 257,420.9 258,422.7 259,422.1 260,420.9 261,421.3 262,422.8 263,421.7 264,421.8 265,422.4 266,422.9 267,419.2 268,419.5 269,423.1 270,423.5 271,426.4 272,422.9 273,420.6 274,423.7 275,423.8 276,422.7 277,422.9 278,425.4 279,421.6 280,421.9 281,422.3 282,420.4 283,419.6 284,419.4 285,420.2 286,419.4 287,422.9 288,420.7 289,419.9 290,418.6 291,419.6 292,419.4 293,419.2 294,419.1 295,421.2 296,424.0 297,418.0 298,422.0 299,422.4 300,423.2 301,425.0 302,423.3 303,419.2 304,420.3 305,418.3 306,418.9 307,418.8 308,421.1 309,418.2 310,420.0 311,422.8 312,420.3 313,420.2 314,420.4 315,423.0 316,421.9 317,421.6 318,423.4 319,421.0 320,418.5 321,421.2 322,419.7 323,421.1 324,423.9 325,420.7 326,421.8 327,422.2 328,418.0 329,420.7 330,418.5 331,422.7 332,422.7 333,422.2 334,422.4 335,422.9 336,420.9 337,421.4 338,421.0 339,422.2 340,424.4 341,420.7 342,421.8 343,422.6 344,423.4 345,422.7 346,421.5 347,422.1 348,422.0 349,422.9 350,423.0 351,421.1 352,420.4 353,419.7 354,419.7 355,419.9 356,421.8 357,422.4 358,419.4 359,418.9 360,420.3 361,421.6 362,420.2 363,420.2 364,421.2 365,421.0 366,419.7 367,418.8 368,420.1 369,423.3 370,419.1 371,422.3 372,421.6 373,424.6 374,421.5 375,419.9 376,419.9 377,420.9 378,421.2 379,420.7 380,420.2 381,421.8 382,420.6 383,422.6 384,419.8 385,419.9 386,421.1 387,420.9 388,422.1 389,418.2 390,420.4 391,420.2 392,417.1 393,420.9 394,420.0 395,419.5 396,419.8 397,421.7 398,421.2 399,424.2 400,425.1 401,423.0 402,422.5 403,423.5 404,419.0 405,418.2 406,423.2 407,420.8 408,426.8 409,425.1 410,419.1 411,424.7 412,423.1 413,422.5 414,421.8 415,420.4 416,422.6 417,422.8 418,420.6 419,422.2 420,423.6 421,422.2 422,421.5 423,422.0 424,420.1 425,420.4 426,419.4 427,422.9 428,424.0 429,422.4 430,421.1 431,423.5 432,425.0 433,423.9 434,422.8 435,422.5M436,422.3 437,422.7 438,423.4 439,422.1 440,423.2 441,423.2 442,424.3 443,423.8 444,423.5 445,423.9 446,422.3 447,423.6 448,424.1 449,422.8 450,423.0 451,424.4 452,422.9 453,422.0 454,423.0 455,423.9 456,424.7 457,423.4 458,423.5 459,423.6 460,422.6 461,422.9 462,423.5 463,423.4 464,423.7 465,423.8 466,422.7 467,424.1 468,423.5 469,424.1 470,423.9 471,424.6 472,424.8 473,423.3 474,423.2 475,423.3 476,424.0 477,425.7 478,424.0 479,423.7 480,424.6 481,423.2 482,424.0 483,424.1 484,425.0 485,425.6 486,425.9 487,424.4 488,425.0 489,425.1 490,424.2 491,426.0"/>
<path class="tr" style="stroke-width:1.9" d="M127,422.8 128,423.8 129,425.5 130,424.8 131,421.8 132,422.4 133,423.4 134,422.1 135,422.4 136,422.4 137,421.2 138,421.6 139,423.8 140,423.4 141,424.5 142,424.2 143,422.0 144,422.0 145,425.0 146,423.8 147,422.7 148,421.4 149,422.4 150,421.9 151,422.7 152,423.3 153,424.8 154,422.8 155,425.5 156,423.8 157,423.2 158,421.2 159,423.3 160,425.1 161,423.5 162,424.4 163,421.9 164,421.3 165,423.1 166,423.8 167,422.3 168,421.2 169,420.8 170,422.6M171,419.2 172,420.3 173,420.1 174,414.7 175,415.7 176,419.0 177,419.0 178,419.9 179,421.6 180,422.5 181,418.6 182,421.4 183,420.6 184,419.2 185,420.9 186,419.5 187,418.4 188,423.5 189,421.2 190,417.7 191,416.0 192,421.3 193,419.2 194,420.9 195,419.0 196,421.4 197,423.4 198,421.3 199,422.3 200,422.5 201,422.6 202,421.7 203,420.5 204,417.2 205,418.6 206,419.6 207,419.7 208,422.2 209,420.8 210,425.1 211,422.9 212,419.8 213,420.8 214,421.2 215,422.5 216,424.0 217,419.5 218,421.8 219,420.7 220,422.8 221,420.9 222,421.1 223,420.7 224,420.5 225,423.2 226,423.5 227,421.5 228,423.5 229,422.7 230,424.2 231,423.0 232,423.3 233,421.3 234,423.2 235,421.4 236,423.5 237,421.9 238,420.5 239,421.4 240,422.1 241,419.4 242,421.8 243,423.6 244,419.6 245,419.6 246,422.0 247,421.8 248,420.5 249,422.4 250,418.6 251,422.1 252,421.9 253,426.3 254,423.3 255,422.5 256,421.8 257,421.1 258,423.5 259,423.7 260,422.0 261,423.5 262,425.7 263,426.8 264,423.2 265,424.7 266,423.8 267,421.5 268,420.2 269,423.4 270,424.0 271,422.8 272,424.8 273,423.3 274,426.0 275,424.3 276,420.4 277,422.4 278,420.9 279,423.4 280,421.9 281,424.1 282,426.7 283,421.5 284,422.4 285,421.1 286,418.3 287,420.1 288,421.3 289,420.3 290,419.0 291,420.3 292,422.1 293,421.4 294,423.0 295,423.7 296,423.0 297,422.2 298,421.6 299,424.2 300,420.5 301,422.0 302,424.7 303,422.0 304,424.8 305,421.6 306,421.6 307,420.9 308,422.1 309,422.5 310,419.5 311,424.4 312,426.7 313,425.4 314,422.8 315,424.6 316,421.9 317,421.8 318,422.0 319,423.7 320,421.6 321,420.6 322,422.9 323,420.4 324,422.9 325,422.8 326,422.1 327,421.4 328,423.1 329,422.0 330,423.6 331,422.1 332,422.8 333,424.5 334,420.2 335,420.9 336,420.8 337,423.1 338,420.6 339,422.2 340,421.7 341,422.6 342,422.3 343,419.9 344,423.8 345,420.6 346,420.8 347,423.2 348,421.0 349,422.7 350,421.4 351,421.9 352,418.8 353,422.7 354,420.8 355,422.0 356,422.6 357,421.8 358,424.3 359,425.1 360,423.9 361,425.5 362,423.6 363,423.1 364,423.8 365,422.6 366,421.4 367,420.6 368,421.0 369,422.8 370,424.8 371,424.6 372,422.3 373,423.7 374,422.7 375,423.4 376,424.6 377,421.9 378,421.4 379,424.6 380,422.6 381,422.7 382,424.1 383,421.9 384,423.1 385,421.9 386,422.2 387,423.8 388,422.8 389,422.6 390,422.8 391,422.3 392,421.9 393,423.2 394,420.9 395,424.3 396,426.6 397,426.1 398,426.1 399,425.4 400,423.9 401,421.7 402,421.6 403,421.9 404,421.4 405,420.1 406,422.5 407,421.6 408,419.1 409,423.0 410,422.4 411,422.0 412,421.8 413,423.2 414,425.9 415,424.6 416,423.0 417,422.6 418,422.7 419,422.6 420,423.2 421,422.7 422,419.3 423,421.7 424,421.6 425,421.1 426,422.1 427,420.9 428,421.2 429,422.0 430,421.1 431,421.5 432,422.9 433,421.0 434,423.6 435,422.7M436,413.2 437,414.0 438,413.4 439,413.8 440,413.7 441,413.6 442,414.9 443,414.6 444,414.8 445,413.7 446,414.6 447,415.3 448,414.2 449,415.7 450,415.3 451,414.8 452,415.5 453,413.8 454,415.3 455,413.8 456,416.0 457,416.5 458,415.3 459,415.6 460,418.1 461,415.4 462,416.7 463,415.8 464,416.2 465,416.6 466,416.4 467,416.4 468,416.5 469,417.0 470,415.7 471,416.1 472,417.0 473,416.3 474,415.7 475,415.5 476,415.6 477,416.2 478,415.8 479,416.7 480,416.9 481,416.5 482,418.1 483,416.2 484,417.7 485,417.3 486,416.7 487,416.8 488,416.9 489,418.1 490,416.0 491,417.6"/>
<path class="tr" style="stroke-width:1.9" d="M127,422.8 128,422.6 129,421.0 130,421.4 131,422.2 132,423.6 133,422.0 134,422.7 135,421.2 136,421.8 137,423.4 138,421.1 139,425.4 140,426.4 141,422.0 142,426.8 143,424.8 144,423.8 145,424.1 146,425.1 147,423.8 148,424.5 149,422.5 150,425.6 151,422.8 152,421.2 153,422.4 154,421.3 155,424.0 156,424.7 157,421.7 158,422.0 159,422.2 160,422.7 161,422.5 162,423.4 163,421.3 164,423.2 165,425.8 166,422.6 167,421.8 168,420.7 169,419.3 170,420.9M171,423.4 172,422.6 173,422.9 174,422.7 175,423.8 176,424.1 177,421.5 178,424.6 179,424.3 180,423.5 181,423.3 182,422.3 183,425.8 184,422.7 185,423.2 186,423.7 187,424.3 188,424.7 189,425.0 190,424.6 191,423.6 192,425.3 193,422.3 194,421.5 195,417.4 196,424.0 197,423.7 198,420.9 199,421.3 200,422.0 201,420.2 202,422.5 203,423.6 204,423.1 205,423.0 206,422.1 207,422.1 208,422.5 209,423.6 210,424.2 211,425.9 212,424.0 213,424.8 214,427.2 215,427.0 216,426.2 217,424.4 218,419.2 219,422.6 220,424.6 221,423.3 222,423.3 223,424.7 224,423.8 225,421.7 226,423.3 227,422.8 228,425.1 229,425.1 230,424.4 231,422.7 232,423.5 233,424.5 234,424.1 235,422.0 236,422.9 237,424.5 238,423.5 239,422.3 240,421.8 241,423.1 242,420.5 243,421.5 244,421.4 245,422.8 246,420.6 247,422.8 248,419.4 249,416.6 250,419.5 251,420.9 252,420.9 253,420.7 254,423.3 255,425.1 256,420.3 257,423.2 258,424.6 259,423.8 260,426.0 261,426.2 262,423.4 263,427.2 264,426.6 265,421.6 266,421.8 267,421.2 268,420.5 269,423.5 270,423.9 271,420.6 272,419.1 273,421.9 274,422.9 275,424.3 276,424.7 277,425.2 278,424.7 279,421.6 280,424.2 281,422.5 282,426.0 283,425.1 284,425.2 285,423.9 286,424.1 287,421.9 288,418.4 289,420.7 290,422.1 291,422.5 292,421.8 293,422.9 294,420.8 295,419.2 296,422.6 297,421.8 298,421.4 299,421.7 300,424.3 301,423.2 302,422.7 303,421.1 304,421.7 305,423.5 306,420.5 307,421.3 308,421.4 309,419.8 310,420.7 311,420.1 312,423.0 313,425.2 314,426.8 315,422.7 316,423.2 317,423.8 318,422.5 319,423.0 320,424.2 321,423.3 322,420.9 323,422.3 324,423.1 325,422.2 326,424.8 327,423.4 328,425.7 329,422.5 330,423.2 331,423.0 332,423.5 333,422.1 334,421.0 335,421.3 336,424.0 337,424.4 338,425.2 339,421.8 340,424.9 341,423.6 342,422.0 343,421.7 344,423.2 345,423.2 346,421.5 347,422.6 348,423.7 349,423.9 350,422.4 351,423.1 352,424.7 353,422.9 354,423.1 355,421.2 356,421.4 357,421.5 358,422.3 359,421.8 360,421.5 361,420.4 362,421.2 363,420.6 364,421.6 365,425.0 366,425.2 367,424.0 368,423.5 369,424.9 370,424.2 371,424.3 372,422.1 373,425.3 374,424.4 375,423.1 376,422.4 377,424.6 378,422.4 379,422.8 380,423.3 381,422.9 382,421.7 383,420.8 384,424.0 385,424.7 386,421.7 387,421.5 388,420.9 389,422.1 390,426.1 391,424.4 392,424.8 393,424.4 394,426.1 395,422.7 396,421.8 397,424.1 398,423.8 399,420.8 400,420.9 401,420.5 402,423.7 403,422.6 404,421.9 405,422.2 406,421.7 407,423.9 408,423.4 409,423.0 410,421.4 411,420.3 412,419.9 413,423.5 414,419.3 415,420.2 416,421.2 417,420.3 418,423.1 419,422.3 420,420.4 421,419.8 422,422.1 423,422.8 424,422.0 425,421.1 426,423.5 427,422.2 428,421.1 429,421.8 430,423.4 431,421.7 432,422.2 433,424.8 434,420.7 435,423.7M436,425.1 437,424.1 438,423.7 439,424.3 440,424.2 441,423.7 442,423.6 443,423.9 444,424.6 445,424.4 446,424.2 447,424.6 448,424.4 449,425.6 450,424.7 451,424.2 452,425.3 453,425.8 454,425.8 455,426.2 456,425.2 457,426.0 458,425.6 459,426.2 460,425.8 461,425.9 462,423.9 463,424.9 464,424.3 465,425.5 466,424.2 467,424.1 468,424.4 469,425.1 470,426.5 471,425.1 472,425.0 473,424.3 474,425.5 475,424.7 476,424.0 477,424.7 478,424.9 479,424.9 480,423.9 481,424.2 482,425.0 483,424.5 484,425.7 485,425.8 486,425.6 487,425.9 488,425.9 489,425.4 490,424.7 491,425.2"/>
<path class="tr" style="stroke-width:1.9" d="M127,422.8 128,418.4 129,420.4 130,420.4 131,422.0 132,424.0 133,422.0 134,423.0 135,425.3 136,421.7 137,422.6 138,422.5 139,422.0 140,423.2 141,424.1 142,426.6 143,424.5 144,425.5 145,424.1 146,426.4 147,424.7 148,425.0 149,424.5 150,424.3 151,422.6 152,421.5 153,420.0 154,423.6 155,423.8 156,422.3 157,421.3 158,423.6 159,425.8 160,421.9 161,419.8 162,422.9 163,420.5 164,422.3 165,422.1 166,420.9 167,420.9 168,423.5 169,423.2 170,425.3M171,470.9 172,457.8 173,449.8 174,443.4 175,439.3 176,434.6 177,429.5 178,428.3 179,428.1 180,427.7 181,428.2 182,425.6 183,425.7 184,421.8 185,425.7 186,426.2 187,426.9 188,426.1 189,423.4 190,428.3 191,428.7 192,429.2 193,430.4 194,428.4 195,427.5 196,430.6 197,430.1 198,428.3 199,425.7 200,428.1 201,428.3 202,426.6 203,427.7 204,424.3 205,427.5 206,427.1 207,428.1 208,426.5 209,425.1 210,427.5 211,428.2 212,427.1 213,426.6 214,427.7 215,425.5 216,427.8 217,427.6 218,426.0 219,430.2 220,427.0 221,428.2 222,427.7 223,425.8 224,423.4 225,421.4 226,426.1 227,424.3 228,427.6 229,425.9 230,427.8 231,428.6 232,424.0 233,425.1 234,424.6 235,427.5 236,426.6 237,426.1 238,426.0 239,426.0 240,423.2 241,425.1 242,420.7 243,426.2 244,426.5 245,425.6 246,425.2 247,426.3 248,427.2 249,427.8 250,425.2 251,427.6 252,425.6 253,425.4 254,427.0 255,424.6 256,426.3 257,424.8 258,423.9 259,426.6 260,425.2 261,425.1 262,423.6 263,424.7 264,426.5 265,424.0 266,425.5 267,426.0 268,429.5 269,425.6 270,428.7 271,426.5 272,426.9 273,425.4 274,428.3 275,426.6 276,428.3 277,425.5 278,426.2 279,426.9 280,424.8 281,426.2 282,426.5 283,426.0 284,427.5 285,426.8 286,427.8 287,426.3 288,426.2 289,423.6 290,425.5 291,424.0 292,424.1 293,426.2 294,425.4 295,424.8 296,423.5 297,427.2 298,428.1 299,427.0 300,426.6 301,427.3 302,426.6 303,424.9 304,425.0 305,422.0 306,425.4 307,424.1 308,424.3 309,425.0 310,424.7 311,425.3 312,426.1 313,423.4 314,422.5 315,427.5 316,422.1 317,425.2 318,425.4 319,426.9 320,424.9 321,425.5 322,424.5 323,425.9 324,425.7 325,424.4 326,425.2 327,425.7 328,428.4 329,428.6 330,426.9 331,423.6 332,427.1 333,425.4 334,423.4 335,424.9 336,424.1 337,427.2 338,427.4 339,430.6 340,427.8 341,428.7 342,425.7 343,425.3 344,424.2 345,425.6 346,425.6 347,426.6 348,430.4 349,428.3 350,428.8 351,426.5 352,425.5 353,428.3 354,424.8 355,427.2 356,424.8 357,427.8 358,428.7 359,430.2 360,427.9 361,426.9 362,425.1 363,426.3 364,427.0 365,425.6 366,427.3 367,425.6 368,425.5 369,427.3 370,427.5 371,426.0 372,425.5 373,426.7 374,424.7 375,423.9 376,424.1 377,426.3 378,425.1 379,425.0 380,426.5 381,424.6 382,424.7 383,426.4 384,424.8 385,427.0 386,429.0 387,425.3 388,422.8 389,428.3 390,426.3 391,426.9 392,426.0 393,425.2 394,425.3 395,425.5 396,428.4 397,427.0 398,425.3 399,426.8 400,427.4 401,427.6 402,426.7 403,422.9 404,425.3 405,421.3 406,423.2 407,422.4 408,424.1 409,428.1 410,427.0 411,428.6 412,427.1 413,425.2 414,424.2 415,427.0 416,425.7 417,425.9 418,426.1 419,424.7 420,423.2 421,425.0 422,424.8 423,424.7 424,425.4 425,426.1 426,426.0 427,427.0 428,427.8 429,428.7 430,427.3 431,427.3 432,426.6 433,426.8 434,425.8 435,425.8M436,418.3 437,417.4 438,418.9 439,418.8 440,418.2 441,417.2 442,417.9 443,418.4 444,417.1 445,419.7 446,420.4 447,419.5 448,419.9 449,417.8 450,418.0 451,419.5 452,420.5 453,419.4 454,420.5 455,420.2 456,419.6 457,419.3 458,419.3 459,419.8 460,419.7 461,420.4 462,419.0 463,420.0 464,419.7 465,419.3 466,419.9 467,421.2 468,421.5 469,418.3 470,420.3 471,418.7 472,418.7 473,418.9 474,418.6 475,419.7 476,420.1 477,418.8 478,420.3 479,420.1 480,419.8 481,419.2 482,420.2 483,420.7 484,420.1 485,420.7 486,420.6 487,420.5 488,419.7 489,420.7 490,419.9 491,419.8"/>
<path class="tr" style="stroke-width:1.9" d="M127,422.8 128,420.0 129,421.8 130,423.2 131,423.4 132,421.2 133,421.4 134,423.3 135,421.1 136,422.5 137,423.2 138,422.4 139,420.7 140,422.4 141,419.9 142,421.0 143,420.3 144,421.7 145,421.0 146,421.9 147,421.6 148,424.5 149,424.6 150,425.6 151,425.1 152,423.7 153,422.9 154,420.7 155,420.4 156,421.2 157,419.3 158,422.2 159,419.8 160,421.4 161,420.9 162,422.4 163,422.7 164,420.1 165,423.0 166,426.3 167,423.2 168,423.4 169,423.0 170,425.0M171,599.2 172,571.3 173,548.8 174,528.0 175,509.0 176,492.7 177,477.2 178,466.4 179,460.3 180,454.7 181,450.6 182,448.0 183,445.4 184,444.5 185,442.7 186,440.9 187,439.0 188,437.9 189,435.2 190,434.6 191,436.1 192,433.0 193,432.9 194,434.6 195,434.0 196,432.9 197,432.1 198,431.7 199,433.8 200,431.7 201,431.5 202,431.4 203,430.2 204,429.2 205,431.6 206,433.5 207,432.4 208,432.7 209,430.4 210,430.6 211,429.6 212,428.9 213,431.8 214,427.5 215,431.1 216,432.2 217,428.8 218,428.3 219,430.3 220,426.8 221,430.4 222,430.5 223,433.2 224,430.7 225,428.0 226,428.9 227,427.8 228,428.7 229,425.9 230,429.1 231,427.1 232,426.4 233,429.2 234,429.1 235,430.2 236,431.6 237,429.8 238,432.4 239,436.0 240,434.8 241,432.1 242,433.7 243,433.9 244,431.5 245,429.8 246,430.3 247,431.3 248,429.2 249,426.4 250,428.3 251,430.4 252,428.6 253,429.4 254,431.7 255,430.2 256,430.4 257,428.9 258,428.5 259,429.9 260,427.3 261,430.1 262,427.3 263,430.8 264,426.2 265,427.6 266,427.0 267,427.6 268,430.8 269,429.5 270,434.0 271,428.8 272,426.1 273,431.3 274,430.2 275,431.4 276,430.8 277,430.4 278,429.7 279,430.5 280,429.8 281,430.8 282,429.4 283,433.1 284,429.2 285,428.9 286,431.2 287,430.7 288,429.5 289,426.9 290,426.8 291,426.8 292,428.3 293,431.2 294,426.0 295,428.7 296,430.9 297,431.1 298,430.2 299,432.3 300,432.7 301,432.1 302,431.1 303,430.1 304,431.3 305,429.1 306,428.3 307,432.1 308,429.4 309,430.9 310,429.6 311,430.8 312,428.8 313,432.3 314,431.4 315,431.6 316,433.0 317,430.5 318,432.8 319,429.9 320,430.9 321,431.1 322,430.2 323,431.8 324,432.2 325,429.4 326,431.5 327,432.5 328,432.1 329,431.5 330,432.1 331,429.7 332,429.0 333,430.9 334,429.2 335,431.4 336,425.5 337,426.7 338,426.1 339,427.9 340,431.0 341,427.3 342,429.6 343,430.8 344,427.3 345,431.9 346,428.4 347,428.8 348,428.4 349,429.7 350,426.9 351,428.6 352,430.5 353,427.9 354,427.5 355,428.7 356,429.1 357,426.4 358,427.9 359,428.2 360,430.5 361,430.6 362,429.7 363,426.1 364,427.9 365,429.7 366,430.0 367,428.7 368,427.1 369,432.0 370,429.6 371,429.4 372,429.6 373,430.4 374,428.4 375,429.9 376,429.3 377,430.6 378,429.5 379,430.0 380,424.4 381,427.9 382,428.8 383,428.9 384,429.8 385,429.9 386,429.4 387,430.1 388,426.3 389,426.0 390,431.8 391,428.6 392,429.1 393,430.7 394,430.3 395,429.6 396,426.1 397,427.0 398,430.0 399,429.7 400,431.9 401,429.9 402,427.9 403,428.0 404,425.8 405,430.1 406,428.3 407,431.7 408,431.8 409,431.8 410,429.8 411,430.9 412,430.5 413,433.5 414,431.1 415,430.2 416,429.0 417,428.2 418,428.6 419,429.7 420,431.1 421,430.0 422,431.1 423,428.0 424,429.0 425,433.2 426,432.6 427,427.7 428,432.8 429,430.3 430,428.0 431,429.8 432,430.4 433,429.7 434,429.5 435,431.5M436,420.3 437,421.0 438,422.8 439,420.8 440,419.8 441,421.3 442,420.6 443,419.9 444,422.2 445,422.5 446,421.4 447,421.5 448,420.2 449,421.3 450,420.6 451,421.3 452,422.3 453,421.8 454,420.8 455,420.9 456,422.6 457,422.3 458,422.9 459,421.9 460,421.1 461,422.4 462,420.4 463,421.0 464,420.1 465,421.1 466,420.9 467,421.6 468,422.2 469,421.7 470,420.0 471,421.5 472,423.6 473,423.6 474,423.7 475,422.8 476,422.7 477,423.0 478,422.8 479,421.2 480,421.6 481,422.5 482,422.6 483,422.4 484,421.6 485,421.3 486,422.2 487,422.0 488,422.5 489,423.8 490,423.4 491,423.1"/>
<path class="tr" style="stroke-width:1.9" d="M127,422.8 128,425.8 129,424.2 130,422.7 131,422.8 132,422.9 133,419.0 134,420.7 135,420.7 136,423.3 137,423.2 138,422.9 139,422.4 140,425.3 141,423.4 142,424.0 143,424.1 144,425.3 145,423.1 146,421.4 147,420.9 148,420.5 149,422.7 150,425.9 151,422.9 152,423.4 153,423.4 154,423.9 155,421.6 156,423.4 157,423.3 158,423.6 159,422.5 160,424.9 161,421.7 162,422.2 163,421.7 164,422.8 165,422.7 166,419.6 167,422.6 168,423.4 169,426.1 170,420.2M171,749.1 172,729.0 173,710.7 174,694.3 175,677.5 176,661.9 177,646.0 178,631.5 179,617.1 180,601.3 181,587.9 182,576.0 183,565.8 184,554.6 185,547.2 186,537.8 187,528.3 188,518.8 189,509.8 190,502.5 191,497.3 192,489.0 193,480.8 194,475.5 195,470.6 196,464.7 197,462.9 198,459.5 199,455.2 200,454.4 201,454.2 202,453.9 203,452.7 204,449.2 205,448.8 206,450.3 207,448.3 208,448.3 209,446.9 210,447.5 211,444.7 212,444.4 213,444.9 214,449.2 215,448.4 216,449.1 217,443.6 218,440.4 219,443.5 220,443.4 221,440.9 222,442.9 223,441.8 224,445.7 225,444.0 226,442.4 227,441.3 228,444.2 229,445.7 230,445.6 231,444.9 232,443.0 233,440.8 234,439.1 235,438.8 236,441.8 237,441.0 238,438.5 239,440.1 240,440.6 241,441.5 242,439.5 243,438.6 244,441.2 245,440.3 246,444.2 247,442.1 248,441.6 249,441.4 250,440.4 251,437.9 252,438.3 253,438.6 254,439.4 255,439.3 256,441.0 257,439.8 258,439.6 259,436.5 260,436.1 261,436.4 262,435.0 263,435.4 264,439.1 265,439.2 266,438.1 267,441.7 268,440.3 269,441.5 270,434.6 271,439.0 272,440.3 273,440.2 274,438.3 275,436.5 276,439.7 277,441.2 278,435.4 279,436.5 280,440.1 281,439.9 282,438.5 283,437.3 284,440.0 285,438.5 286,434.1 287,437.0 288,439.3 289,436.6 290,439.4 291,437.9 292,438.5 293,439.2 294,436.6 295,441.5 296,437.9 297,437.0 298,439.1 299,438.0 300,437.0 301,432.2 302,436.1 303,438.2 304,436.4 305,434.1 306,438.9 307,441.1 308,439.9 309,440.0 310,435.2 311,436.5 312,434.3 313,438.1 314,437.9 315,433.3 316,438.6 317,439.2 318,436.4 319,436.2 320,438.6 321,435.4 322,438.8 323,438.3 324,437.0 325,436.4 326,437.7 327,437.6 328,437.5 329,439.0 330,435.3 331,437.3 332,436.9 333,439.9 334,435.7 335,439.4 336,437.1 337,436.3 338,436.0 339,437.6 340,436.6 341,436.8 342,436.7 343,437.9 344,439.0 345,434.8 346,439.2 347,436.8 348,436.3 349,436.3 350,437.0 351,434.5 352,437.3 353,434.8 354,438.0 355,438.1 356,434.0 357,436.9 358,436.4 359,436.0 360,438.5 361,440.0 362,438.3 363,438.8 364,440.5 365,436.3 366,435.1 367,438.0 368,438.2 369,437.1 370,438.4 371,437.7 372,433.5 373,436.6 374,434.8 375,434.6 376,435.0 377,438.2 378,436.8 379,436.1 380,434.5 381,437.9 382,436.7 383,435.4 384,434.5 385,435.1 386,439.6 387,436.7 388,439.1 389,440.3 390,435.5 391,436.2 392,437.5 393,434.4 394,435.5 395,434.6 396,436.5 397,434.4 398,437.1 399,436.8 400,434.0 401,435.1 402,436.7 403,436.1 404,434.4 405,433.2 406,438.2 407,435.9 408,433.0 409,434.5 410,432.7 411,432.7 412,436.1 413,436.9 414,433.5 415,434.2 416,435.1 417,438.0 418,436.2 419,430.9 420,433.8 421,433.7 422,437.1 423,436.5 424,434.6 425,431.9 426,434.4 427,435.5 428,436.2 429,432.1 430,432.3 431,433.6 432,434.3 433,436.3 434,435.0 435,433.8M436,419.4 437,418.1 438,419.9 439,420.0 440,420.3 441,420.0 442,420.5 443,421.0 444,420.6 445,420.0 446,421.1 447,420.2 448,420.7 449,422.7 450,421.4 451,421.8 452,421.9 453,421.7 454,420.8 455,421.5 456,421.4 457,420.4 458,421.3 459,422.0 460,421.5 461,422.0 462,422.3 463,420.9 464,421.5 465,422.6 466,421.2 467,420.8 468,421.2 469,421.9 470,421.5 471,423.1 472,422.2 473,421.8 474,420.9 475,422.6 476,420.8 477,420.9 478,422.0 479,421.7 480,422.8 481,423.2 482,421.4 483,423.3 484,421.5 485,419.2 486,421.1 487,420.7 488,420.4 489,422.6 490,421.0 491,419.9"/>
<path class="tr" style="stroke-width:1.9" d="M127,422.8 128,427.2 129,426.5 130,428.7 131,421.0 132,426.6 133,424.7 134,423.9 135,425.4 136,425.7 137,427.0 138,421.3 139,418.4 140,423.5 141,421.8 142,419.8 143,418.4 144,420.1 145,415.5 146,418.7 147,418.7 148,423.9 149,425.5 150,422.7 151,417.3 152,419.5 153,418.3 154,422.4 155,419.4 156,420.5 157,418.1 158,426.3 159,422.8 160,420.5 161,421.7 162,422.4 163,422.2 164,422.1 165,421.5 166,423.5 167,426.1 168,420.9 169,421.9 170,426.0M171,763.9 172,753.4 173,740.1 174,726.8 175,717.5 176,706.4 177,695.0 178,685.5 179,669.6 180,658.2 181,644.0 182,633.3 183,622.8 184,616.1 185,602.3 186,588.3 187,585.7 188,578.2 189,570.7 190,561.9 191,554.7 192,542.1 193,533.5 194,529.0 195,520.5 196,515.4 197,507.8 198,503.7 199,503.7 200,493.6 201,496.9 202,492.8 203,500.7 204,497.7 205,498.3 206,498.9 207,488.8 208,492.9 209,491.8 210,492.7 211,490.7 212,492.0 213,486.3 214,487.1 215,484.7 216,487.2 217,481.6 218,482.1 219,482.5 220,486.8 221,479.9 222,481.4 223,476.1 224,482.9 225,480.3 226,479.2 227,479.5 228,482.3 229,479.1 230,479.8 231,478.4 232,482.6 233,483.8 234,481.0 235,481.6 236,485.6 237,480.1 238,481.2 239,480.2 240,482.7 241,477.9 242,481.1 243,483.6 244,475.9 245,480.8 246,475.8 247,473.8 248,472.7 249,474.2 250,476.7 251,472.7 252,473.4 253,475.7 254,477.6 255,476.4 256,471.8 257,471.5 258,471.6 259,478.4 260,471.9 261,478.2 262,472.1 263,469.0 264,465.4 265,467.5 266,464.7 267,469.5 268,466.7 269,473.6 270,469.9 271,470.4 272,463.3 273,465.4 274,469.4 275,469.1 276,474.7 277,466.8 278,466.4 279,476.1 280,473.9 281,470.4 282,472.1 283,471.0 284,472.3 285,470.1 286,473.8 287,473.4 288,472.5 289,472.6 290,470.5 291,471.0 292,469.4 293,466.9 294,467.4 295,471.0 296,466.5 297,467.8 298,474.1 299,473.1 300,467.2 301,465.1 302,469.0 303,458.9 304,468.8 305,465.8 306,461.1 307,461.5 308,459.8 309,464.7 310,461.2 311,460.2 312,465.2 313,462.7 314,465.2 315,466.2 316,465.2 317,469.5 318,466.6 319,469.5 320,461.9 321,465.8 322,464.0 323,464.3 324,465.9 325,465.2 326,463.7 327,467.9 328,462.5 329,466.2 330,458.1 331,461.3 332,461.3 333,460.2 334,460.8 335,460.1 336,459.5 337,460.9 338,464.8 339,461.6 340,460.2 341,457.1 342,456.9 343,460.6 344,464.7 345,463.4 346,466.6 347,460.2 348,457.6 349,463.4 350,454.4 351,457.5 352,455.7 353,462.7 354,461.6 355,457.7 356,462.1 357,462.2 358,461.2 359,458.3 360,457.1 361,457.8 362,458.7 363,455.8 364,453.6 365,449.4 366,458.3 367,456.3 368,459.9 369,462.2 370,458.9 371,458.6 372,458.0 373,457.5 374,454.0 375,463.2 376,463.0 377,464.0 378,458.6 379,461.8 380,464.7 381,461.6 382,457.5 383,455.5 384,458.7 385,465.0 386,461.1 387,459.4 388,457.9 389,458.0 390,463.3 391,462.5 392,463.4 393,461.3 394,457.1 395,458.9 396,456.6 397,458.7 398,455.2 399,456.9 400,457.9 401,462.2 402,456.2 403,462.6 404,463.3 405,457.9 406,454.6 407,456.6 408,460.3 409,455.4 410,457.7 411,455.5 412,454.6 413,455.8 414,453.1 415,450.0 416,454.0 417,457.0 418,454.2 419,452.4 420,452.9 421,450.9 422,458.7 423,458.0 424,456.9 425,451.0 426,456.8 427,455.7 428,450.5 429,447.5 430,455.4 431,454.4 432,450.4 433,450.1 434,450.7 435,448.6M436,425.1 437,426.7 438,425.6 439,425.3 440,425.4 441,426.9 442,426.1 443,427.8 444,427.2 445,427.7 446,427.3 447,425.1 448,427.6 449,427.9 450,427.9 451,426.9 452,429.0 453,426.9 454,429.5 455,426.2 456,427.3 457,426.2 458,427.3 459,426.0 460,426.6 461,427.6 462,427.7 463,427.4 464,427.9 465,426.5 466,426.3 467,427.7 468,429.7 469,425.8 470,428.9 471,428.3 472,427.6 473,427.3 474,427.7 475,426.5 476,427.8 477,426.8 478,426.1 479,426.4 480,426.1 481,426.7 482,428.1 483,428.8 484,429.3 485,428.2 486,428.8 487,427.5 488,427.6 489,426.5 490,427.4 491,426.4"/>
<path class="tr" style="stroke-width:1.9" d="M127,422.8 128,421.4 129,422.2 130,423.5 131,425.6 132,423.8 133,421.6 134,421.8 135,421.2 136,420.1 137,426.8 138,428.0 139,422.2 140,422.8 141,421.3 142,420.7 143,427.2 144,429.0 145,431.4 146,425.5 147,423.5 148,421.8 149,421.3 150,420.7 151,420.7 152,423.1 153,423.8 154,423.5 155,429.4 156,424.8 157,429.3 158,432.1 159,424.0 160,427.5 161,426.5 162,420.4 163,419.4 164,414.1 165,417.8 166,421.3 167,418.0 168,421.3 169,419.5 170,417.9M171,768.9 172,761.0 173,751.4 174,742.2 175,734.5 176,724.4 177,716.9 178,706.9 179,695.6 180,686.6 181,674.0 182,667.3 183,658.2 184,644.8 185,634.3 186,627.8 187,623.7 188,616.3 189,610.7 190,603.8 191,594.9 192,587.1 193,583.8 194,579.0 195,568.8 196,559.0 197,557.1 198,550.3 199,548.3 200,549.8 201,544.1 202,547.3 203,544.0 204,545.3 205,544.0 206,538.4 207,535.6 208,534.9 209,526.6 210,534.0 211,536.7 212,534.5 213,529.1 214,532.9 215,531.6 216,532.2 217,530.6 218,533.4 219,529.6 220,528.4 221,529.2 222,525.0 223,523.8 224,526.0 225,520.7 226,519.7 227,524.1 228,519.4 229,519.3 230,521.0 231,518.1 232,522.4 233,527.5 234,523.8 235,519.0 236,517.0 237,519.8 238,517.5 239,513.9 240,517.1 241,519.1 242,525.5 243,524.1 244,523.0 245,520.8 246,516.0 247,516.2 248,518.3 249,520.1 250,524.9 251,518.3 252,522.6 253,518.3 254,516.8 255,516.2 256,511.1 257,512.5 258,510.3 259,512.2 260,509.7 261,510.9 262,509.9 263,514.4 264,513.9 265,519.0 266,515.0 267,514.5 268,515.1 269,517.7 270,513.5 271,510.2 272,511.7 273,507.9 274,509.1 275,506.7 276,502.9 277,501.8 278,505.1 279,508.8 280,511.5 281,508.1 282,505.2 283,508.6 284,507.5 285,507.8 286,507.0 287,509.7 288,508.9 289,500.4 290,507.9 291,502.6 292,498.4 293,499.7 294,502.9 295,499.9 296,505.5 297,500.6 298,504.4 299,504.4 300,508.6 301,503.2 302,506.3 303,498.1 304,502.8 305,496.3 306,504.0 307,510.0 308,502.1 309,494.8 310,503.5 311,507.7 312,508.3 313,502.1 314,502.8 315,500.4 316,497.0 317,501.0 318,504.8 319,495.6 320,500.3 321,499.3 322,500.1 323,498.9 324,496.2 325,496.6 326,501.4 327,498.6 328,500.1 329,500.4 330,496.5 331,499.1 332,502.6 333,500.5 334,494.9 335,497.1 336,498.4 337,500.0 338,497.5 339,491.4 340,493.3 341,501.8 342,493.9 343,498.3 344,503.3 345,502.8 346,488.0 347,493.6 348,488.9 349,489.0 350,492.6 351,491.0 352,498.4 353,487.0 354,481.4 355,488.6 356,489.1 357,494.7 358,490.1 359,493.4 360,495.9 361,484.3 362,493.8 363,490.0 364,488.9 365,490.4 366,494.4 367,495.6 368,486.8 369,489.3 370,494.4 371,502.1 372,487.1 373,497.2 374,493.4 375,498.1 376,493.9 377,490.4 378,492.1 379,489.6 380,487.9 381,491.4 382,484.1 383,490.3 384,492.6 385,481.4 386,481.4 387,491.9 388,491.9 389,490.5 390,495.0 391,492.3 392,493.8 393,486.6 394,492.7 395,489.7 396,491.3 397,497.2 398,491.4 399,496.1 400,490.1 401,486.7 402,479.0 403,484.1 404,490.7 405,486.6 406,484.9 407,477.9 408,478.2 409,487.2 410,485.3 411,487.1 412,490.5 413,490.5 414,482.8 415,485.7 416,488.2 417,484.1 418,485.8 419,482.2 420,482.7 421,487.6 422,486.9 423,482.3 424,484.5 425,485.2 426,486.9 427,488.5 428,478.5 429,480.5 430,484.9 431,489.9 432,478.7 433,480.1 434,474.7 435,479.5M436,414.9 437,417.3 438,418.2 439,415.3 440,415.9 441,416.4 442,413.6 443,414.1 444,412.7 445,415.3 446,417.2 447,414.4 448,415.2 449,417.1 450,417.6 451,418.7 452,419.2 453,417.5 454,418.4 455,415.8 456,414.2 457,413.2 458,416.6 459,417.7 460,415.4 461,417.7 462,416.3 463,419.1 464,417.8 465,417.8 466,416.0 467,417.8 468,420.1 469,419.1 470,416.6 471,417.3 472,418.0 473,418.6 474,417.0 475,417.8 476,417.3 477,416.4 478,419.2 479,418.6 480,415.7 481,417.2 482,415.2 483,421.4 484,418.3 485,418.4 486,419.9 487,416.4 488,417.9 489,417.0 490,418.0 491,416.6"/>
<path class="tr" style="stroke-width:1.9" d="M127,422.8 128,424.1 129,421.1 130,422.9 131,428.7 132,426.6 133,428.0 134,430.2 135,430.3 136,425.6 137,424.8 138,421.7 139,422.1 140,424.7 141,426.3 142,426.0 143,423.8 144,425.5 145,426.9 146,422.0 147,419.9 148,422.9 149,424.9 150,426.9 151,419.3 152,421.6 153,421.6 154,429.0 155,428.1 156,427.7 157,427.6 158,423.3 159,418.0 160,425.6 161,416.6 162,420.7 163,422.8 164,420.2 165,421.2 166,420.5 167,419.4 168,419.9 169,415.2 170,416.6M171,773.4 172,766.9 173,760.4 174,756.1 175,747.0 176,737.6 177,731.6 178,724.8 179,717.0 180,709.9 181,698.3 182,694.2 183,691.1 184,678.7 185,675.9 186,670.4 187,663.0 188,651.8 189,642.6 190,640.4 191,639.3 192,633.8 193,628.9 194,634.7 195,626.3 196,615.1 197,616.3 198,611.5 199,601.5 200,599.7 201,598.9 202,598.2 203,595.3 204,600.8 205,598.8 206,590.0 207,592.7 208,587.6 209,580.4 210,588.6 211,585.8 212,582.3 213,584.8 214,587.2 215,591.4 216,583.2 217,582.9 218,587.6 219,579.0 220,585.6 221,579.9 222,578.7 223,579.3 224,575.7 225,578.7 226,579.9 227,577.0 228,579.9 229,572.5 230,560.3 231,567.0 232,567.3 233,574.8 234,573.0 235,566.9 236,566.0 237,561.9 238,560.0 239,564.4 240,578.4 241,566.2 242,562.7 243,564.4 244,567.9 245,565.1 246,572.3 247,568.7 248,564.7 249,563.6 250,563.2 251,556.5 252,548.3 253,549.7 254,549.3 255,553.0 256,556.6 257,548.4 258,558.6 259,565.1 260,557.2 261,556.5 262,561.4 263,562.2 264,560.7 265,558.1 266,555.4 267,560.6 268,561.0 269,554.1 270,557.8 271,555.6 272,542.7 273,553.7 274,553.3 275,552.1 276,562.4 277,553.0 278,555.4 279,560.4 280,554.9 281,554.5 282,556.3 283,557.8 284,557.5 285,552.7 286,552.0 287,550.5 288,552.4 289,545.5 290,552.3 291,547.2 292,549.6 293,552.3 294,542.8 295,546.1 296,545.4 297,549.0 298,547.8 299,541.8 300,548.8 301,549.8 302,543.5 303,544.5 304,545.3 305,536.5 306,543.6 307,540.5 308,543.2 309,546.6 310,548.2 311,550.9 312,551.4 313,542.6 314,545.3 315,545.1 316,540.5 317,545.5 318,539.6 319,536.3 320,539.8 321,541.5 322,543.5 323,546.9 324,545.7 325,541.6 326,544.5 327,545.9 328,548.0 329,544.4 330,539.2 331,542.4 332,542.6 333,543.3 334,543.7 335,540.3 336,540.2 337,531.6 338,544.0 339,546.1 340,542.8 341,540.6 342,544.7 343,536.3 344,541.6 345,535.8 346,536.4 347,531.4 348,534.5 349,537.8 350,535.5 351,542.9 352,542.7 353,543.4 354,534.5 355,522.0 356,533.6 357,535.4 358,531.1 359,542.5 360,537.2 361,539.5 362,535.3 363,536.0 364,530.5 365,539.6 366,538.2 367,531.5 368,537.8 369,531.2 370,541.3 371,536.8 372,537.0 373,535.8 374,538.1 375,531.9 376,533.9 377,527.5 378,533.4 379,533.7 380,527.4 381,526.6 382,531.5 383,529.6 384,534.3 385,534.6 386,535.1 387,533.6 388,526.7 389,528.2 390,523.6 391,530.7 392,532.6 393,522.5 394,525.5 395,522.9 396,525.1 397,526.3 398,519.6 399,525.6 400,532.4 401,524.3 402,520.3 403,522.0 404,529.4 405,520.3 406,530.3 407,522.0 408,524.8 409,525.5 410,514.1 411,516.1 412,520.9 413,520.1 414,514.5 415,521.3 416,516.1 417,519.2 418,515.4 419,510.5 420,521.0 421,520.2 422,527.2 423,526.8 424,522.4 425,517.3 426,521.6 427,517.7 428,517.4 429,511.2 430,512.1 431,521.0 432,521.0 433,526.8 434,527.5 435,518.3M436,426.5 437,426.0 438,423.7 439,426.0 440,425.5 441,424.4 442,424.5 443,424.9 444,426.0 445,425.3 446,426.9 447,427.1 448,425.0 449,423.9 450,424.1 451,425.0 452,426.4 453,426.9 454,422.1 455,427.0 456,426.3 457,426.6 458,424.4 459,425.5 460,427.0 461,428.0 462,426.1 463,426.5 464,424.9 465,424.8 466,422.9 467,424.9 468,424.8 469,426.3 470,426.0 471,427.3 472,428.5 473,428.8 474,428.4 475,427.7 476,428.3 477,426.4 478,426.1 479,425.3 480,424.8 481,425.8 482,427.0 483,425.0 484,426.2 485,425.1 486,426.3 487,424.6 488,425.7 489,426.5 490,422.8 491,425.3"/>
<path class="tr" style="stroke-width:1.9" d="M127,422.8 128,424.8 129,420.3 130,424.3 131,423.3 132,422.0 133,422.2 134,420.5 135,420.2 136,425.0 137,422.3 138,422.1 139,424.1 140,420.0 141,421.3 142,424.9 143,423.8 144,420.4 145,421.8 146,424.5 147,426.3 148,416.6 149,416.7 150,420.6 151,421.9 152,423.7 153,425.3 154,420.6 155,418.5 156,423.0 157,419.2 158,417.5 159,422.9 160,418.8 161,419.5 162,423.7 163,414.8 164,427.1 165,424.8 166,426.4 167,422.4 168,425.5 169,429.6 170,430.7M171,772.7 172,767.6 173,763.2 174,761.8 175,756.5 176,750.4 177,743.3 178,745.9 179,735.1 180,724.6 181,724.9 182,714.4 183,719.0 184,711.4 185,708.8 186,704.5 187,700.0 188,692.8 189,691.6 190,688.5 191,679.5 192,681.0 193,677.1 194,672.8 195,673.8 196,664.3 197,657.3 198,667.5 199,661.0 200,666.4 201,662.8 202,661.1 203,657.7 204,657.0 205,653.7 206,640.0 207,642.2 208,634.9 209,641.5 210,647.2 211,650.7 212,649.1 213,639.2 214,642.2 215,630.4 216,637.7 217,628.5 218,629.1 219,629.3 220,638.4 221,621.8 222,621.9 223,627.6 224,622.2 225,618.0 226,621.7 227,625.7 228,630.1 229,627.2 230,629.5 231,618.8 232,614.8 233,619.7 234,622.4 235,617.6 236,610.0 237,606.8 238,611.2 239,613.6 240,618.3 241,610.9 242,609.7 243,612.9 244,619.1 245,614.9 246,604.9 247,609.5 248,606.5 249,607.5 250,605.6 251,605.3 252,606.7 253,611.8 254,608.6 255,606.7 256,612.5 257,607.7 258,606.9 259,599.6 260,590.5 261,592.8 262,601.3 263,593.4 264,596.1 265,598.2 266,589.8 267,591.5 268,596.9 269,596.0 270,596.9 271,598.5 272,594.4 273,591.9 274,597.8 275,602.1 276,603.1 277,601.2 278,607.3 279,593.3 280,586.3 281,594.8 282,595.2 283,589.4 284,586.5 285,589.1 286,594.6 287,585.5 288,594.6 289,594.9 290,603.0 291,599.6 292,601.3 293,602.9 294,590.1 295,585.3 296,585.0 297,579.9 298,581.6 299,587.4 300,590.8 301,594.5 302,597.0 303,589.9 304,580.5 305,587.8 306,583.5 307,585.0 308,573.9 309,570.0 310,582.1 311,575.9 312,585.9 313,579.7 314,588.5 315,575.7 316,576.4 317,579.8 318,580.4 319,575.5 320,582.9 321,583.7 322,575.0 323,583.7 324,587.8 325,587.4 326,581.7 327,577.1 328,579.3 329,578.0 330,570.5 331,569.1 332,577.2 333,576.5 334,574.0 335,566.4 336,564.6 337,569.7 338,578.6 339,577.5 340,572.8 341,571.1 342,572.3 343,573.7 344,581.4 345,574.2 346,579.5 347,575.3 348,577.4 349,576.5 350,571.6 351,580.5 352,582.1 353,578.6 354,576.9 355,578.0 356,577.0 357,574.7 358,562.9 359,569.8 360,573.2 361,565.0 362,573.5 363,570.4 364,567.3 365,576.4 366,568.8 367,568.0 368,562.4 369,560.0 370,566.6 371,563.3 372,564.0 373,566.3 374,570.6 375,575.5 376,565.3 377,565.6 378,565.2 379,577.1 380,568.3 381,561.7 382,561.0 383,570.2 384,567.7 385,573.2 386,561.3 387,566.3 388,567.7 389,568.2 390,571.0 391,576.1 392,570.4 393,572.5 394,566.3 395,564.9 396,565.0 397,565.2 398,561.8 399,570.7 400,560.7 401,555.6 402,566.8 403,563.4 404,557.9 405,565.6 406,563.2 407,572.4 408,557.5 409,557.3 410,562.7 411,558.8 412,565.1 413,564.5 414,560.8 415,567.5 416,571.4 417,567.3 418,565.0 419,556.7 420,569.2 421,560.0 422,562.0 423,560.3 424,562.4 425,559.7 426,563.2 427,564.0 428,562.3 429,565.1 430,566.0 431,557.1 432,560.5 433,567.4 434,569.4 435,563.1M436,413.4 437,417.0 438,417.7 439,416.6 440,418.6 441,416.6 442,415.7 443,419.8 444,420.4 445,418.4 446,417.5 447,415.8 448,418.9 449,419.0 450,420.7 451,418.3 452,418.0 453,417.0 454,419.2 455,420.9 456,416.9 457,418.0 458,418.3 459,418.0 460,418.3 461,420.1 462,420.6 463,420.6 464,421.4 465,419.1 466,419.3 467,421.4 468,420.3 469,418.2 470,419.8 471,418.1 472,421.0 473,418.8 474,421.5 475,421.1 476,419.6 477,422.1 478,420.2 479,421.5 480,421.1 481,416.5 482,416.3 483,418.5 484,417.9 485,417.6 486,417.6 487,420.3 488,422.2 489,419.2 490,418.3 491,418.5"/>
<path class="tr" style="stroke-width:1.9" d="M127,422.8 128,423.2 129,422.2 130,423.2 131,427.3 132,426.9 133,426.0 134,428.1 135,419.3 136,423.4 137,425.7 138,422.0 139,425.7 140,426.7 141,419.3 142,425.9 143,426.1 144,425.1 145,423.4 146,421.3 147,424.1 148,424.8 149,424.3 150,421.8 151,421.1 152,423.0 153,423.9 154,421.5 155,426.8 156,418.5 157,425.6 158,427.7 159,422.9 160,426.1 161,420.6 162,425.6 163,428.6 164,424.6 165,427.5 166,430.5 167,433.7 168,430.5 169,426.5 170,424.5M171,774.4 172,769.3 173,764.3 174,757.3 175,752.6 176,748.9 177,743.9 178,744.8 179,745.7 180,742.3 181,735.2 182,729.5 183,727.3 184,722.7 185,715.9 186,715.5 187,712.6 188,703.3 189,703.1 190,696.8 191,694.7 192,687.3 193,681.4 194,680.9 195,680.5 196,676.2 197,673.8 198,674.2 199,672.0 200,669.2 201,667.4 202,663.8 203,660.1 204,654.6 205,663.0 206,655.9 207,657.9 208,658.1 209,657.4 210,660.2 211,656.9 212,663.3 213,650.4 214,658.4 215,655.2 216,650.1 217,640.4 218,650.1 219,651.0 220,641.9 221,650.9 222,645.4 223,650.3 224,647.8 225,647.4 226,650.1 227,642.2 228,641.9 229,644.9 230,636.2 231,648.7 232,643.2 233,646.1 234,644.6 235,651.3 236,644.3 237,643.7 238,642.7 239,632.9 240,636.3 241,637.9 242,632.9 243,640.3 244,632.6 245,633.0 246,632.8 247,628.1 248,629.7 249,630.3 250,629.5 251,636.0 252,635.2 253,633.7 254,620.9 255,616.4 256,622.6 257,619.0 258,624.2 259,619.1 260,615.0 261,624.5 262,620.6 263,623.3 264,628.9 265,615.4 266,626.5 267,620.5 268,616.9 269,614.9 270,613.1 271,618.6 272,610.1 273,618.8 274,617.4 275,614.4 276,613.5 277,614.5 278,617.3 279,616.7 280,608.0 281,605.9 282,608.0 283,617.8 284,612.0 285,616.1 286,614.0 287,624.4 288,615.7 289,615.5 290,612.9 291,614.9 292,617.1 293,611.5 294,609.1 295,604.4 296,604.5 297,608.6 298,610.1 299,600.3 300,600.9 301,607.1 302,598.8 303,600.4 304,598.0 305,596.0 306,601.9 307,600.6 308,601.4 309,600.9 310,597.3 311,597.5 312,595.4 313,600.8 314,600.3 315,598.3 316,597.7 317,590.1 318,597.2 319,585.3 320,596.4 321,598.4 322,593.8 323,599.0 324,596.7 325,599.9 326,596.9 327,594.4 328,583.7 329,595.0 330,589.7 331,596.2 332,595.1 333,594.9 334,591.2 335,585.0 336,592.8 337,592.1 338,588.4 339,594.7 340,585.7 341,593.8 342,600.4 343,590.2 344,592.5 345,592.2 346,592.9 347,586.3 348,597.1 349,585.0 350,586.8 351,584.7 352,591.2 353,583.6 354,581.6 355,584.0 356,578.0 357,581.7 358,579.8 359,585.0 360,588.2 361,576.6 362,581.3 363,591.0 364,596.1 365,595.5 366,583.8 367,589.5 368,579.8 369,584.6 370,585.0 371,581.6 372,587.7 373,583.8 374,585.5 375,581.3 376,581.8 377,578.3 378,580.0 379,588.8 380,593.1 381,584.2 382,577.4 383,581.4 384,578.8 385,576.5 386,581.4 387,579.9 388,575.8 389,572.0 390,581.2 391,580.2 392,585.3 393,578.0 394,576.7 395,586.8 396,581.8 397,586.4 398,584.0 399,577.4 400,580.6 401,572.3 402,585.9 403,577.8 404,582.8 405,582.9 406,593.7 407,591.1 408,587.2 409,583.8 410,584.5 411,586.6 412,586.3 413,585.3 414,589.2 415,579.9 416,584.5 417,570.3 418,580.2 419,574.6 420,587.7 421,579.4 422,585.4 423,588.3 424,582.4 425,581.6 426,574.0 427,579.9 428,582.8 429,579.7 430,582.9 431,585.1 432,574.4 433,586.1 434,586.8 435,581.9M436,419.3 437,415.5 438,421.8 439,416.9 440,418.8 441,416.8 442,418.6 443,418.5 444,420.0 445,417.6 446,419.2 447,417.3 448,419.4 449,417.6 450,416.4 451,413.3 452,411.6 453,411.5 454,415.7 455,414.7 456,413.1 457,414.1 458,415.1 459,415.3 460,417.1 461,417.5 462,417.0 463,417.3 464,416.1 465,417.5 466,420.2 467,422.5 468,417.8 469,420.2 470,421.3 471,422.9 472,420.1 473,422.8 474,418.9 475,422.2 476,420.4 477,417.8 478,419.5 479,419.1 480,418.2 481,418.5 482,418.4 483,420.0 484,419.3 485,419.1 486,421.4 487,418.2 488,418.3 489,419.3 490,421.0 491,420.2"/>
<path class="tv" d="M170.6 413.4V774.4"/>
<path class="tv" style="stroke-width:3.6" d="M437.2 413.2V581.9"/>
<path class="tv" d="M170.3 413V423"/>
<path class="tv" d="M437.2 414V606"/>
<path class="tr" d="M528,421.6 529,422.0 530,421.3 531,421.4 532,421.7 533,423.7 534,423.1 535,422.3 536,421.2 537,420.9 538,419.6 539,419.1 540,420.6 541,419.6 542,421.1 543,421.9 544,422.2 545,420.7 546,420.3 547,421.1 548,421.2 549,420.6 550,421.5 551,422.8 552,422.0 553,421.7 554,420.5 555,420.6 556,420.6 557,421.0 558,422.2 559,420.6 560,421.3 561,420.1 562,420.0 563,420.4 564,420.4 565,421.8 566,421.0 567,421.4 568,419.1 569,421.3 570,423.3 571,422.9 572,421.3M573,416.1 574,416.1 575,415.9 576,415.8 577,415.8 578,417.1 579,416.8 580,415.6 581,414.2 582,416.5 583,418.4 584,418.3 585,417.3 586,417.4 587,417.8 588,415.1 589,415.1 590,415.7 591,415.0 592,416.2 593,415.5 594,417.1 595,418.0 596,418.8 597,416.3 598,416.0 599,416.8 600,416.3 601,416.8 602,415.7 603,414.9 604,415.8 605,413.4 606,416.9 607,416.9 608,418.5 609,418.7 610,418.7 611,417.8 612,418.2 613,416.8 614,416.7 615,418.4 616,418.6 617,419.5 618,417.4 619,420.0 620,417.1 621,416.4 622,415.0 623,416.1 624,416.9 625,413.2 626,415.1 627,414.9 628,415.2 629,415.0 630,415.9 631,416.9 632,415.2 633,416.9 634,416.0 635,415.8 636,416.8 637,414.2 638,416.0 639,416.0 640,415.5 641,416.0 642,416.6 643,416.5 644,418.3 645,417.8 646,417.8 647,417.0 648,416.4 649,416.8 650,416.6 651,417.1 652,416.8 653,418.6 654,417.2 655,416.6 656,417.2 657,419.2 658,415.0 659,416.0 660,416.7 661,416.5 662,415.6 663,417.4 664,416.1 665,418.6 666,416.4 667,415.4 668,417.2 669,416.4 670,418.6 671,418.2 672,418.3 673,418.4 674,416.8 675,417.1 676,418.7 677,416.8 678,417.8 679,417.4 680,418.0 681,417.3 682,416.9 683,417.1 684,418.6 685,415.5 686,417.5 687,416.5 688,417.1 689,415.4 690,415.8 691,419.4 692,417.4 693,416.3 694,415.2 695,417.6 696,417.6 697,416.8 698,417.4 699,419.0 700,416.8 701,417.0 702,415.6 703,416.4 704,417.0 705,417.2 706,416.6 707,416.9 708,414.7 709,415.0 710,415.2 711,415.1 712,415.2 713,416.1 714,416.1 715,416.9 716,420.1 717,417.8 718,418.8 719,418.4 720,416.4 721,416.9 722,417.1 723,418.5 724,418.8 725,417.3 726,419.0 727,418.1 728,417.3 729,417.4 730,417.6 731,419.4 732,419.7 733,420.7 734,419.8 735,418.3 736,417.6 737,418.8 738,417.2 739,416.4 740,415.9 741,417.1 742,418.5 743,418.0 744,416.4 745,417.4 746,415.6 747,417.0 748,416.9 749,420.4 750,420.5 751,419.7 752,421.3 753,418.5 754,416.3 755,416.9 756,418.9 757,417.4 758,419.3 759,417.6 760,417.3 761,418.7 762,417.3 763,416.4 764,418.9 765,420.7 766,419.7 767,421.5 768,420.7 769,419.0 770,418.4 771,416.0 772,417.6 773,418.0 774,417.7 775,418.1 776,418.4 777,417.0 778,416.8 779,416.5 780,417.5 781,416.0 782,416.4 783,418.7 784,418.2 785,417.8 786,417.0 787,417.0 788,417.5 789,416.9 790,415.3 791,416.1 792,418.0 793,419.4 794,419.5 795,419.1 796,419.8 797,420.1 798,417.7 799,418.0 800,417.0 801,417.2 802,415.8 803,417.2 804,418.7 805,419.2 806,417.5 807,418.0 808,419.4 809,417.7 810,419.5 811,418.0 812,418.3 813,415.8 814,417.3 815,416.1 816,417.7 817,417.2 818,417.4 819,418.6 820,418.0 821,417.8 822,420.1 823,420.7 824,419.6 825,419.6 826,421.0 827,417.5 828,416.8 829,417.6 830,419.5 831,419.0 832,416.7 833,416.2 834,416.0 835,417.1 836,418.1 837,418.4M838,416.6 839,416.5 840,416.3 841,416.5 842,417.2 843,416.8 844,416.3 845,417.6 846,417.3 847,416.7 848,416.5 849,416.7 850,416.5 851,415.8 852,417.2 853,416.6 854,415.6 855,416.4 856,416.5 857,417.9 858,418.8 859,416.7 860,416.7 861,416.8 862,418.1 863,419.6 864,417.5 865,417.5 866,416.2 867,417.3 868,417.2 869,416.0 870,417.1 871,417.7 872,417.7 873,418.5 874,417.6 875,416.6 876,417.1 877,417.6 878,417.0 879,419.3 880,418.4 881,418.7 882,418.3 883,418.8 884,418.5 885,418.1 886,415.7 887,417.0 888,416.6 889,417.1 890,417.2 891,416.4 892,417.3"/>
<path class="tr" d="M528,421.6 529,421.3 530,421.3 531,421.4 532,421.9 533,422.7 534,421.1 535,422.6 536,423.1 537,422.2 538,421.4 539,421.5 540,422.3 541,422.6 542,421.9 543,422.3 544,422.6 545,423.0 546,423.7 547,421.7 548,422.0 549,422.4 550,421.0 551,421.7 552,420.1 553,418.8 554,420.1 555,420.6 556,421.5 557,422.0 558,421.6 559,422.3 560,422.5 561,421.6 562,422.3 563,420.4 564,421.5 565,423.1 566,422.6 567,422.9 568,423.2 569,421.7 570,420.2 571,420.4 572,421.0M573,417.5 574,417.4 575,417.8 576,418.2 577,417.8 578,418.8 579,417.4 580,418.2 581,418.3 582,419.7 583,418.0 584,419.4 585,419.9 586,419.0 587,419.7 588,418.4 589,418.5 590,419.9 591,417.0 592,419.2 593,419.3 594,420.1 595,419.6 596,419.2 597,417.8 598,417.9 599,418.0 600,416.9 601,418.0 602,415.6 603,417.3 604,418.1 605,418.8 606,417.6 607,416.9 608,417.4 609,420.6 610,420.6 611,420.3 612,418.3 613,417.9 614,417.9 615,417.9 616,420.0 617,420.0 618,419.3 619,418.4 620,416.6 621,416.8 622,417.4 623,416.4 624,417.0 625,416.8 626,417.8 627,417.5 628,419.0 629,417.2 630,415.8 631,418.5 632,419.6 633,419.5 634,420.4 635,417.4 636,418.6 637,415.5 638,417.1 639,419.9 640,418.2 641,417.3 642,417.5 643,418.3 644,418.5 645,417.2 646,419.6 647,418.7 648,418.9 649,420.3 650,419.4 651,420.2 652,419.7 653,418.1 654,420.2 655,418.9 656,422.0 657,421.8 658,421.0 659,419.6 660,418.3 661,419.2 662,420.0 663,419.1 664,417.9 665,418.2 666,417.1 667,418.3 668,417.9 669,418.8 670,419.7 671,421.2 672,419.3 673,418.4 674,418.4 675,419.1 676,419.4 677,419.8 678,418.4 679,417.8 680,418.6 681,417.8 682,418.1 683,419.3 684,418.3 685,419.1 686,417.8 687,417.9 688,418.6 689,418.7 690,416.9 691,418.2 692,416.0 693,419.2 694,418.7 695,419.0 696,417.8 697,417.2 698,416.7 699,415.8 700,417.0 701,418.4 702,417.4 703,417.2 704,418.6 705,419.0 706,418.0 707,419.4 708,419.1 709,419.4 710,419.3 711,418.8 712,420.0 713,419.4 714,419.0 715,418.1 716,419.0 717,418.5 718,416.9 719,418.3 720,417.3 721,417.4 722,419.2 723,418.7 724,419.3 725,418.0 726,416.7 727,416.4 728,417.6 729,418.3 730,417.4 731,417.2 732,417.0 733,416.7 734,419.1 735,418.2 736,421.1 737,420.1 738,419.1 739,419.0 740,417.8 741,417.4 742,419.0 743,418.3 744,418.4 745,420.4 746,417.7 747,416.5 748,417.7 749,418.1 750,417.2 751,417.0 752,418.8 753,417.4 754,418.4 755,416.3 756,415.9 757,417.9 758,415.4 759,417.8 760,419.5 761,417.9 762,416.5 763,417.3 764,418.7 765,421.3 766,420.7 767,420.5 768,419.9 769,418.5 770,418.7 771,417.4 772,418.9 773,418.9 774,419.1 775,418.7 776,419.1 777,420.0 778,420.7 779,419.7 780,418.0 781,416.6 782,420.2 783,421.5 784,421.0 785,423.2 786,420.5 787,421.1 788,418.3 789,418.9 790,419.6 791,418.9 792,418.7 793,417.7 794,419.7 795,418.6 796,418.4 797,417.1 798,418.3 799,419.2 800,418.3 801,417.3 802,418.7 803,418.6 804,419.5 805,418.6 806,418.9 807,418.6 808,418.5 809,418.9 810,419.5 811,418.3 812,417.2 813,419.0 814,419.0 815,422.6 816,420.8 817,419.0 818,418.7 819,421.1 820,420.0 821,421.1 822,422.6 823,419.7 824,418.4 825,418.2 826,419.1 827,418.7 828,418.1 829,416.7 830,417.6 831,418.3 832,418.7 833,416.9 834,417.6 835,416.7 836,416.4 837,419.3M838,422.0 839,421.8 840,423.0 841,423.2 842,424.8 843,424.1 844,424.1 845,422.8 846,423.1 847,422.9 848,423.8 849,424.5 850,423.0 851,424.6 852,423.6 853,423.3 854,423.3 855,423.3 856,423.8 857,422.6 858,424.1 859,423.7 860,423.5 861,422.7 862,423.9 863,423.9 864,422.2 865,422.7 866,423.2 867,422.2 868,422.8 869,422.5 870,423.3 871,423.6 872,423.1 873,422.5 874,421.5 875,422.6 876,421.9 877,421.1 878,421.4 879,421.4 880,423.2 881,422.7 882,422.8 883,421.7 884,423.3 885,422.6 886,423.0 887,423.4 888,423.1 889,423.2 890,422.6 891,422.3 892,423.2"/>
<path class="tr" d="M528,421.6 529,420.2 530,421.9 531,420.7 532,420.5 533,421.7 534,421.7 535,419.9 536,421.4 537,422.1 538,420.8 539,420.3 540,421.0 541,421.4 542,421.4 543,421.9 544,421.4 545,421.0 546,421.2 547,420.6 548,421.6 549,420.7 550,419.3 551,420.5 552,420.0 553,421.9 554,422.3 555,421.4 556,422.1 557,421.4 558,421.5 559,421.9 560,422.5 561,422.9 562,423.8 563,423.2 564,422.3 565,421.0 566,422.2 567,422.2 568,421.6 569,422.5 570,421.2 571,422.8 572,420.6M573,419.5 574,419.7 575,419.3 576,419.1 577,418.6 578,418.7 579,420.0 580,419.2 581,421.1 582,418.8 583,420.0 584,419.4 585,419.0 586,417.0 587,418.4 588,417.0 589,418.3 590,418.6 591,417.6 592,419.7 593,420.7 594,421.2 595,420.3 596,421.0 597,420.8 598,422.2 599,420.4 600,419.1 601,418.7 602,418.4 603,418.5 604,419.2 605,419.4 606,419.9 607,419.0 608,419.6 609,420.9 610,419.5 611,418.8 612,419.3 613,420.3 614,420.8 615,421.0 616,420.6 617,420.1 618,422.8 619,421.6 620,422.7 621,420.6 622,418.7 623,418.5 624,418.8 625,421.7 626,421.2 627,422.0 628,420.7 629,420.0 630,420.6 631,420.4 632,421.3 633,420.1 634,419.4 635,419.9 636,419.9 637,420.1 638,420.3 639,418.8 640,419.0 641,420.0 642,418.7 643,419.7 644,419.2 645,418.9 646,420.8 647,420.3 648,422.0 649,419.8 650,419.3 651,418.2 652,420.1 653,419.9 654,418.8 655,420.5 656,418.9 657,420.1 658,420.4 659,420.0 660,419.3 661,420.4 662,420.3 663,421.0 664,421.1 665,419.8 666,418.5 667,419.4 668,419.3 669,416.6 670,417.9 671,418.4 672,418.3 673,419.2 674,419.7 675,417.7 676,418.0 677,417.9 678,418.8 679,420.0 680,418.0 681,418.0 682,418.9 683,419.0 684,418.6 685,418.3 686,417.9 687,417.8 688,419.4 689,419.0 690,421.5 691,420.3 692,421.3 693,423.5 694,421.8 695,422.3 696,422.7 697,422.6 698,422.8 699,421.9 700,423.4 701,422.3 702,420.2 703,421.8 704,422.0 705,422.3 706,421.2 707,420.9 708,421.2 709,421.3 710,419.8 711,420.9 712,421.5 713,420.8 714,419.9 715,421.6 716,422.0 717,422.4 718,421.0 719,419.9 720,420.1 721,421.5 722,420.3 723,420.8 724,421.5 725,421.9 726,421.6 727,419.9 728,419.0 729,419.3 730,419.0 731,418.8 732,420.2 733,420.2 734,420.2 735,421.1 736,421.7 737,421.9 738,422.4 739,422.0 740,421.7 741,420.2 742,420.6 743,420.4 744,420.8 745,420.0 746,419.8 747,420.8 748,420.4 749,420.4 750,421.3 751,421.0 752,421.5 753,421.2 754,421.7 755,420.8 756,421.2 757,421.3 758,421.6 759,421.6 760,422.7 761,421.0 762,423.5 763,423.7 764,421.4 765,420.7 766,422.6 767,422.3 768,421.9 769,423.0 770,420.9 771,420.8 772,420.9 773,419.7 774,420.1 775,419.5 776,419.7 777,420.3 778,419.8 779,420.6 780,421.9 781,421.2 782,421.7 783,421.2 784,420.1 785,420.0 786,420.5 787,421.0 788,420.4 789,421.0 790,422.4 791,420.7 792,420.9 793,419.7 794,420.8 795,422.6 796,423.5 797,421.5 798,422.1 799,421.8 800,420.6 801,420.4 802,420.7 803,420.4 804,421.1 805,421.5 806,422.7 807,421.3 808,423.6 809,423.7 810,422.5 811,422.8 812,422.4 813,424.1 814,422.7 815,421.9 816,419.2 817,420.2 818,420.8 819,420.7 820,421.1 821,420.0 822,419.5 823,420.9 824,419.8 825,420.3 826,419.6 827,418.9 828,420.0 829,420.6 830,421.3 831,423.5 832,424.4 833,423.0 834,420.7 835,422.1 836,420.7 837,420.3M838,421.0 839,419.5 840,420.6 841,420.9 842,420.5 843,421.0 844,421.7 845,420.7 846,421.7 847,422.3 848,421.5 849,420.7 850,420.4 851,419.9 852,420.2 853,421.2 854,420.7 855,421.0 856,420.9 857,420.2 858,420.3 859,420.7 860,420.6 861,420.4 862,421.3 863,420.6 864,420.8 865,419.8 866,420.6 867,420.4 868,420.5 869,421.1 870,421.5 871,421.4 872,421.9 873,421.1 874,421.7 875,422.7 876,421.5 877,420.8 878,420.6 879,420.0 880,420.4 881,421.0 882,420.3 883,420.8 884,419.8 885,421.5 886,420.8 887,421.2 888,422.1 889,421.5 890,421.8 891,421.7 892,421.4"/>
<path class="tr" d="M528,421.6 529,422.0 530,420.7 531,421.3 532,420.4 533,420.7 534,420.7 535,421.2 536,421.8 537,421.7 538,423.2 539,423.5 540,423.2 541,423.1 542,423.7 543,422.5 544,420.4 545,422.1 546,422.4 547,420.5 548,420.5 549,421.8 550,422.1 551,422.5 552,423.5 553,423.4 554,423.5 555,422.8 556,423.1 557,422.3 558,422.9 559,422.9 560,421.7 561,422.1 562,423.9 563,424.2 564,423.6 565,422.4 566,422.5 567,423.0 568,422.3 569,422.2 570,422.8 571,423.0 572,422.6M573,421.8 574,421.3 575,421.6 576,420.3 577,420.1 578,420.6 579,421.1 580,421.0 581,420.9 582,420.7 583,421.6 584,422.2 585,422.4 586,421.7 587,420.9 588,421.8 589,423.3 590,422.7 591,422.8 592,421.4 593,420.4 594,420.5 595,420.0 596,420.8 597,421.4 598,420.6 599,419.7 600,419.8 601,419.3 602,418.5 603,419.7 604,419.9 605,420.6 606,420.4 607,422.3 608,421.7 609,422.4 610,422.8 611,422.4 612,424.3 613,421.4 614,420.9 615,419.8 616,421.3 617,421.9 618,421.5 619,421.6 620,420.1 621,420.2 622,421.5 623,420.4 624,420.7 625,421.1 626,421.4 627,420.3 628,420.0 629,418.6 630,420.4 631,421.9 632,422.3 633,421.4 634,421.0 635,422.0 636,422.3 637,424.0 638,422.7 639,420.7 640,420.1 641,419.4 642,420.4 643,419.6 644,419.3 645,419.6 646,420.5 647,421.1 648,420.4 649,421.6 650,422.4 651,422.3 652,423.0 653,422.6 654,422.6 655,421.3 656,421.4 657,421.9 658,420.8 659,420.4 660,421.7 661,421.2 662,421.1 663,422.0 664,423.9 665,422.5 666,422.8 667,423.1 668,420.9 669,421.1 670,420.5 671,420.0 672,422.0 673,422.2 674,422.2 675,421.9 676,422.3 677,421.3 678,422.1 679,422.9 680,422.9 681,422.3 682,423.6 683,421.9 684,422.0 685,421.1 686,421.7 687,422.2 688,421.7 689,421.2 690,423.5 691,422.8 692,424.1 693,422.4 694,422.1 695,422.4 696,421.9 697,420.3 698,420.7 699,419.7 700,418.7 701,419.3 702,419.1 703,420.3 704,419.9 705,420.3 706,420.5 707,420.9 708,420.5 709,420.1 710,421.3 711,421.5 712,422.6 713,422.7 714,423.3 715,421.3 716,420.5 717,420.5 718,420.5 719,421.3 720,422.1 721,421.7 722,422.4 723,421.2 724,419.6 725,419.5 726,420.7 727,420.7 728,421.8 729,418.8 730,419.3 731,420.0 732,420.5 733,421.4 734,421.4 735,421.6 736,420.7 737,421.8 738,422.3 739,422.8 740,420.4 741,419.5 742,420.3 743,418.9 744,421.0 745,421.8 746,422.0 747,420.2 748,420.2 749,421.6 750,421.4 751,422.5 752,421.4 753,421.2 754,422.5 755,423.3 756,423.1 757,421.8 758,422.7 759,422.0 760,421.2 761,421.7 762,420.0 763,420.6 764,422.1 765,423.4 766,424.1 767,423.6 768,424.0 769,421.9 770,422.9 771,423.5 772,422.5 773,423.4 774,424.2 775,424.1 776,422.2 777,423.2 778,423.0 779,422.7 780,422.4 781,421.1 782,419.7 783,420.2 784,419.6 785,420.7 786,422.4 787,420.9 788,422.3 789,422.5 790,421.3 791,422.3 792,422.9 793,421.5 794,421.8 795,421.5 796,422.0 797,419.8 798,421.0 799,422.4 800,419.7 801,420.4 802,418.8 803,421.0 804,419.7 805,421.5 806,419.8 807,420.6 808,421.2 809,420.0 810,420.8 811,423.5 812,422.4 813,421.6 814,422.6 815,422.9 816,422.9 817,421.4 818,420.6 819,420.3 820,421.0 821,419.8 822,419.2 823,421.9 824,422.0 825,421.1 826,420.1 827,422.5 828,422.4 829,422.5 830,422.8 831,422.8 832,423.5 833,422.5 834,421.3 835,421.8 836,421.2 837,422.8M838,427.6 839,426.2 840,426.8 841,427.8 842,426.6 843,426.7 844,427.0 845,428.3 846,428.0 847,428.6 848,428.8 849,426.9 850,427.2 851,427.0 852,426.5 853,425.1 854,427.6 855,429.1 856,428.6 857,427.8 858,427.2 859,427.2 860,428.3 861,428.0 862,427.3 863,426.9 864,428.1 865,427.3 866,428.0 867,428.1 868,427.5 869,426.6 870,427.1 871,426.9 872,426.8 873,426.0 874,426.5 875,425.9 876,426.6 877,427.0 878,427.6 879,428.1 880,427.2 881,427.7 882,425.2 883,425.6 884,425.2 885,426.7 886,427.8 887,425.8 888,426.1 889,426.1 890,426.7 891,426.8 892,426.6"/>
<path class="tr" d="M528,421.6 529,422.0 530,420.7 531,421.1 532,422.8 533,420.1 534,421.7 535,421.7 536,422.1 537,421.0 538,422.5 539,421.2 540,420.4 541,421.0 542,422.0 543,422.7 544,422.3 545,421.9 546,423.0 547,421.6 548,421.8 549,422.3 550,422.8 551,422.6 552,422.4 553,422.4 554,420.6 555,421.9 556,421.3 557,421.8 558,421.2 559,421.1 560,420.4 561,419.9 562,418.6 563,420.6 564,419.5 565,421.3 566,420.8 567,422.6 568,423.1 569,422.1 570,422.3 571,422.2 572,420.7M573,426.6 574,426.6 575,426.4 576,425.6 577,427.0 578,427.3 579,425.7 580,427.4 581,425.3 582,423.4 583,424.4 584,425.3 585,425.7 586,425.3 587,424.7 588,426.2 589,426.2 590,424.1 591,424.4 592,424.7 593,425.9 594,425.2 595,424.2 596,426.5 597,426.4 598,425.5 599,425.1 600,425.6 601,423.2 602,428.2 603,427.0 604,425.5 605,424.6 606,425.2 607,425.1 608,425.1 609,425.6 610,425.6 611,426.5 612,424.4 613,424.1 614,426.0 615,425.6 616,427.2 617,426.2 618,426.4 619,425.9 620,424.6 621,426.3 622,425.4 623,424.6 624,422.7 625,424.1 626,424.7 627,425.2 628,426.4 629,425.1 630,425.3 631,425.3 632,426.7 633,426.1 634,427.3 635,427.3 636,426.6 637,425.5 638,425.0 639,426.7 640,426.4 641,424.9 642,423.7 643,425.1 644,426.9 645,426.3 646,424.8 647,424.5 648,424.1 649,424.7 650,422.4 651,422.1 652,423.9 653,421.8 654,423.8 655,424.1 656,422.0 657,422.3 658,422.6 659,424.4 660,423.3 661,421.8 662,423.0 663,425.5 664,426.5 665,424.5 666,425.1 667,423.9 668,425.3 669,425.0 670,424.5 671,422.8 672,423.9 673,423.9 674,422.9 675,423.3 676,423.3 677,423.0 678,423.9 679,424.8 680,425.3 681,423.3 682,422.8 683,421.5 684,422.5 685,422.9 686,424.4 687,425.2 688,425.6 689,424.3 690,425.3 691,424.5 692,424.0 693,423.3 694,424.2 695,424.0 696,423.7 697,423.8 698,423.8 699,423.8 700,425.2 701,424.0 702,425.0 703,423.7 704,422.2 705,422.2 706,422.4 707,422.8 708,423.2 709,423.4 710,424.5 711,425.0 712,425.5 713,424.9 714,423.0 715,423.6 716,425.0 717,424.8 718,424.9 719,424.2 720,423.9 721,423.5 722,424.5 723,423.0 724,422.3 725,422.1 726,422.7 727,423.1 728,423.8 729,422.4 730,422.8 731,423.1 732,424.6 733,424.9 734,423.2 735,423.7 736,423.3 737,424.3 738,424.6 739,423.3 740,424.1 741,424.0 742,422.7 743,422.7 744,423.6 745,425.2 746,422.7 747,423.6 748,422.8 749,422.8 750,422.1 751,423.1 752,423.4 753,424.9 754,425.5 755,425.4 756,426.1 757,425.3 758,425.7 759,424.7 760,424.3 761,424.3 762,423.9 763,425.8 764,423.2 765,422.5 766,421.8 767,423.3 768,423.1 769,424.2 770,423.8 771,423.6 772,422.1 773,422.9 774,424.6 775,425.3 776,423.4 777,423.5 778,422.3 779,424.6 780,424.3 781,423.7 782,423.3 783,424.6 784,423.7 785,424.4 786,423.9 787,423.1 788,424.4 789,424.2 790,424.6 791,423.9 792,423.4 793,424.1 794,423.9 795,424.9 796,424.3 797,425.8 798,424.7 799,422.0 800,421.7 801,423.3 802,423.0 803,422.8 804,424.8 805,424.4 806,423.5 807,423.8 808,425.2 809,425.1 810,427.9 811,426.2 812,426.6 813,424.4 814,426.9 815,425.8 816,425.6 817,424.3 818,426.0 819,426.0 820,424.3 821,422.4 822,423.9 823,424.1 824,424.9 825,425.0 826,425.4 827,425.4 828,423.7 829,423.1 830,421.9 831,422.8 832,423.0 833,422.9 834,422.4 835,424.1 836,424.6 837,423.6M838,421.7 839,422.0 840,422.6 841,422.3 842,422.0 843,422.8 844,422.0 845,422.2 846,421.3 847,422.7 848,421.6 849,422.8 850,421.7 851,421.6 852,421.9 853,421.7 854,421.1 855,422.1 856,422.5 857,422.9 858,422.7 859,421.4 860,422.3 861,423.3 862,421.7 863,422.0 864,422.2 865,420.8 866,421.1 867,422.1 868,422.0 869,421.8 870,421.8 871,420.4 872,421.4 873,421.0 874,422.1 875,423.1 876,423.1 877,423.9 878,422.8 879,423.7 880,422.9 881,423.5 882,422.8 883,422.1 884,421.7 885,422.5 886,421.4 887,422.1 888,421.4 889,422.5 890,422.0 891,421.9 892,422.7"/>
<path class="tr" d="M528,421.6 529,421.0 530,422.0 531,421.1 532,418.9 533,420.6 534,422.4 535,423.7 536,422.7 537,421.7 538,421.0 539,421.4 540,421.4 541,420.8 542,421.1 543,421.9 544,422.3 545,422.4 546,422.2 547,421.6 548,422.0 549,421.9 550,421.2 551,419.7 552,421.7 553,420.1 554,420.1 555,420.9 556,421.6 557,421.6 558,421.5 559,421.3 560,422.4 561,423.2 562,425.0 563,423.9 564,424.2 565,422.5 566,421.4 567,420.8 568,422.0 569,420.7 570,421.0 571,421.5 572,421.5M573,440.8 574,441.5 575,441.7 576,442.0 577,440.7 578,438.6 579,437.1 580,435.7 581,434.0 582,432.8 583,433.1 584,430.6 585,428.9 586,430.8 587,431.0 588,431.1 589,431.6 590,431.0 591,428.5 592,429.5 593,430.9 594,429.4 595,428.8 596,429.8 597,428.9 598,431.8 599,430.2 600,429.0 601,430.3 602,428.7 603,431.2 604,431.7 605,428.7 606,428.8 607,427.4 608,426.3 609,428.2 610,428.1 611,427.0 612,426.1 613,427.5 614,428.6 615,427.8 616,426.6 617,425.8 618,423.8 619,423.7 620,426.5 621,424.3 622,424.4 623,426.3 624,427.1 625,428.0 626,428.1 627,428.5 628,428.5 629,427.0 630,427.1 631,426.2 632,427.1 633,428.1 634,428.7 635,426.6 636,426.3 637,425.7 638,426.1 639,426.7 640,426.7 641,426.9 642,426.8 643,427.7 644,428.2 645,429.1 646,428.8 647,427.2 648,425.5 649,424.9 650,425.6 651,425.8 652,424.7 653,426.1 654,425.6 655,426.6 656,423.2 657,425.1 658,424.1 659,425.9 660,425.5 661,425.8 662,426.5 663,428.1 664,428.8 665,429.3 666,426.7 667,426.8 668,427.0 669,425.6 670,425.0 671,424.9 672,426.2 673,424.6 674,427.2 675,427.3 676,428.4 677,429.0 678,430.5 679,426.0 680,425.9 681,426.7 682,426.5 683,427.9 684,428.0 685,428.2 686,426.2 687,428.2 688,427.2 689,428.0 690,426.6 691,427.8 692,429.0 693,427.6 694,427.3 695,426.4 696,426.5 697,425.6 698,426.1 699,425.7 700,423.2 701,424.7 702,425.8 703,426.5 704,428.0 705,426.2 706,427.1 707,426.5 708,428.3 709,428.3 710,428.5 711,428.5 712,428.7 713,429.6 714,428.3 715,426.2 716,427.2 717,427.5 718,425.7 719,426.4 720,427.9 721,426.7 722,426.2 723,426.8 724,428.0 725,427.4 726,428.5 727,427.0 728,427.8 729,427.6 730,427.5 731,427.3 732,429.6 733,429.3 734,430.1 735,429.5 736,427.8 737,429.7 738,430.0 739,427.9 740,428.9 741,429.6 742,428.7 743,427.0 744,424.9 745,427.7 746,427.4 747,425.9 748,427.4 749,428.1 750,429.5 751,429.5 752,426.3 753,427.1 754,426.4 755,427.1 756,427.2 757,428.2 758,428.2 759,430.2 760,426.9 761,427.1 762,426.6 763,425.5 764,427.5 765,426.7 766,425.8 767,429.6 768,428.3 769,428.3 770,430.8 771,428.7 772,428.6 773,428.8 774,429.8 775,430.7 776,430.6 777,432.3 778,431.0 779,431.4 780,429.8 781,429.0 782,428.2 783,427.8 784,427.9 785,426.7 786,425.6 787,430.1 788,430.7 789,429.2 790,431.1 791,431.2 792,428.8 793,429.4 794,429.5 795,429.8 796,428.0 797,428.8 798,428.7 799,430.9 800,428.8 801,429.2 802,428.1 803,427.9 804,425.8 805,426.8 806,428.0 807,426.5 808,426.7 809,427.5 810,427.9 811,428.9 812,428.5 813,429.2 814,429.6 815,427.1 816,428.0 817,428.8 818,428.0 819,429.1 820,429.5 821,428.6 822,429.6 823,428.8 824,427.7 825,428.2 826,428.9 827,428.6 828,429.3 829,429.4 830,427.4 831,428.4 832,427.3 833,430.2 834,428.9 835,429.2 836,427.7 837,426.9M838,424.4 839,424.9 840,426.1 841,425.8 842,425.0 843,425.1 844,425.9 845,425.8 846,424.5 847,425.1 848,424.8 849,424.9 850,427.0 851,425.4 852,426.3 853,425.3 854,425.3 855,425.4 856,425.4 857,425.5 858,425.5 859,425.0 860,425.0 861,424.2 862,424.7 863,426.0 864,426.4 865,424.6 866,425.5 867,424.6 868,425.1 869,425.4 870,425.9 871,426.2 872,425.3 873,425.2 874,424.7 875,424.5 876,425.9 877,425.6 878,425.2 879,424.7 880,424.7 881,422.3 882,423.5 883,425.9 884,424.7 885,423.6 886,425.6 887,425.7 888,425.0 889,425.5 890,424.8 891,425.5 892,424.9"/>
<path class="tr" d="M528,421.6 529,422.0 530,420.6 531,421.4 532,421.2 533,420.6 534,421.6 535,422.7 536,421.5 537,421.8 538,421.3 539,421.8 540,421.3 541,420.6 542,422.1 543,419.6 544,420.3 545,419.9 546,420.8 547,421.5 548,420.9 549,420.9 550,419.8 551,420.7 552,422.5 553,422.5 554,422.3 555,421.6 556,420.7 557,421.5 558,421.9 559,421.3 560,422.9 561,422.4 562,422.0 563,421.6 564,423.0 565,423.6 566,423.9 567,422.7 568,422.3 569,421.8 570,421.1 571,422.6 572,421.3M573,485.1 574,480.2 575,476.6 576,473.8 577,470.3 578,467.9 579,464.6 580,462.7 581,461.5 582,459.0 583,455.3 584,454.7 585,453.0 586,451.6 587,448.8 588,448.4 589,447.9 590,446.2 591,444.2 592,443.7 593,444.4 594,443.7 595,441.8 596,440.6 597,441.6 598,441.0 599,438.2 600,440.3 601,440.1 602,439.7 603,439.1 604,438.8 605,439.1 606,439.5 607,439.7 608,438.3 609,436.8 610,438.2 611,438.3 612,435.3 613,435.0 614,434.0 615,435.8 616,434.8 617,434.5 618,433.9 619,433.5 620,432.0 621,435.8 622,433.9 623,434.3 624,435.9 625,434.0 626,434.9 627,435.6 628,436.6 629,434.4 630,434.2 631,434.1 632,434.7 633,435.0 634,432.9 635,433.1 636,434.7 637,433.5 638,434.0 639,433.9 640,431.9 641,433.5 642,435.0 643,433.3 644,433.3 645,435.5 646,434.6 647,437.0 648,434.9 649,434.7 650,434.6 651,435.3 652,434.3 653,434.8 654,436.0 655,433.9 656,436.6 657,434.9 658,435.7 659,436.4 660,437.3 661,435.8 662,435.0 663,433.8 664,431.1 665,435.6 666,436.8 667,435.8 668,439.6 669,436.2 670,436.8 671,437.2 672,438.5 673,437.7 674,434.7 675,435.3 676,437.0 677,435.0 678,433.3 679,433.8 680,434.3 681,434.7 682,434.8 683,436.2 684,432.7 685,434.9 686,434.3 687,435.0 688,434.3 689,437.2 690,437.6 691,437.1 692,436.1 693,434.8 694,438.2 695,437.6 696,436.3 697,436.3 698,438.9 699,438.5 700,439.3 701,437.9 702,436.9 703,438.3 704,435.9 705,438.3 706,436.8 707,437.7 708,437.7 709,437.4 710,437.1 711,435.8 712,437.5 713,436.6 714,439.4 715,437.4 716,436.5 717,436.9 718,435.2 719,434.7 720,433.9 721,435.3 722,437.1 723,438.0 724,438.0 725,435.5 726,437.8 727,438.9 728,437.1 729,436.4 730,437.9 731,437.6 732,435.7 733,434.9 734,437.9 735,436.1 736,437.7 737,437.9 738,435.3 739,435.0 740,435.9 741,435.5 742,436.2 743,437.4 744,438.7 745,438.7 746,437.4 747,437.7 748,438.5 749,438.0 750,435.8 751,437.7 752,438.7 753,438.8 754,437.9 755,439.8 756,439.8 757,439.1 758,439.0 759,436.6 760,438.4 761,439.4 762,439.1 763,437.8 764,436.9 765,438.8 766,440.0 767,439.9 768,439.5 769,436.1 770,438.4 771,437.3 772,436.2 773,439.1 774,440.3 775,440.0 776,439.5 777,439.9 778,437.3 779,438.6 780,439.1 781,441.3 782,441.8 783,442.7 784,439.9 785,439.7 786,441.2 787,441.2 788,441.0 789,441.2 790,442.2 791,442.3 792,441.1 793,441.4 794,441.9 795,439.4 796,438.1 797,439.1 798,441.0 799,440.6 800,438.0 801,440.1 802,440.4 803,439.3 804,442.5 805,441.3 806,439.9 807,439.8 808,440.6 809,439.7 810,438.8 811,438.0 812,435.5 813,437.1 814,437.0 815,434.8 816,438.1 817,436.3 818,437.0 819,436.1 820,437.6 821,438.6 822,437.8 823,440.1 824,442.0 825,441.0 826,440.5 827,438.0 828,440.0 829,440.5 830,438.7 831,438.4 832,440.5 833,441.0 834,440.7 835,441.9 836,440.2 837,439.7M838,420.8 839,421.2 840,421.2 841,420.6 842,419.5 843,420.6 844,419.8 845,421.0 846,421.7 847,422.2 848,422.8 849,421.5 850,422.3 851,422.2 852,421.8 853,421.0 854,421.7 855,422.4 856,421.7 857,421.9 858,421.5 859,422.4 860,421.3 861,419.2 862,418.5 863,419.3 864,420.1 865,421.3 866,421.0 867,420.7 868,420.0 869,420.7 870,420.7 871,421.8 872,421.1 873,420.3 874,420.0 875,419.2 876,418.4 877,419.6 878,421.5 879,421.1 880,420.8 881,421.7 882,421.1 883,421.0 884,421.7 885,421.9 886,422.9 887,421.2 888,420.1 889,419.8 890,420.0 891,419.3 892,419.2"/>
<path class="tr" d="M528,421.6 529,421.2 530,422.3 531,422.8 532,420.5 533,421.0 534,420.1 535,420.2 536,420.5 537,420.4 538,420.8 539,421.0 540,420.4 541,422.0 542,421.6 543,421.0 544,420.9 545,420.3 546,420.9 547,420.4 548,420.6 549,421.7 550,422.3 551,423.8 552,421.8 553,421.9 554,422.9 555,422.7 556,422.8 557,422.3 558,423.9 559,421.8 560,422.4 561,419.8 562,420.2 563,420.4 564,419.3 565,420.6 566,423.2 567,422.5 568,422.6 569,422.0 570,423.6 571,422.5 572,421.8M573,558.4 574,553.2 575,548.4 576,543.9 577,539.7 578,534.5 579,531.3 580,527.3 581,523.3 582,520.3 583,516.9 584,512.8 585,509.8 586,506.9 587,502.3 588,498.9 589,498.0 590,494.7 591,492.9 592,491.3 593,486.5 594,484.1 595,483.2 596,483.3 597,480.3 598,480.0 599,477.2 600,473.3 601,474.5 602,473.9 603,471.5 604,469.6 605,469.1 606,470.8 607,469.2 608,470.2 609,470.7 610,470.7 611,470.2 612,469.1 613,469.0 614,466.3 615,468.7 616,464.6 617,461.7 618,464.0 619,463.6 620,462.5 621,461.9 622,463.5 623,462.8 624,464.5 625,464.9 626,464.8 627,464.1 628,463.4 629,463.5 630,460.7 631,459.6 632,460.4 633,461.8 634,461.6 635,463.2 636,462.0 637,464.6 638,463.1 639,464.5 640,461.2 641,459.5 642,459.1 643,460.1 644,458.9 645,459.0 646,460.1 647,460.1 648,461.5 649,459.5 650,455.9 651,458.5 652,458.3 653,457.4 654,459.3 655,457.5 656,458.6 657,461.1 658,459.6 659,458.9 660,459.1 661,459.9 662,459.8 663,456.8 664,458.8 665,458.3 666,457.5 667,457.4 668,456.8 669,456.8 670,456.6 671,457.5 672,455.7 673,456.2 674,456.2 675,455.0 676,455.0 677,456.2 678,456.7 679,456.3 680,456.9 681,456.7 682,456.4 683,455.2 684,455.1 685,456.3 686,458.4 687,458.0 688,457.2 689,458.1 690,459.8 691,457.8 692,457.9 693,456.0 694,455.2 695,455.8 696,457.8 697,454.4 698,453.7 699,453.3 700,453.2 701,455.0 702,455.8 703,455.5 704,454.6 705,452.9 706,454.7 707,453.5 708,453.4 709,455.0 710,455.2 711,455.8 712,455.0 713,455.4 714,455.5 715,457.5 716,456.6 717,454.0 718,457.0 719,454.0 720,454.2 721,455.4 722,453.4 723,453.9 724,452.5 725,453.4 726,455.9 727,453.3 728,457.8 729,459.0 730,455.7 731,456.7 732,459.2 733,457.8 734,458.2 735,456.5 736,456.0 737,455.7 738,455.5 739,454.6 740,455.2 741,456.8 742,454.5 743,456.6 744,454.5 745,454.8 746,454.4 747,456.0 748,457.5 749,455.8 750,456.7 751,455.8 752,454.6 753,456.3 754,457.3 755,452.6 756,456.5 757,458.5 758,455.1 759,454.2 760,454.8 761,453.2 762,454.0 763,455.5 764,454.1 765,452.9 766,454.0 767,454.7 768,454.3 769,456.3 770,455.7 771,456.5 772,457.1 773,455.2 774,456.2 775,458.3 776,458.3 777,456.8 778,454.6 779,454.7 780,457.2 781,455.8 782,457.1 783,456.2 784,454.8 785,454.8 786,453.3 787,454.3 788,453.7 789,455.2 790,455.1 791,451.2 792,452.9 793,450.7 794,454.2 795,454.0 796,454.0 797,452.6 798,452.1 799,453.3 800,452.5 801,455.7 802,457.1 803,455.4 804,454.6 805,455.2 806,453.2 807,452.9 808,454.8 809,452.4 810,454.2 811,454.6 812,453.7 813,456.3 814,456.6 815,453.9 816,453.2 817,452.4 818,452.1 819,455.1 820,454.2 821,452.2 822,452.4 823,455.8 824,457.3 825,457.2 826,458.6 827,456.7 828,456.7 829,454.9 830,454.2 831,455.6 832,455.9 833,454.9 834,454.3 835,456.9 836,458.3 837,455.7M838,421.3 839,420.1 840,421.3 841,420.4 842,419.7 843,418.7 844,419.0 845,418.7 846,419.2 847,418.7 848,417.6 849,418.6 850,419.1 851,421.0 852,420.0 853,419.4 854,418.4 855,418.5 856,418.2 857,418.2 858,417.2 859,419.5 860,419.0 861,419.3 862,418.4 863,418.7 864,420.2 865,419.8 866,418.1 867,420.0 868,420.4 869,420.2 870,420.1 871,420.1 872,419.2 873,420.5 874,420.8 875,421.4 876,420.9 877,419.7 878,420.4 879,418.6 880,419.0 881,419.7 882,419.4 883,418.8 884,417.9 885,419.6 886,420.0 887,418.6 888,418.2 889,418.9 890,418.9 891,418.5 892,418.0"/>
<path class="tr" d="M528,421.6 529,421.8 530,421.7 531,421.8 532,422.9 533,422.1 534,423.5 535,422.2 536,421.5 537,420.8 538,419.9 539,420.2 540,420.7 541,422.8 542,422.7 543,420.9 544,422.4 545,420.5 546,422.3 547,421.1 548,420.3 549,420.4 550,421.9 551,421.6 552,421.4 553,419.7 554,419.5 555,419.2 556,421.1 557,423.3 558,422.8 559,422.7 560,423.9 561,422.9 562,423.1 563,421.5 564,420.8 565,422.1 566,421.1 567,421.4 568,422.2 569,420.3 570,420.3 571,421.3 572,421.4M573,596.8 574,592.3 575,587.6 576,583.3 577,577.4 578,574.6 579,571.2 580,569.2 581,567.6 582,563.4 583,558.5 584,552.6 585,551.3 586,547.9 587,545.2 588,542.7 589,540.6 590,537.8 591,536.2 592,535.2 593,532.4 594,530.2 595,527.3 596,528.2 597,524.2 598,522.9 599,522.3 600,517.9 601,514.5 602,515.7 603,514.0 604,513.7 605,509.9 606,512.8 607,508.6 608,504.6 609,502.7 610,503.3 611,498.9 612,499.5 613,499.6 614,499.2 615,500.5 616,495.6 617,494.5 618,493.0 619,493.7 620,492.4 621,489.3 622,490.4 623,489.8 624,490.7 625,488.1 626,486.9 627,486.8 628,483.8 629,484.9 630,486.8 631,486.3 632,485.7 633,483.4 634,481.7 635,481.8 636,478.7 637,480.9 638,482.6 639,480.7 640,480.0 641,479.6 642,479.8 643,481.7 644,479.1 645,481.2 646,481.2 647,479.6 648,481.9 649,483.1 650,479.4 651,479.5 652,480.4 653,478.2 654,476.7 655,478.4 656,478.0 657,475.9 658,479.0 659,480.4 660,481.0 661,479.1 662,477.6 663,478.3 664,477.8 665,476.4 666,473.6 667,475.2 668,477.0 669,475.9 670,476.8 671,477.6 672,478.9 673,478.3 674,478.9 675,477.1 676,477.0 677,475.8 678,476.5 679,476.0 680,475.5 681,472.7 682,475.0 683,472.9 684,474.2 685,472.8 686,473.5 687,474.2 688,473.2 689,471.9 690,472.3 691,471.8 692,473.4 693,472.9 694,472.4 695,473.5 696,473.4 697,474.9 698,472.5 699,478.1 700,475.8 701,476.0 702,474.7 703,473.5 704,469.4 705,471.1 706,469.6 707,471.0 708,472.3 709,473.5 710,474.2 711,475.5 712,476.6 713,476.8 714,473.1 715,475.8 716,476.7 717,474.9 718,474.1 719,474.9 720,474.4 721,472.7 722,470.3 723,470.2 724,473.9 725,474.4 726,473.7 727,472.5 728,472.6 729,469.9 730,471.3 731,472.4 732,470.9 733,472.3 734,473.4 735,471.9 736,469.9 737,471.1 738,473.3 739,473.2 740,474.7 741,472.8 742,472.7 743,473.7 744,472.4 745,470.6 746,469.7 747,469.5 748,467.9 749,472.0 750,471.9 751,471.7 752,467.6 753,470.5 754,465.4 755,467.2 756,467.2 757,469.9 758,470.2 759,467.8 760,471.5 761,471.1 762,467.1 763,468.6 764,468.2 765,467.1 766,468.9 767,468.7 768,468.2 769,467.1 770,467.5 771,467.2 772,465.0 773,465.9 774,467.5 775,468.5 776,470.7 777,469.2 778,471.1 779,467.4 780,467.9 781,467.9 782,468.9 783,469.7 784,471.5 785,469.6 786,468.5 787,467.5 788,468.5 789,466.5 790,465.2 791,469.0 792,468.0 793,467.0 794,469.0 795,468.6 796,468.9 797,470.7 798,471.6 799,470.6 800,471.6 801,468.4 802,469.4 803,467.9 804,468.2 805,468.2 806,466.0 807,467.7 808,466.3 809,466.3 810,468.1 811,467.5 812,469.5 813,467.8 814,466.4 815,468.1 816,467.5 817,467.9 818,466.3 819,466.7 820,466.4 821,467.7 822,465.7 823,465.0 824,464.9 825,465.5 826,469.7 827,468.8 828,468.4 829,471.8 830,468.6 831,468.4 832,469.2 833,471.3 834,471.3 835,470.9 836,468.5 837,469.6M838,422.5 839,422.3 840,422.6 841,420.2 842,421.1 843,421.0 844,419.3 845,419.3 846,421.4 847,420.9 848,421.4 849,420.7 850,420.5 851,420.7 852,420.9 853,419.5 854,419.7 855,419.2 856,420.5 857,421.3 858,420.6 859,420.0 860,421.2 861,420.4 862,419.3 863,419.3 864,420.2 865,419.4 866,420.2 867,420.2 868,420.6 869,420.4 870,418.9 871,420.1 872,418.7 873,419.4 874,418.9 875,418.4 876,419.0 877,419.8 878,418.4 879,417.8 880,418.7 881,418.9 882,419.2 883,419.2 884,419.7 885,418.8 886,419.2 887,419.5 888,419.7 889,419.4 890,419.5 891,418.8 892,419.7"/>
<path class="tr" d="M528,421.6 529,421.6 530,420.5 531,420.7 532,421.9 533,423.2 534,421.9 535,421.5 536,420.5 537,423.0 538,422.9 539,421.9 540,422.3 541,422.7 542,421.1 543,421.8 544,421.4 545,420.0 546,422.1 547,420.8 548,420.3 549,420.4 550,422.4 551,422.0 552,420.9 553,422.6 554,420.3 555,421.3 556,422.3 557,420.8 558,421.7 559,420.1 560,421.2 561,420.4 562,421.4 563,420.1 564,419.2 565,419.2 566,420.6 567,421.0 568,421.8 569,421.4 570,422.5 571,422.5 572,422.6M573,610.8 574,607.3 575,604.1 576,599.9 577,595.9 578,593.6 579,591.5 580,589.3 581,586.4 582,583.0 583,579.9 584,578.2 585,574.7 586,573.2 587,570.2 588,567.1 589,565.8 590,562.5 591,562.2 592,562.0 593,559.2 594,556.8 595,556.5 596,552.7 597,552.7 598,551.3 599,549.1 600,547.4 601,547.4 602,544.3 603,541.9 604,538.6 605,536.3 606,539.0 607,535.8 608,537.2 609,534.8 610,529.5 611,529.1 612,526.5 613,525.8 614,526.5 615,524.1 616,524.0 617,524.3 618,523.0 619,523.3 620,518.6 621,518.0 622,518.5 623,516.8 624,517.6 625,517.5 626,519.5 627,514.9 628,511.1 629,512.7 630,512.0 631,509.9 632,508.9 633,507.5 634,508.2 635,507.6 636,508.8 637,507.8 638,504.2 639,507.0 640,508.7 641,509.3 642,508.4 643,509.6 644,508.6 645,506.7 646,505.9 647,504.5 648,506.2 649,503.1 650,501.9 651,503.3 652,504.9 653,503.5 654,501.6 655,501.5 656,499.8 657,503.8 658,501.4 659,501.1 660,500.4 661,499.6 662,498.0 663,497.2 664,496.7 665,495.7 666,498.8 667,499.0 668,497.4 669,498.5 670,500.7 671,497.9 672,495.3 673,494.5 674,492.1 675,494.0 676,494.0 677,493.5 678,494.5 679,494.4 680,495.4 681,496.5 682,493.5 683,493.9 684,493.4 685,493.5 686,494.1 687,492.7 688,492.6 689,495.7 690,497.0 691,497.9 692,494.9 693,495.5 694,493.9 695,493.5 696,494.4 697,492.5 698,492.5 699,495.8 700,490.6 701,492.4 702,494.4 703,494.1 704,495.2 705,497.0 706,497.4 707,493.6 708,493.8 709,492.4 710,493.6 711,491.6 712,491.0 713,491.2 714,491.3 715,490.0 716,492.2 717,491.9 718,492.0 719,492.9 720,488.3 721,491.3 722,491.0 723,494.7 724,494.2 725,493.2 726,494.5 727,492.1 728,492.6 729,491.2 730,491.7 731,491.8 732,490.6 733,491.6 734,489.6 735,492.8 736,492.8 737,493.3 738,492.1 739,489.9 740,490.0 741,489.0 742,490.4 743,491.0 744,492.8 745,493.7 746,495.4 747,496.4 748,494.6 749,493.4 750,494.5 751,494.3 752,491.7 753,488.4 754,489.6 755,489.9 756,488.1 757,489.3 758,490.0 759,490.1 760,490.3 761,492.0 762,492.6 763,491.2 764,490.6 765,487.6 766,492.5 767,495.0 768,494.2 769,496.4 770,495.3 771,492.6 772,489.9 773,491.3 774,489.8 775,489.5 776,489.9 777,489.0 778,487.3 779,489.0 780,491.5 781,494.0 782,492.7 783,492.1 784,491.7 785,491.8 786,489.9 787,487.0 788,487.7 789,486.7 790,488.0 791,486.1 792,488.2 793,487.2 794,488.1 795,488.7 796,487.0 797,488.9 798,487.1 799,488.0 800,491.9 801,490.5 802,490.1 803,487.7 804,488.6 805,491.1 806,490.9 807,490.8 808,491.9 809,492.2 810,489.1 811,488.8 812,488.5 813,491.2 814,488.2 815,490.5 816,489.0 817,488.8 818,487.7 819,485.0 820,486.8 821,488.4 822,486.5 823,486.8 824,483.6 825,485.2 826,485.2 827,486.9 828,485.4 829,486.1 830,486.1 831,487.2 832,487.5 833,484.8 834,486.2 835,486.5 836,486.9 837,487.1M838,421.9 839,419.2 840,420.9 841,420.9 842,422.1 843,421.1 844,419.0 845,419.7 846,419.4 847,419.3 848,418.5 849,417.7 850,418.2 851,417.4 852,418.7 853,418.2 854,418.2 855,417.8 856,418.1 857,416.9 858,418.5 859,418.3 860,417.9 861,417.1 862,416.6 863,417.2 864,416.2 865,417.7 866,417.1 867,416.4 868,417.1 869,416.9 870,416.6 871,418.1 872,418.4 873,418.5 874,418.8 875,419.0 876,418.9 877,418.4 878,418.5 879,419.5 880,417.5 881,417.7 882,417.9 883,418.7 884,418.0 885,417.5 886,417.5 887,416.4 888,418.2 889,417.2 890,417.5 891,417.3 892,417.7"/>
<path class="tr" d="M528,421.6 529,421.0 530,421.3 531,421.0 532,421.3 533,421.2 534,420.9 535,421.5 536,420.2 537,420.1 538,419.8 539,421.9 540,423.3 541,422.1 542,422.6 543,423.8 544,421.8 545,421.9 546,421.4 547,422.3 548,420.9 549,423.2 550,423.4 551,422.4 552,421.6 553,421.6 554,422.2 555,420.9 556,422.6 557,423.8 558,422.2 559,424.1 560,422.1 561,422.7 562,422.5 563,420.7 564,422.1 565,421.5 566,421.7 567,422.5 568,421.7 569,421.1 570,421.8 571,421.2 572,420.3M573,620.3 574,617.7 575,614.9 576,609.6 577,607.8 578,604.2 579,602.4 580,601.0 581,600.3 582,597.9 583,595.8 584,594.0 585,596.4 586,593.4 587,589.5 588,590.8 589,588.1 590,584.0 591,582.7 592,581.3 593,578.7 594,577.2 595,575.4 596,572.9 597,571.2 598,573.9 599,574.6 600,570.1 601,568.8 602,567.7 603,564.8 604,567.2 605,566.9 606,560.2 607,561.3 608,559.8 609,558.5 610,557.3 611,555.9 612,554.3 613,554.2 614,549.6 615,546.3 616,546.0 617,548.1 618,549.7 619,548.1 620,544.8 621,547.1 622,544.9 623,543.8 624,538.5 625,541.4 626,536.0 627,531.5 628,534.2 629,534.9 630,533.1 631,534.6 632,536.5 633,537.3 634,533.9 635,536.5 636,533.5 637,536.0 638,533.9 639,533.5 640,535.1 641,531.9 642,532.0 643,533.3 644,531.7 645,527.3 646,527.0 647,527.4 648,525.3 649,521.8 650,521.4 651,520.5 652,522.6 653,519.4 654,520.0 655,522.2 656,525.1 657,524.1 658,520.5 659,518.1 660,520.6 661,517.8 662,518.6 663,519.4 664,519.3 665,519.5 666,521.1 667,520.3 668,517.0 669,519.6 670,518.1 671,517.2 672,518.1 673,517.9 674,521.4 675,519.1 676,520.5 677,518.2 678,514.3 679,515.5 680,515.8 681,516.5 682,516.6 683,514.9 684,511.6 685,514.7 686,515.7 687,512.7 688,515.5 689,515.2 690,514.8 691,514.2 692,513.3 693,510.5 694,509.0 695,509.3 696,514.0 697,513.6 698,512.0 699,513.0 700,513.5 701,512.9 702,516.3 703,514.5 704,516.5 705,515.1 706,514.2 707,513.2 708,510.2 709,511.1 710,508.9 711,506.2 712,505.2 713,505.6 714,506.9 715,505.5 716,507.1 717,504.4 718,507.4 719,509.4 720,508.2 721,510.0 722,509.6 723,510.7 724,508.7 725,506.6 726,508.5 727,511.5 728,512.1 729,510.4 730,509.4 731,510.2 732,511.2 733,509.3 734,505.7 735,506.7 736,507.7 737,504.7 738,504.8 739,504.8 740,504.4 741,505.1 742,506.4 743,510.1 744,508.4 745,506.0 746,504.5 747,505.6 748,505.6 749,504.6 750,503.9 751,505.3 752,502.4 753,504.9 754,505.7 755,509.0 756,508.3 757,508.3 758,508.8 759,512.5 760,509.8 761,507.5 762,506.0 763,505.3 764,503.6 765,505.4 766,502.9 767,499.9 768,500.3 769,499.7 770,501.8 771,503.3 772,503.0 773,501.5 774,498.2 775,501.5 776,499.7 777,498.2 778,498.7 779,498.2 780,503.0 781,503.2 782,502.7 783,499.9 784,500.5 785,503.2 786,502.3 787,502.8 788,501.0 789,502.4 790,499.8 791,499.7 792,498.5 793,500.7 794,497.1 795,500.9 796,504.4 797,502.0 798,502.4 799,499.1 800,500.0 801,500.4 802,500.8 803,498.8 804,499.9 805,502.3 806,502.1 807,503.6 808,498.5 809,499.5 810,501.0 811,500.2 812,504.1 813,499.9 814,500.2 815,497.3 816,499.3 817,497.0 818,498.5 819,499.8 820,503.4 821,504.1 822,501.3 823,501.9 824,502.4 825,501.7 826,500.6 827,501.4 828,494.3 829,500.0 830,502.6 831,499.6 832,499.8 833,500.4 834,501.4 835,500.2 836,500.0 837,500.7M838,441.6 839,439.1 840,439.1 841,438.2 842,437.4 843,436.4 844,435.8 845,432.6 846,432.2 847,431.7 848,430.5 849,430.1 850,429.5 851,428.3 852,428.8 853,428.4 854,427.7 855,427.0 856,427.8 857,427.7 858,427.5 859,427.4 860,426.5 861,426.2 862,426.5 863,426.6 864,426.2 865,425.0 866,424.1 867,424.3 868,424.5 869,424.3 870,423.6 871,425.0 872,424.8 873,425.2 874,426.6 875,426.3 876,426.6 877,426.9 878,427.0 879,426.4 880,425.0 881,426.2 882,426.9 883,425.6 884,427.4 885,427.1 886,426.1 887,427.0 888,427.4 889,426.3 890,428.5 891,427.1 892,426.8"/>
<path class="tr" d="M528,421.6 529,420.2 530,419.5 531,421.4 532,421.1 533,420.1 534,420.7 535,421.6 536,420.9 537,422.3 538,420.9 539,420.6 540,421.8 541,422.1 542,421.3 543,420.5 544,420.9 545,421.1 546,422.7 547,421.6 548,421.8 549,420.6 550,420.1 551,421.0 552,422.1 553,421.8 554,422.1 555,420.1 556,421.9 557,422.2 558,422.3 559,421.5 560,420.2 561,419.1 562,418.7 563,420.9 564,418.5 565,420.0 566,419.4 567,419.6 568,420.7 569,420.5 570,420.7 571,419.2 572,421.5M573,624.6 574,622.3 575,620.1 576,618.4 577,617.5 578,614.2 579,612.3 580,611.6 581,610.4 582,609.5 583,607.0 584,606.0 585,604.7 586,602.7 587,601.2 588,602.2 589,599.1 590,598.5 591,599.1 592,596.9 593,595.1 594,593.0 595,591.4 596,591.4 597,589.3 598,589.0 599,587.7 600,588.6 601,585.6 602,586.2 603,584.0 604,582.8 605,586.0 606,584.0 607,581.9 608,579.7 609,580.6 610,576.1 611,576.0 612,575.5 613,574.5 614,572.1 615,573.5 616,573.8 617,572.5 618,573.6 619,571.6 620,571.4 621,570.8 622,574.3 623,570.7 624,568.1 625,566.1 626,563.3 627,561.7 628,562.5 629,560.3 630,559.6 631,556.8 632,557.2 633,552.5 634,553.9 635,554.3 636,553.8 637,553.5 638,553.5 639,551.3 640,553.7 641,555.8 642,553.4 643,551.4 644,546.4 645,546.1 646,543.9 647,543.1 648,540.4 649,543.2 650,543.8 651,544.7 652,548.5 653,545.1 654,542.7 655,540.8 656,545.2 657,545.5 658,541.6 659,542.3 660,543.1 661,539.4 662,541.3 663,538.7 664,538.4 665,541.0 666,540.6 667,538.2 668,537.3 669,537.6 670,538.2 671,537.7 672,533.8 673,536.4 674,536.0 675,535.5 676,533.2 677,533.2 678,533.1 679,531.2 680,532.6 681,529.8 682,532.9 683,528.4 684,532.0 685,533.1 686,529.3 687,529.9 688,527.1 689,531.4 690,528.7 691,531.7 692,529.0 693,530.1 694,532.2 695,528.3 696,528.2 697,530.6 698,525.3 699,528.2 700,527.6 701,529.1 702,526.7 703,527.2 704,525.3 705,525.4 706,521.8 707,523.6 708,525.0 709,523.2 710,523.7 711,523.5 712,524.5 713,522.0 714,521.7 715,521.6 716,519.4 717,518.5 718,518.7 719,523.6 720,520.5 721,518.8 722,518.2 723,515.5 724,521.9 725,521.3 726,520.0 727,515.7 728,519.1 729,515.2 730,517.0 731,519.9 732,517.5 733,520.2 734,521.5 735,518.1 736,518.0 737,517.1 738,517.1 739,516.3 740,515.0 741,514.2 742,516.2 743,515.1 744,516.4 745,514.4 746,516.0 747,514.2 748,514.3 749,513.8 750,514.3 751,515.0 752,518.4 753,513.3 754,513.4 755,513.2 756,512.8 757,511.2 758,517.1 759,516.1 760,517.1 761,515.4 762,511.0 763,513.4 764,511.8 765,509.3 766,514.5 767,510.9 768,514.7 769,516.3 770,515.6 771,515.6 772,516.3 773,515.3 774,512.6 775,512.3 776,513.2 777,513.0 778,509.9 779,511.2 780,514.6 781,510.6 782,511.0 783,512.2 784,513.0 785,513.3 786,514.4 787,512.1 788,514.2 789,511.6 790,510.6 791,510.8 792,512.4 793,509.3 794,510.3 795,509.6 796,509.4 797,510.0 798,509.8 799,511.4 800,512.6 801,509.8 802,510.6 803,511.2 804,511.3 805,513.6 806,512.7 807,514.2 808,511.7 809,512.3 810,509.7 811,508.7 812,508.4 813,508.6 814,509.2 815,509.1 816,509.6 817,510.4 818,511.1 819,509.2 820,508.8 821,507.9 822,505.9 823,508.4 824,507.0 825,505.0 826,506.5 827,509.2 828,508.4 829,506.3 830,508.5 831,512.6 832,512.9 833,509.5 834,510.4 835,509.0 836,508.4 837,508.6M838,469.8 839,463.7 840,458.0 841,454.1 842,449.9 843,446.4 844,444.1 845,441.3 846,439.5 847,436.1 848,435.1 849,433.6 850,431.7 851,432.1 852,431.5 853,429.9 854,429.6 855,427.7 856,426.9 857,428.0 858,427.8 859,427.1 860,426.3 861,425.5 862,425.9 863,425.3 864,426.0 865,427.2 866,425.3 867,425.0 868,425.2 869,424.5 870,425.0 871,424.1 872,425.4 873,424.8 874,425.2 875,424.6 876,425.1 877,426.5 878,425.9 879,425.1 880,425.4 881,424.4 882,424.3 883,424.2 884,424.0 885,424.9 886,425.0 887,424.1 888,424.3 889,425.3 890,423.7 891,424.1 892,424.1"/>
<path class="tr" d="M528,421.6 529,421.5 530,422.8 531,420.5 532,421.4 533,420.4 534,421.0 535,420.5 536,420.2 537,419.9 538,420.2 539,420.7 540,420.9 541,421.9 542,420.4 543,421.6 544,420.5 545,420.4 546,421.7 547,421.2 548,420.8 549,422.6 550,421.8 551,421.2 552,421.1 553,423.1 554,422.0 555,420.8 556,421.6 557,422.3 558,420.7 559,422.4 560,420.7 561,420.0 562,421.0 563,420.7 564,419.3 565,419.2 566,420.9 567,421.5 568,421.4 569,421.5 570,421.1 571,422.7 572,421.1M573,626.8 574,624.2 575,622.4 576,620.3 577,618.4 578,619.2 579,617.4 580,616.5 581,613.6 582,609.6 583,609.0 584,608.7 585,606.2 586,602.8 587,603.2 588,600.3 589,602.4 590,601.9 591,601.0 592,600.1 593,599.2 594,600.2 595,597.1 596,594.7 597,594.2 598,595.2 599,593.7 600,592.9 601,592.0 602,593.5 603,590.7 604,589.5 605,588.1 606,588.0 607,588.0 608,586.1 609,580.9 610,581.3 611,583.3 612,578.3 613,579.8 614,575.0 615,575.1 616,575.9 617,579.4 618,577.7 619,576.0 620,576.5 621,575.2 622,575.8 623,574.9 624,573.7 625,569.4 626,566.8 627,567.9 628,567.2 629,567.8 630,567.2 631,568.8 632,568.6 633,568.6 634,570.4 635,567.5 636,562.2 637,561.9 638,561.8 639,560.2 640,558.9 641,561.3 642,557.2 643,558.3 644,556.3 645,555.9 646,551.1 647,552.3 648,551.8 649,551.1 650,549.5 651,549.6 652,551.6 653,552.1 654,552.3 655,551.6 656,551.0 657,551.8 658,548.1 659,550.1 660,550.3 661,549.8 662,548.9 663,542.8 664,543.6 665,540.2 666,538.4 667,535.9 668,542.4 669,539.4 670,541.0 671,543.2 672,541.0 673,542.8 674,539.6 675,536.8 676,535.1 677,534.5 678,537.3 679,533.7 680,537.0 681,534.9 682,534.2 683,534.5 684,536.6 685,538.1 686,539.4 687,537.0 688,533.6 689,534.7 690,532.9 691,535.6 692,536.5 693,535.3 694,533.2 695,530.9 696,529.9 697,530.5 698,528.6 699,529.6 700,532.6 701,532.4 702,530.0 703,531.2 704,529.1 705,528.4 706,524.4 707,525.0 708,524.3 709,524.8 710,525.9 711,523.4 712,520.3 713,524.6 714,519.9 715,524.8 716,527.3 717,523.0 718,522.1 719,523.2 720,527.9 721,524.1 722,526.0 723,528.3 724,529.5 725,523.4 726,524.9 727,520.9 728,523.7 729,521.4 730,524.0 731,521.6 732,524.5 733,522.7 734,521.2 735,523.8 736,520.2 737,520.3 738,520.5 739,521.0 740,518.6 741,520.6 742,520.5 743,520.8 744,519.6 745,519.0 746,516.5 747,520.5 748,518.4 749,521.0 750,517.4 751,517.2 752,521.9 753,521.6 754,522.8 755,517.6 756,519.5 757,519.3 758,520.6 759,517.8 760,517.1 761,518.3 762,518.6 763,519.0 764,518.4 765,516.1 766,513.8 767,513.4 768,515.1 769,512.7 770,515.7 771,515.1 772,512.3 773,514.0 774,512.9 775,512.1 776,510.5 777,514.1 778,514.3 779,516.3 780,515.8 781,515.7 782,515.6 783,511.5 784,511.7 785,513.4 786,513.4 787,515.1 788,515.5 789,514.3 790,512.8 791,514.2 792,515.2 793,511.9 794,512.3 795,512.1 796,513.3 797,513.0 798,514.7 799,513.3 800,514.5 801,516.7 802,513.0 803,513.4 804,512.5 805,513.1 806,517.7 807,515.5 808,514.2 809,512.6 810,511.6 811,511.3 812,511.9 813,510.3 814,512.4 815,511.9 816,511.0 817,508.7 818,508.6 819,506.4 820,505.6 821,506.3 822,512.2 823,509.6 824,510.1 825,508.1 826,508.5 827,509.3 828,508.9 829,509.5 830,510.3 831,508.3 832,509.7 833,510.2 834,513.3 835,509.2 836,509.5 837,508.4M838,507.3 839,495.5 840,485.3 841,479.0 842,471.1 843,464.5 844,459.8 845,455.4 846,451.0 847,446.6 848,442.2 849,439.0 850,436.9 851,435.1 852,433.4 853,431.8 854,431.2 855,430.6 856,427.7 857,428.6 858,426.4 859,427.4 860,426.2 861,427.5 862,427.5 863,426.8 864,426.1 865,424.8 866,423.9 867,423.0 868,422.7 869,422.7 870,424.0 871,423.7 872,422.7 873,423.6 874,424.0 875,424.1 876,425.9 877,425.0 878,424.3 879,425.5 880,424.4 881,423.7 882,423.2 883,423.3 884,423.6 885,423.3 886,422.1 887,422.4 888,422.1 889,421.9 890,422.6 891,422.6 892,420.7"/>
<path class="tv" d="M572.6 416.1V626.8"/>
<path class="tv" style="stroke-width:2.4" d="M837.6 416.6V508.6"/>
<path class="tv" d="M837.6 416V514"/>
<path class="tr" d="M931,420.0 932,420.5 933,420.1 934,421.1 935,421.7 936,419.9 937,419.4 938,419.1 939,420.0 940,419.9 941,420.3 942,418.8 943,419.4 944,420.3 945,419.9 946,420.2 947,420.2 948,420.1 949,420.8 950,421.3 951,420.8 952,419.9 953,421.4 954,421.0 955,420.4 956,419.6 957,420.3 958,419.9 959,419.4 960,419.9 961,419.7 962,420.0 963,419.8 964,420.0 965,420.2 966,419.1 967,419.7 968,419.0 969,420.2 970,420.2 971,419.8 972,420.2 973,420.1 974,419.3 975,419.5 976,419.6 977,420.3 978,420.3 979,420.3 980,419.7 981,419.4 982,420.0 983,420.6 984,419.4 985,419.3 986,420.2 987,420.6 988,420.6 989,420.0 990,419.6 991,420.6 992,420.0 993,419.2 994,420.0 995,420.2 996,420.3 997,419.9 998,420.1 999,420.7 1000,419.4 1001,419.8 1002,421.0 1003,420.1 1004,419.6 1005,419.3 1006,420.1 1007,420.8 1008,420.1 1009,420.1 1010,420.3 1011,420.1 1012,420.2 1013,420.6 1014,420.0 1015,420.2 1016,419.5 1017,419.5 1018,420.0 1019,421.0 1020,420.6 1021,420.1 1022,420.6 1023,420.0 1024,419.3 1025,419.7 1026,420.0 1027,420.8 1028,419.6 1029,420.3 1030,420.5 1031,420.0 1032,419.4 1033,420.2 1034,420.7 1035,420.1 1036,420.6 1037,420.9 1038,421.2 1039,420.2 1040,419.5 1041,420.3 1042,419.9 1043,418.6 1044,419.4 1045,419.3 1046,420.1 1047,420.5 1048,420.0 1049,419.7 1050,420.5 1051,420.0 1052,420.2 1053,420.4 1054,420.2 1055,419.7 1056,421.0 1057,419.7 1058,419.4 1059,419.9 1060,420.2 1061,419.5 1062,419.7 1063,419.6 1064,419.6 1065,420.5 1066,419.6 1067,420.6 1068,420.3 1069,420.3 1070,419.8 1071,418.7 1072,419.2 1073,419.6 1074,419.4 1075,419.5 1076,419.8 1077,421.4 1078,420.0 1079,419.9 1080,420.1 1081,419.9 1082,418.8 1083,419.9 1084,420.2 1085,420.5 1086,420.0 1087,419.9 1088,420.3 1089,419.0 1090,419.6 1091,418.4 1092,419.0 1093,419.8 1094,420.1 1095,419.5 1096,420.1 1097,419.2 1098,419.8 1099,419.8 1100,419.7 1101,419.9 1102,420.5 1103,421.2 1104,420.0 1105,419.2 1106,419.8 1107,419.9 1108,420.0 1109,420.4 1110,420.0 1111,420.5 1112,419.9 1113,420.4 1114,420.6 1115,419.9 1116,419.7 1117,420.3 1118,420.2 1119,420.4 1120,420.5 1121,420.7 1122,420.3 1123,420.4 1124,420.3 1125,420.5 1126,420.1 1127,420.3 1128,419.9 1129,419.7 1130,420.6 1131,421.0 1132,419.8 1133,420.7 1134,420.5 1135,420.8 1136,420.5 1137,420.6 1138,419.8 1139,420.3 1140,419.1 1141,418.4 1142,419.5 1143,420.2 1144,419.9 1145,420.6 1146,420.6 1147,420.4 1148,420.3 1149,420.0 1150,419.8 1151,420.1 1152,419.3 1153,419.6 1154,419.4 1155,419.8 1156,420.4 1157,421.0 1158,420.1 1159,419.4 1160,420.7 1161,420.1 1162,420.7 1163,421.2 1164,419.5 1165,419.8 1166,419.8 1167,419.7 1168,419.5 1169,419.9 1170,419.7 1171,420.2 1172,420.1 1173,420.1 1174,420.2 1175,419.9 1176,420.0 1177,419.9 1178,419.7 1179,420.3 1180,420.7 1181,420.9 1182,420.8 1183,420.1 1184,419.1 1185,419.9 1186,418.7 1187,419.5 1188,419.6 1189,420.0 1190,419.2 1191,419.7 1192,419.7 1193,419.2 1194,419.0 1195,419.6 1196,419.3 1197,418.0 1198,419.8 1199,420.0 1200,420.3 1201,421.1 1202,420.7 1203,420.7 1204,419.6 1205,420.2 1206,420.2 1207,420.7 1208,420.8 1209,421.0 1210,420.4 1211,420.0 1212,419.4 1213,418.9 1214,419.8 1215,419.8 1216,420.0 1217,420.1 1218,419.9 1219,419.9 1220,419.8 1221,420.1 1222,420.5 1223,420.2 1224,419.4 1225,420.4 1226,419.9 1227,419.6 1228,420.5 1229,420.7 1230,419.6 1231,419.7 1232,419.8 1233,419.8 1234,419.6 1235,419.5 1236,418.7 1237,419.8 1238,419.8 1239,421.1 1240,420.4 1241,419.9 1242,420.5 1243,420.3 1244,419.8 1245,420.8 1246,420.6 1247,420.3 1248,420.4 1249,420.4 1250,420.5 1251,420.7 1252,420.5 1253,420.4 1254,420.4 1255,419.6 1256,419.4 1257,420.3 1258,420.0 1259,418.8 1260,419.9 1261,419.7 1262,419.4 1263,419.9 1264,419.9 1265,420.1 1266,420.5 1267,419.9 1268,420.0 1269,420.1 1270,420.5 1271,420.2 1272,419.8 1273,420.6 1274,419.4 1275,420.0 1276,419.9 1277,421.1 1278,420.1 1279,421.0 1280,420.5 1281,419.9 1282,419.7 1283,419.5 1284,420.2 1285,419.6 1286,420.4 1287,420.7 1288,419.8 1289,419.5 1290,419.3 1291,420.2 1292,420.3 1293,418.8 1294,419.6 1295,420.4 1296,419.4"/>
<path class="tr" d="M931,420.9 932,420.3 933,420.4 934,421.0 935,421.4 936,421.7 937,420.8 938,420.9 939,420.9 940,420.9 941,421.1 942,421.2 943,421.1 944,421.4 945,421.2 946,420.7 947,420.6 948,420.0 949,421.0 950,420.9 951,421.4 952,421.0 953,421.0 954,421.2 955,421.8 956,421.0 957,421.0 958,421.2 959,421.0 960,420.8 961,420.8 962,420.7 963,421.1 964,421.3 965,420.9 966,421.3 967,420.1 968,420.6 969,421.7 970,421.1 971,420.0 972,421.2 973,421.6 974,421.5 975,421.7 976,421.3 977,422.3 978,422.2 979,421.2 980,421.0 981,420.9 982,420.5 983,420.5 984,420.5 985,421.0 986,419.9 987,420.5 988,421.4 989,421.3 990,421.0 991,421.1 992,420.6 993,420.7 994,421.0 995,421.6 996,420.8 997,420.6 998,420.5 999,421.1 1000,421.0 1001,420.4 1002,420.6 1003,422.2 1004,420.8 1005,421.2 1006,420.2 1007,420.6 1008,421.5 1009,421.5 1010,420.9 1011,420.7 1012,420.3 1013,421.1 1014,421.7 1015,421.0 1016,420.5 1017,420.7 1018,421.2 1019,420.0 1020,421.2 1021,420.5 1022,420.6 1023,421.4 1024,421.7 1025,421.6 1026,420.5 1027,421.1 1028,421.3 1029,421.3 1030,421.5 1031,421.6 1032,420.1 1033,421.0 1034,420.3 1035,421.2 1036,420.9 1037,421.1 1038,421.1 1039,421.3 1040,421.0 1041,420.4 1042,420.6 1043,420.0 1044,420.5 1045,421.1 1046,421.7 1047,421.4 1048,420.9 1049,421.2 1050,420.9 1051,420.7 1052,420.7 1053,420.9 1054,420.6 1055,421.0 1056,420.4 1057,421.0 1058,420.6 1059,420.4 1060,420.7 1061,420.4 1062,419.9 1063,420.2 1064,421.0 1065,421.1 1066,420.2 1067,420.3 1068,420.4 1069,421.2 1070,420.9 1071,420.2 1072,421.2 1073,420.9 1074,421.8 1075,420.7 1076,421.2 1077,420.5 1078,420.5 1079,420.0 1080,421.1 1081,420.4 1082,420.9 1083,420.2 1084,421.3 1085,421.1 1086,420.7 1087,420.2 1088,420.4 1089,422.2 1090,421.8 1091,421.3 1092,422.1 1093,420.8 1094,420.6 1095,421.0 1096,420.6 1097,420.0 1098,420.4 1099,420.5 1100,421.2 1101,420.3 1102,420.3 1103,420.9 1104,420.8 1105,420.4 1106,420.2 1107,421.4 1108,420.7 1109,420.6 1110,420.6 1111,420.1 1112,420.4 1113,420.6 1114,420.6 1115,420.8 1116,420.6 1117,421.1 1118,421.2 1119,421.8 1120,419.8 1121,420.4 1122,421.0 1123,420.5 1124,420.1 1125,420.8 1126,421.0 1127,422.2 1128,421.4 1129,421.6 1130,422.3 1131,421.0 1132,420.7 1133,419.7 1134,421.4 1135,420.2 1136,419.9 1137,420.9 1138,420.6 1139,421.4 1140,421.1 1141,420.8 1142,420.2 1143,421.3 1144,421.0 1145,420.8 1146,421.2 1147,421.1 1148,420.9 1149,420.9 1150,421.1 1151,421.2 1152,420.3 1153,421.0 1154,420.0 1155,422.1 1156,420.8 1157,421.2 1158,420.7 1159,419.7 1160,420.6 1161,420.3 1162,420.8 1163,421.1 1164,421.6 1165,421.4 1166,421.4 1167,421.7 1168,420.8 1169,421.1 1170,421.1 1171,421.6 1172,420.6 1173,420.9 1174,420.5 1175,421.5 1176,420.9 1177,421.5 1178,420.6 1179,420.3 1180,420.9 1181,421.2 1182,420.5 1183,421.4 1184,420.6 1185,420.9 1186,420.3 1187,419.9 1188,420.2 1189,421.1 1190,421.0 1191,420.3 1192,421.0 1193,420.7 1194,420.7 1195,421.6 1196,420.8 1197,421.3 1198,420.4 1199,421.2 1200,421.5 1201,420.5 1202,421.0 1203,421.2 1204,420.2 1205,419.9 1206,420.4 1207,420.5 1208,420.8 1209,421.1 1210,421.4 1211,420.8 1212,420.8 1213,420.7 1214,422.2 1215,422.3 1216,421.0 1217,420.7 1218,420.9 1219,421.2 1220,420.4 1221,421.0 1222,420.9 1223,421.9 1224,421.7 1225,420.4 1226,420.3 1227,420.8 1228,420.4 1229,419.9 1230,420.7 1231,420.2 1232,420.6 1233,420.8 1234,421.4 1235,421.1 1236,422.4 1237,421.9 1238,421.6 1239,421.4 1240,421.2 1241,420.8 1242,420.9 1243,421.3 1244,420.3 1245,420.8 1246,421.9 1247,421.5 1248,421.4 1249,420.8 1250,421.0 1251,420.3 1252,420.3 1253,420.8 1254,420.6 1255,420.5 1256,422.0 1257,422.1 1258,421.9 1259,420.5 1260,420.8 1261,420.2 1262,420.6 1263,421.0 1264,420.9 1265,421.1 1266,421.2 1267,420.5 1268,420.3 1269,420.7 1270,420.9 1271,420.2 1272,419.5 1273,420.2 1274,420.4 1275,421.1 1276,421.1 1277,420.4 1278,421.0 1279,422.0 1280,421.6 1281,421.6 1282,421.5 1283,420.7 1284,420.9 1285,421.2 1286,421.4 1287,421.9 1288,421.6 1289,420.8 1290,420.4 1291,420.6 1292,421.7 1293,420.8 1294,422.1 1295,420.8 1296,420.2"/>
<path class="tr" d="M931,421.7 932,420.9 933,421.2 934,421.1 935,421.9 936,422.0 937,422.6 938,421.8 939,421.8 940,422.0 941,421.2 942,421.4 943,421.0 944,420.7 945,422.1 946,421.8 947,421.3 948,421.8 949,420.8 950,421.8 951,421.8 952,421.7 953,421.5 954,421.4 955,421.8 956,422.1 957,422.4 958,422.2 959,422.3 960,422.8 961,423.3 962,421.9 963,422.4 964,423.2 965,422.6 966,422.8 967,421.4 968,422.6 969,421.6 970,421.0 971,421.7 972,421.1 973,422.0 974,421.4 975,420.3 976,421.1 977,421.7 978,421.7 979,421.6 980,421.7 981,421.3 982,421.4 983,420.8 984,421.1 985,422.3 986,422.6 987,421.6 988,422.0 989,421.6 990,420.9 991,421.4 992,420.6 993,421.6 994,421.6 995,420.8 996,422.1 997,421.6 998,421.8 999,421.3 1000,421.0 1001,421.1 1002,420.9 1003,422.1 1004,421.7 1005,421.2 1006,421.3 1007,421.6 1008,420.5 1009,421.9 1010,422.4 1011,421.5 1012,421.9 1013,421.6 1014,422.1 1015,421.9 1016,422.0 1017,421.8 1018,422.0 1019,421.6 1020,421.8 1021,422.1 1022,421.8 1023,422.3 1024,422.0 1025,421.2 1026,421.1 1027,422.3 1028,422.1 1029,421.9 1030,421.7 1031,421.4 1032,420.9 1033,421.8 1034,421.0 1035,420.8 1036,421.2 1037,421.7 1038,421.1 1039,421.2 1040,421.6 1041,420.9 1042,421.2 1043,420.4 1044,422.6 1045,421.7 1046,421.6 1047,421.5 1048,421.7 1049,422.0 1050,421.9 1051,421.0 1052,421.9 1053,422.1 1054,421.3 1055,421.2 1056,422.5 1057,422.5 1058,422.0 1059,422.4 1060,422.1 1061,421.8 1062,422.0 1063,422.7 1064,422.2 1065,421.6 1066,421.7 1067,421.6 1068,422.9 1069,422.8 1070,421.8 1071,421.0 1072,421.4 1073,421.9 1074,422.1 1075,423.0 1076,421.9 1077,421.7 1078,422.4 1079,421.1 1080,421.4 1081,422.2 1082,422.2 1083,421.9 1084,421.3 1085,421.4 1086,422.2 1087,421.7 1088,421.1 1089,421.9 1090,421.1 1091,420.8 1092,421.4 1093,421.4 1094,422.3 1095,421.7 1096,420.5 1097,421.8 1098,422.0 1099,421.3 1100,420.8 1101,422.6 1102,422.3 1103,421.7 1104,422.3 1105,421.5 1106,421.7 1107,421.5 1108,421.5 1109,421.8 1110,422.3 1111,421.6 1112,421.6 1113,422.0 1114,421.0 1115,421.2 1116,421.1 1117,422.1 1118,421.7 1119,422.2 1120,420.8 1121,422.2 1122,421.9 1123,421.1 1124,421.7 1125,422.6 1126,422.4 1127,421.8 1128,421.6 1129,422.0 1130,421.4 1131,422.3 1132,422.3 1133,422.2 1134,421.4 1135,420.6 1136,421.9 1137,421.8 1138,421.2 1139,421.8 1140,422.3 1141,422.2 1142,421.6 1143,420.9 1144,421.8 1145,422.9 1146,422.4 1147,422.4 1148,421.7 1149,421.6 1150,421.0 1151,422.4 1152,422.6 1153,422.2 1154,421.3 1155,421.6 1156,421.7 1157,422.1 1158,421.6 1159,421.7 1160,422.2 1161,422.0 1162,422.5 1163,421.5 1164,421.1 1165,421.7 1166,422.2 1167,422.5 1168,421.6 1169,421.5 1170,421.7 1171,420.9 1172,421.2 1173,421.5 1174,421.8 1175,421.3 1176,421.8 1177,421.3 1178,420.9 1179,421.5 1180,421.1 1181,421.0 1182,421.6 1183,421.4 1184,421.7 1185,422.2 1186,421.4 1187,421.3 1188,421.6 1189,421.8 1190,421.7 1191,421.3 1192,421.5 1193,421.5 1194,421.4 1195,421.5 1196,421.3 1197,421.6 1198,421.2 1199,421.7 1200,422.6 1201,421.1 1202,421.7 1203,421.0 1204,421.4 1205,421.2 1206,421.2 1207,421.7 1208,421.8 1209,421.7 1210,421.7 1211,422.3 1212,422.0 1213,421.9 1214,422.0 1215,421.5 1216,422.2 1217,421.5 1218,421.7 1219,422.1 1220,421.7 1221,422.0 1222,421.5 1223,421.5 1224,420.2 1225,421.7 1226,422.3 1227,422.5 1228,422.8 1229,422.4 1230,421.8 1231,422.5 1232,422.7 1233,421.8 1234,420.9 1235,421.6 1236,422.5 1237,421.5 1238,422.4 1239,422.3 1240,422.7 1241,421.9 1242,421.8 1243,421.5 1244,421.6 1245,421.7 1246,421.4 1247,421.0 1248,421.7 1249,422.0 1250,421.4 1251,420.1 1252,420.5 1253,420.7 1254,421.7 1255,422.0 1256,421.6 1257,422.0 1258,421.8 1259,422.1 1260,421.2 1261,421.3 1262,421.4 1263,421.0 1264,422.0 1265,422.3 1266,420.9 1267,422.4 1268,421.4 1269,421.7 1270,421.5 1271,421.3 1272,421.4 1273,422.5 1274,421.7 1275,421.6 1276,422.2 1277,422.0 1278,421.3 1279,421.4 1280,421.0 1281,421.5 1282,420.6 1283,421.1 1284,421.5 1285,421.5 1286,421.6 1287,421.3 1288,422.0 1289,421.8 1290,422.6 1291,422.2 1292,421.7 1293,421.8 1294,422.8 1295,422.3 1296,421.8"/>
<path class="tr" d="M931,422.6 932,421.7 933,422.9 934,422.7 935,421.9 936,422.3 937,422.0 938,421.9 939,421.6 940,422.7 941,422.2 942,421.7 943,422.0 944,423.0 945,421.4 946,421.8 947,423.1 948,423.2 949,423.1 950,421.9 951,422.3 952,422.2 953,422.2 954,422.7 955,421.7 956,422.3 957,422.8 958,421.7 959,421.4 960,422.5 961,422.6 962,422.6 963,422.1 964,422.6 965,421.9 966,422.4 967,422.6 968,423.3 969,422.5 970,421.5 971,421.9 972,422.6 973,422.2 974,422.6 975,423.0 976,422.4 977,422.8 978,422.6 979,421.7 980,422.2 981,422.2 982,423.3 983,423.0 984,422.9 985,422.0 986,422.4 987,422.9 988,421.6 989,422.0 990,421.7 991,422.3 992,422.4 993,422.9 994,423.4 995,422.8 996,422.5 997,422.9 998,422.0 999,422.3 1000,421.9 1001,422.6 1002,422.7 1003,421.7 1004,421.4 1005,422.7 1006,422.8 1007,422.6 1008,422.9 1009,422.4 1010,422.4 1011,422.8 1012,423.0 1013,423.5 1014,422.4 1015,422.5 1016,422.2 1017,423.8 1018,422.4 1019,422.4 1020,423.6 1021,422.6 1022,423.2 1023,423.0 1024,422.7 1025,423.3 1026,422.6 1027,422.2 1028,422.3 1029,422.7 1030,422.9 1031,422.5 1032,422.4 1033,421.6 1034,422.2 1035,421.9 1036,422.5 1037,423.6 1038,423.7 1039,423.4 1040,422.9 1041,422.8 1042,422.6 1043,423.0 1044,422.7 1045,421.7 1046,422.4 1047,423.3 1048,422.5 1049,421.7 1050,422.3 1051,422.8 1052,422.9 1053,423.3 1054,422.2 1055,423.1 1056,422.9 1057,422.4 1058,423.2 1059,423.4 1060,423.1 1061,422.4 1062,423.0 1063,422.3 1064,423.2 1065,422.7 1066,422.6 1067,422.4 1068,424.3 1069,422.2 1070,422.5 1071,422.7 1072,422.5 1073,423.1 1074,421.5 1075,421.9 1076,422.5 1077,423.8 1078,423.7 1079,423.2 1080,422.7 1081,422.8 1082,423.6 1083,423.2 1084,422.5 1085,421.8 1086,423.1 1087,422.6 1088,422.6 1089,423.2 1090,423.2 1091,422.6 1092,422.9 1093,423.2 1094,421.9 1095,422.3 1096,422.6 1097,421.8 1098,422.0 1099,423.1 1100,422.9 1101,422.1 1102,422.7 1103,423.1 1104,422.5 1105,421.8 1106,422.3 1107,422.2 1108,422.4 1109,421.9 1110,422.6 1111,422.9 1112,423.3 1113,422.1 1114,422.9 1115,422.6 1116,423.3 1117,422.4 1118,422.3 1119,422.4 1120,421.7 1121,422.0 1122,422.6 1123,422.7 1124,423.1 1125,423.3 1126,421.5 1127,422.4 1128,422.6 1129,421.9 1130,422.2 1131,422.2 1132,423.6 1133,422.8 1134,422.7 1135,423.3 1136,422.7 1137,423.2 1138,422.0 1139,423.1 1140,422.4 1141,422.4 1142,421.7 1143,420.9 1144,422.3 1145,422.5 1146,421.8 1147,422.5 1148,422.9 1149,422.6 1150,422.4 1151,422.4 1152,422.9 1153,423.0 1154,422.5 1155,421.9 1156,421.6 1157,421.7 1158,422.9 1159,422.9 1160,422.8 1161,423.1 1162,423.2 1163,422.8 1164,422.6 1165,421.2 1166,422.0 1167,421.9 1168,423.2 1169,422.7 1170,421.7 1171,422.3 1172,422.7 1173,422.1 1174,423.4 1175,423.6 1176,422.4 1177,422.3 1178,422.3 1179,422.2 1180,422.7 1181,422.8 1182,422.7 1183,423.0 1184,421.9 1185,422.3 1186,422.2 1187,421.4 1188,423.0 1189,423.6 1190,423.1 1191,422.9 1192,422.4 1193,422.8 1194,423.2 1195,422.7 1196,422.6 1197,423.7 1198,423.6 1199,422.8 1200,422.7 1201,422.6 1202,422.2 1203,422.6 1204,422.6 1205,421.6 1206,422.6 1207,422.3 1208,422.4 1209,422.4 1210,423.2 1211,422.6 1212,423.0 1213,422.1 1214,422.2 1215,423.1 1216,422.8 1217,422.7 1218,421.8 1219,422.4 1220,422.8 1221,423.0 1222,421.8 1223,422.4 1224,422.8 1225,422.9 1226,422.2 1227,422.4 1228,422.7 1229,422.1 1230,422.5 1231,422.3 1232,423.9 1233,422.3 1234,422.6 1235,422.5 1236,422.5 1237,422.7 1238,423.0 1239,423.3 1240,422.4 1241,421.9 1242,422.2 1243,422.0 1244,422.7 1245,423.3 1246,422.7 1247,422.7 1248,422.4 1249,422.4 1250,422.7 1251,423.7 1252,422.0 1253,423.3 1254,422.2 1255,422.4 1256,423.0 1257,422.6 1258,422.5 1259,422.2 1260,422.2 1261,422.6 1262,423.2 1263,422.5 1264,422.6 1265,422.5 1266,422.8 1267,422.9 1268,421.4 1269,421.9 1270,423.2 1271,423.9 1272,422.6 1273,423.7 1274,423.2 1275,422.0 1276,422.3 1277,423.2 1278,423.4 1279,422.9 1280,422.5 1281,421.8 1282,422.2 1283,421.6 1284,422.3 1285,422.5 1286,422.6 1287,423.3 1288,422.4 1289,421.6 1290,421.6 1291,422.8 1292,422.0 1293,422.8 1294,422.2 1295,423.2 1296,422.6"/>
<path class="tr" d="M974 421V427.5"/>
<path class="tr" d="M1239 416.5V421.5"/>
</g>
<g><path d="M149.5 938.2V1389.6" class="ax"/><path d="M166.1 1388.1H544.4" class="ax"/><path d="M149.5 942.2h16.5" class="ax"/><text transform="translate(137.5 957.5) scale(1 1.04)" text-anchor="end">1.0</text><path d="M149.5 985.4h8.5" class="ax"/><path d="M149.5 1027.0h16.5" class="ax"/><text transform="translate(137.5 1042.3) scale(1 1.04)" text-anchor="end">0.8</text><path d="M149.5 1070.2h8.5" class="ax"/><path d="M149.5 1111.8h16.5" class="ax"/><text transform="translate(137.5 1127.1) scale(1 1.04)" text-anchor="end">0.6</text><path d="M149.5 1155.0h8.5" class="ax"/><path d="M149.5 1196.6h16.5" class="ax"/><text transform="translate(137.5 1211.9) scale(1 1.04)" text-anchor="end">0.4</text><path d="M149.5 1239.8h8.5" class="ax"/><path d="M149.5 1281.4h16.5" class="ax"/><text transform="translate(137.5 1296.7) scale(1 1.04)" text-anchor="end">0.2</text><path d="M149.5 1324.6h8.5" class="ax"/><path d="M149.5 1366.2h16.5" class="ax"/><text transform="translate(137.5 1381.5) scale(1 1.04)" text-anchor="end">0.0</text><text transform="translate(56.5 1156.2) rotate(-90) scale(1 1.04)" text-anchor="middle">Current (nA)</text><text transform="translate(246.5 876.8) scale(1 1.04)" word-spacing="2.5">IHCs, Apex</text><path d="M250.0 1238.5V1227.5M238.5 1227.5h23" class="ax"/><rect x="218.2" y="1236.5" width="67.6" height="151.6" fill="#222222"/><path d="M355.6 1211.0V1195.0M344.1 1195.0h23" class="ax"/><rect x="323.9" y="1211.2" width="62.8" height="176.9" fill="#9c9c9c" stroke="#222222" stroke-width="4.5"/><rect x="431.2" y="1366.5" width="63.1" height="21.7" fill="#ffffff" stroke="#222222" stroke-width="4.5"/><text transform="translate(250.3 1215.5) scale(1 1.04)" class="n" text-anchor="middle">28</text><text transform="translate(356.1 1185) scale(1 1.04)" class="n" text-anchor="middle">12</text><text transform="translate(462.3 1355) scale(1 1.04)" class="n" text-anchor="middle">4</text></g>
<g><path d="M718.5 938.2V1389.6" class="ax"/><path d="M735.1 1388.1H1113.4" class="ax"/><path d="M718.5 942.2h16.5" class="ax"/><text transform="translate(708.0 957.5) scale(1 1.04)" text-anchor="end">1.0</text><path d="M718.5 985.4h8.5" class="ax"/><path d="M718.5 1027.0h16.5" class="ax"/><text transform="translate(708.0 1042.3) scale(1 1.04)" text-anchor="end">0.8</text><path d="M718.5 1070.2h8.5" class="ax"/><path d="M718.5 1111.8h16.5" class="ax"/><text transform="translate(708.0 1127.1) scale(1 1.04)" text-anchor="end">0.6</text><path d="M718.5 1155.0h8.5" class="ax"/><path d="M718.5 1196.6h16.5" class="ax"/><text transform="translate(708.0 1211.9) scale(1 1.04)" text-anchor="end">0.4</text><path d="M718.5 1239.8h8.5" class="ax"/><path d="M718.5 1281.4h16.5" class="ax"/><text transform="translate(708.0 1296.7) scale(1 1.04)" text-anchor="end">0.2</text><path d="M718.5 1324.6h8.5" class="ax"/><path d="M718.5 1366.2h16.5" class="ax"/><text transform="translate(708.0 1381.5) scale(1 1.04)" text-anchor="end">0.0</text><text transform="translate(625.5 1156.2) rotate(-90) scale(1 1.04)" text-anchor="middle">Current (nA)</text><text transform="translate(806 876.8) scale(1 1.04)" word-spacing="2.5">OHCs, Apex</text><path d="M817.7 1087.4V1069.3M806.2 1069.3h23" class="ax"/><rect x="783.8" y="1085.4" width="68.0" height="302.7" fill="#222222"/><path d="M922.9 1185.6V1168.0M911.4 1168.0h23" class="ax"/><rect x="892.8" y="1185.8" width="63.4" height="202.3" fill="#9c9c9c" stroke="#222222" stroke-width="4.5"/><rect x="998.2" y="1366.5" width="63.0" height="21.7" fill="#ffffff" stroke="#222222" stroke-width="4.5"/><text transform="translate(817.3 1058.3) scale(1 1.04)" class="n" text-anchor="middle">6</text><text transform="translate(923.5 1159) scale(1 1.04)" class="n" text-anchor="middle">12</text><text transform="translate(1030 1355) scale(1 1.04)" class="n" text-anchor="middle">4</text><path d="M817.7 1025.6V1008H922.8V1025.6" class="ax"/><text transform="translate(873 1005.7) scale(1 1.04)" class="st" text-anchor="middle">**</text></g>
<g><path d="M149.5 1604.3V2055.7" class="ax"/><path d="M166.1 2054.2H544.4" class="ax"/><path d="M149.5 1608.3h16.5" class="ax"/><text transform="translate(137.5 1623.6) scale(1 1.04)" text-anchor="end">1.0</text><path d="M149.5 1651.5h8.5" class="ax"/><path d="M149.5 1693.1h16.5" class="ax"/><text transform="translate(137.5 1708.4) scale(1 1.04)" text-anchor="end">0.8</text><path d="M149.5 1736.3h8.5" class="ax"/><path d="M149.5 1777.9h16.5" class="ax"/><text transform="translate(137.5 1793.2) scale(1 1.04)" text-anchor="end">0.6</text><path d="M149.5 1821.1h8.5" class="ax"/><path d="M149.5 1862.7h16.5" class="ax"/><text transform="translate(137.5 1878.0) scale(1 1.04)" text-anchor="end">0.4</text><path d="M149.5 1905.9h8.5" class="ax"/><path d="M149.5 1947.5h16.5" class="ax"/><text transform="translate(137.5 1962.8) scale(1 1.04)" text-anchor="end">0.2</text><path d="M149.5 1990.7h8.5" class="ax"/><path d="M149.5 2032.3h16.5" class="ax"/><text transform="translate(137.5 2047.6) scale(1 1.04)" text-anchor="end">0.0</text><text transform="translate(56.5 1822.3) rotate(-90) scale(1 1.04)" text-anchor="middle">Current (nA)</text><text transform="translate(246.5 1518.8) scale(1 1.04)" word-spacing="2.5">IHCs, Base</text><path d="M247.9 1814.9V1801.5M236.4 1801.5h23" class="ax"/><rect x="212.6" y="1812.9" width="68.0" height="241.3" fill="#222222"/><path d="M353.2 1851.6V1833.4M341.7 1833.4h23" class="ax"/><rect x="321.4" y="1851.8" width="63.5" height="202.3" fill="#9c9c9c" stroke="#222222" stroke-width="4.5"/><rect x="427.8" y="2032.5" width="63.0" height="21.6" fill="#ffffff" stroke="#222222" stroke-width="4.5"/><text transform="translate(248.7 1792) scale(1 1.04)" class="n" text-anchor="middle">19</text><text transform="translate(352.9 1824) scale(1 1.04)" class="n" text-anchor="middle">20</text><text transform="translate(459 2021.5) scale(1 1.04)" class="n" text-anchor="middle">4</text></g>
<g><path d="M718.5 1604.3V2055.7" class="ax"/><path d="M735.1 2054.2H1113.4" class="ax"/><path d="M718.5 1608.3h16.5" class="ax"/><text transform="translate(708.0 1623.6) scale(1 1.04)" text-anchor="end">1.0</text><path d="M718.5 1651.5h8.5" class="ax"/><path d="M718.5 1693.1h16.5" class="ax"/><text transform="translate(708.0 1708.4) scale(1 1.04)" text-anchor="end">0.8</text><path d="M718.5 1736.3h8.5" class="ax"/><path d="M718.5 1777.9h16.5" class="ax"/><text transform="translate(708.0 1793.2) scale(1 1.04)" text-anchor="end">0.6</text><path d="M718.5 1821.1h8.5" class="ax"/><path d="M718.5 1862.7h16.5" class="ax"/><text transform="translate(708.0 1878.0) scale(1 1.04)" text-anchor="end">0.4</text><path d="M718.5 1905.9h8.5" class="ax"/><path d="M718.5 1947.5h16.5" class="ax"/><text transform="translate(708.0 1962.8) scale(1 1.04)" text-anchor="end">0.2</text><path d="M718.5 1990.7h8.5" class="ax"/><path d="M718.5 2032.3h16.5" class="ax"/><text transform="translate(708.0 2047.6) scale(1 1.04)" text-anchor="end">0.0</text><text transform="translate(625.5 1822.3) rotate(-90) scale(1 1.04)" text-anchor="middle">Current (nA)</text><text transform="translate(806 1518.8) scale(1 1.04)" word-spacing="2.5">OHCs, Base</text><path d="M815.9 1642.2V1628.3M804.4 1628.3h23" class="ax"/><rect x="781.5" y="1640.2" width="67.5" height="414.0" fill="#222222"/><path d="M921.7 1820.0V1809.3M910.2 1809.3h23" class="ax"/><rect x="888.5" y="1820.2" width="63.6" height="233.9" fill="#9c9c9c" stroke="#222222" stroke-width="4.5"/><rect x="996.5" y="2032.5" width="63.0" height="21.6" fill="#ffffff" stroke="#222222" stroke-width="4.5"/><text transform="translate(815.6 1618) scale(1 1.04)" class="n" text-anchor="middle">12</text><text transform="translate(919.3 1800.6) scale(1 1.04)" class="n" text-anchor="middle">20</text><text transform="translate(1028.5 2021) scale(1 1.04)" class="n" text-anchor="middle">4</text><path d="M817.7 1583.4V1565.8H922.8V1583.4" class="ax"/><text transform="translate(872.7 1563.2) scale(1 1.04)" class="st" text-anchor="middle">***</text></g>
<rect x="322" y="2135" width="62" height="27.5" fill="#222222"/>
<rect x="324.3" y="2201.3" width="57.4" height="23.4" fill="#9c9c9c" stroke="#222222" stroke-width="4.6"/>
<rect x="324.3" y="2266.3" width="57.4" height="22.9" fill="#fff" stroke="#222222" stroke-width="4.6"/>
<text transform="translate(421 2159) scale(1 1.04)"><tspan class="it">Tmc1</tspan><tspan class="up" font-size="22.6" dy="-11.7">+/</tspan><tspan class="dl" font-size="22.6">Δ</tspan><tspan dy="11.7">;</tspan><tspan class="it">Tmc2</tspan><tspan class="dl" font-size="22.6" dy="-11.7">Δ</tspan><tspan class="up" font-size="22.6">/</tspan><tspan class="dl" font-size="22.6">Δ</tspan><tspan dy="11.7"></tspan></text>
<text transform="translate(421 2223.5) scale(1 1.04)">Tg[P<tspan class="it" font-size="24.5" dy="13" dx="-2.5">Tmc1</tspan><tspan dy="-13" dx="-2" class="it">-Tmc2</tspan>];<tspan class="it">Tmc1</tspan><tspan class="dl" font-size="22.6" dy="-11.7">Δ</tspan><tspan class="up" font-size="22.6">/</tspan><tspan class="dl" font-size="22.6">Δ</tspan><tspan dy="11.7">;</tspan><tspan class="it">Tmc2</tspan><tspan class="dl" font-size="22.6" dy="-11.7">Δ</tspan><tspan class="up" font-size="22.6">/</tspan><tspan class="dl" font-size="22.6">Δ</tspan><tspan dy="11.7"></tspan></text>
<text transform="translate(421 2287.8) scale(1 1.04)"><tspan class="it">Tmc1</tspan><tspan class="dl" font-size="22.6" dy="-11.7">Δ</tspan><tspan class="up" font-size="22.6">/</tspan><tspan class="dl" font-size="22.6">Δ</tspan><tspan dy="11.7">;</tspan><tspan class="it">Tmc2</tspan><tspan class="dl" font-size="22.6" dy="-11.7">Δ</tspan><tspan class="up" font-size="22.6">/</tspan><tspan class="dl" font-size="22.6">Δ</tspan><tspan dy="11.7"></tspan></text>
</svg></body></html>
